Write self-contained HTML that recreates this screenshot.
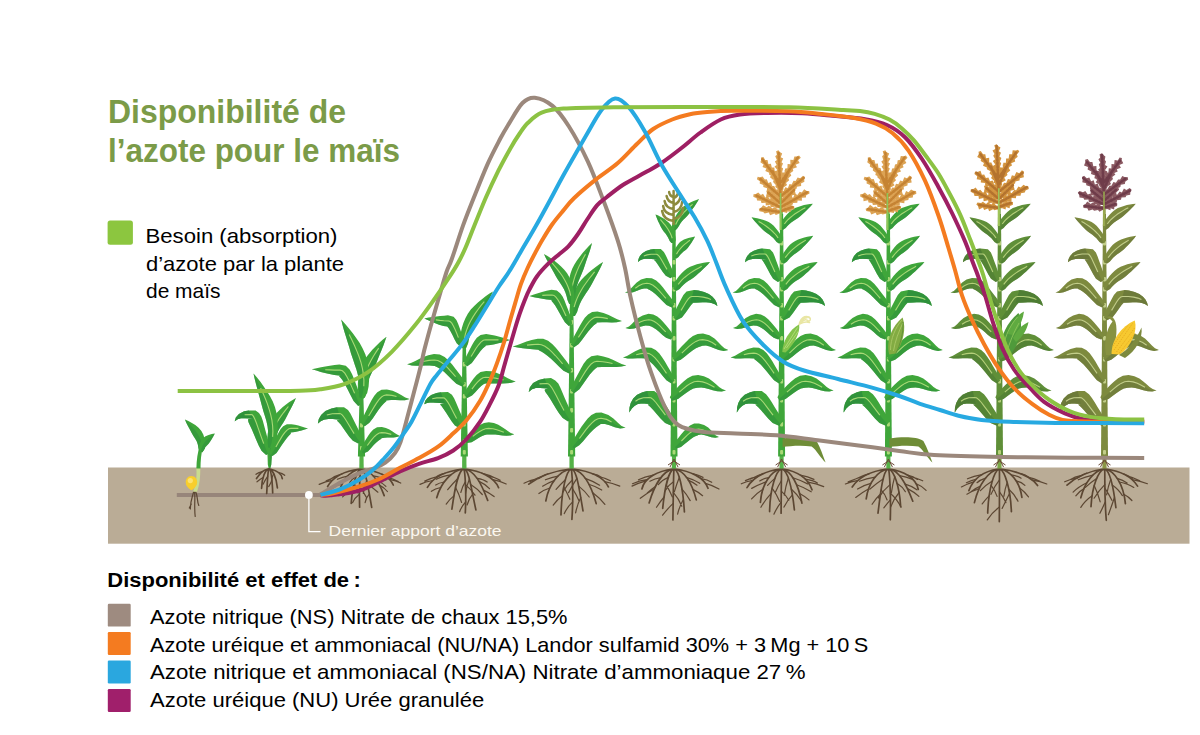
<!DOCTYPE html>
<html lang="fr"><head><meta charset="utf-8"><title>Disponibilité de l’azote pour le maïs</title>
<style>html,body{margin:0;padding:0;background:#fff;}body{width:1200px;height:735px;overflow:hidden;font-family:"Liberation Sans",sans-serif;}svg{display:block;}text{font-family:"Liberation Sans",sans-serif;}</style>
</head><body>
<svg width="1200" height="735" viewBox="0 0 1200 735">
<rect x="0" y="0" width="1200" height="735" fill="#fff"/>
<rect x="108" y="467.5" width="1081.5" height="76.2" fill="#baac96"/>
<g id="plants">
<path d="M176.8 495H322" stroke="#97857a" stroke-width="4" fill="none"/>
<path d="M193.6 492c-1.5 6 -3.5 10 -3.2 17M194.6 492c0.8 7 -0.6 14 0.6 24.5M195.8 492c2.2 5 1 9 3 13.5M191.3 504l-2 4" fill="none" stroke="#5c4733" stroke-width="1.2" stroke-linecap="round"/>
<path d="M196.3 467.5C197 478 196 486 193 491.5L197 491.8C199.8 484 200.4 476 200.3 467.5Z" fill="#c9dc8e"/>
<path d="M191.4 476C195 476 197.2 479 197.2 482.3C197.2 485.8 194.8 488 192.6 489.6C191.9 490.3 191 490.3 190.3 489.6C188 488 185.7 485.8 185.7 482.3C185.7 479 188 476 191.4 476Z" fill="#f8ce2c"/><circle cx="190.3" cy="480.6" r="2.6" fill="#fde272"/>
<path d="M196.4 468.5C196.6 460 197.6 452 200 445L203 447C201 454 200.6 461 200.5 468.5Z" fill="#3fa63a"/>
<path d="M202.3 452.4 204.9 448.2 205.1 443.6 204.6 439.1 203.4 434.8 201.4 430.9 198.6 427.7 195.3 425.1 191.9 422.9 188.4 421 184.9 419.5 184.9 419.5 186.4 423 188.2 426.4 190 429.8 191.7 433.1 193.4 436.1 195.2 438.8 196.8 441.5 197.8 444.4 198.3 447.6 199.3 451.6 Z" fill="#3fa63a"/>
<path d="M200.8 452 201.6 447.9 201.5 444 200.7 440.3 199.3 436.8 197.4 433.5 195.2 430.4 192.7 427.4 190 424.7 187.4 422 184.9 419.5 184.9 419.5 186.4 423 188.2 426.4 190 429.8 191.7 433.1 193.4 436.1 195.2 438.8 196.8 441.5 197.8 444.4 198.3 447.6 199.3 451.6 Z" fill="#2d8f3c" opacity=".55"/>
<path d="M202.5 451.9 204.2 449.4 205.3 447.3 206.9 445.5 208.6 443.7 210.2 441.5 211.8 438.9 213.4 436.2 214.8 433.4 214.8 433.4 211.7 434 208.6 434.9 205.5 436.3 202.8 438.3 200.8 441.3 199.4 444.7 198.7 448.3 199.9 452.1 Z" fill="#3fa63a"/>
<path d="M201.2 452 201.4 448.8 202.4 446 203.8 443.4 205.7 441 207.9 438.9 210.2 436.9 212.5 435.1 214.8 433.4 214.8 433.4 213.4 436.2 211.8 438.9 210.2 441.5 208.6 443.7 206.9 445.5 205.3 447.3 204.2 449.4 202.5 451.9 Z" fill="#2d8f3c" opacity=".55"/>
<path d="M267.9 469C263 470.2 260.9 472.5 256.5 478.6M268.3 469C265.5 470.2 261.9 476.8 261.6 488.3M268.8 469C267.9 470.2 267.5 479.2 266.7 493.5M269.3 469C270.6 470.2 272.2 478.9 272.7 492.9M269.7 469C272.6 470.2 276.2 476.6 277.4 487.8M270.1 469C275 470.2 281.7 472.5 282.3 478.6" fill="none" stroke="#5c4733" stroke-width="1.7" stroke-linecap="round"/>
<path d="M262.5 471.6Q258.6 472.2 256 474.3M263.1 477.4Q260.6 478.9 257 481.8M267.7 476.4Q265.3 479.6 263.1 484.2M271.8 480.5Q271 482.8 268.7 486.6M273.7 473.5Q271.7 477 271.3 481.9M278.9 472.7Q282.4 473.3 284.7 475.3" fill="none" stroke="#5c4733" stroke-width="1.2" stroke-linecap="round"/>
<path d="M270.4 468 271.3 464.6 271.5 461 271.8 457.4 272 453.9 272.2 450.6 272.4 447.7 272.5 445.2 272.4 443.3 272.1 442.2 268.3 442.3 271.8 440.6 271.8 437.4 271.7 434 271.5 432 271.5 432 270.6 433.9 269.8 437.2 269 440.2 271.7 441.3 267.8 442 267.4 443.2 267.2 445.1 267.2 447.6 267.3 450.5 267.4 453.8 267.6 457.4 267.7 461 267.8 464.6 268.6 468 Z" fill="#3fa63a"/>
<path d="M269.5 468 269.6 464.6 269.6 461 269.7 457.4 269.7 453.9 269.8 450.6 269.8 447.6 269.9 445.1 269.9 443.3 270 442.1 270 441.8 270.4 440.4 270.8 437.3 271.1 433.9 271.5 432 271.5 432 271.7 434 271.8 437.4 271.8 440.6 268.3 442.3 272.1 442.2 272.4 443.3 272.5 445.2 272.4 447.7 272.2 450.6 272 453.9 271.8 457.4 271.5 461 271.3 464.6 270.4 468 Z" fill="#2d8f3c" opacity=".55"/>
<path d="M269.9 453.1 270.1 447.2 268.6 441.8 267 436.3 265.5 430.8 264.1 425.5 262.8 420.7 261.3 416.4 259 413.1 255.6 410.4 248.9 410.5 244.1 411.3 238.9 414 235.8 417.5 234.7 421.2 234.7 421.2 237.6 419.2 240.9 418.3 245.1 418.3 253.1 418.6 248.8 419.1 248 419.6 248.4 422 250 425.4 252 429.7 254.1 434.7 256.3 440 258.7 445.5 261.5 450.8 266.1 454.9 Z" fill="#3fa63a"/>
<path d="M268 454 265.8 449 263.7 443.6 261.7 438.1 259.8 432.7 258 427.6 256.4 423 254.9 419.2 253.5 416.4 252.2 414.7 251 414.5 244.6 414.8 239.9 416.1 236.7 418.3 234.7 421.2 234.7 421.2 237.6 419.2 240.9 418.3 245.1 418.3 253.1 418.6 248.8 419.1 248 419.6 248.4 422 250 425.4 252 429.7 254.1 434.7 256.3 440 258.7 445.5 261.5 450.8 266.1 454.9 Z" fill="#2d8f3c" opacity=".55"/>
<path d="M248.9 410.5 244.1 411.3 238.9 414 235.8 417.5 234.7 421.2 234.7 421.2 237.6 419.2 240.9 418.3 245.1 418.3 253.1 418.6 Z" fill="#2d8f3c" opacity=".8"/>
<path d="M263.7 443.6 261.7 438.1 259.8 432.7 258 427.6 256.4 423 254.9 419.2 253.5 416.4 252.2 414.7 251 414.5 244.6 414.8" fill="none" stroke="#a9d976" stroke-width="1.1"/>
<path d="M272.5 456 276.5 452.9 279.2 449 281.8 445.1 284.3 441.4 286.7 438.3 288.8 435.8 290.3 434.2 290.9 433.3 290.6 432.6 294.9 432 298.3 431.3 301.5 430.4 304.6 429.5 308 428.5 308 428.5 304.6 427.4 301.5 426.5 298.4 425.6 295 424.8 291.4 424.2 286.9 424.3 283.2 426.3 280.5 429.3 278.4 432.9 276.4 436.8 274.5 441 272.5 445.2 270.5 449.3 269.5 454 Z" fill="#3fa63a"/>
<path d="M271 455 273.5 451.1 275.9 447.1 278.1 443 280.4 439.1 282.5 435.6 284.7 432.6 286.8 430.3 288.9 428.8 291 428.4 294.9 428.4 298.4 428.4 301.5 428.5 304.6 428.5 308 428.5 308 428.5 304.6 429.5 301.5 430.4 298.3 431.3 294.9 432 290.6 432.6 290.9 433.3 290.3 434.2 288.8 435.8 286.7 438.3 284.3 441.4 281.8 445.1 279.2 449 276.5 452.9 272.5 456 Z" fill="#2d8f3c" opacity=".55"/>
<path d="M275.9 447.1 278.1 443 280.4 439.1 282.5 435.6 284.7 432.6 286.8 430.3 288.9 428.8 291 428.4 294.9 428.4 298.4 428.4" fill="none" stroke="#a9d976" stroke-width="1.1"/>
<path d="M272.8 445.8 274.5 442 275.2 438.6 276.3 435.2 277.7 431.9 279.4 428.7 281.4 425.6 283.4 422.5 285.3 419.2 287.1 415.7 289 412.1 290.9 408.6 292.7 405 294.4 401.5 295.9 397.9 295.9 397.9 292.6 399.9 289.3 402.1 286 404.5 282.8 407.1 279.6 409.9 276.6 413 274 416.5 271.8 420.3 270.2 424.4 268.8 428.6 267.8 433 267.3 437.3 267.3 441.8 269.2 446.2 Z" fill="#3fa63a"/>
<path d="M271 446 270.9 441.9 271.2 437.9 272.1 434.1 273.3 430.3 274.8 426.6 276.6 423 278.7 419.5 281 416.1 283.4 412.8 285.9 409.6 288.4 406.5 291 403.5 293.5 400.7 295.9 397.9 295.9 397.9 294.4 401.5 292.7 405 290.9 408.6 289 412.1 287.1 415.7 285.3 419.2 283.4 422.5 281.4 425.6 279.4 428.7 277.7 431.9 276.3 435.2 275.2 438.6 274.5 442 272.8 445.8 Z" fill="#2d8f3c" opacity=".55"/>
<path d="M271.2 437.9 272.1 434.1 273.3 430.3 274.8 426.6 276.6 423 278.7 419.5 281 416.1 283.4 412.8 285.9 409.6 288.4 406.5" fill="none" stroke="#a9d976" stroke-width="1.1"/>
<path d="M271.9 448.7 275.5 443.4 277 437.4 277.7 431.4 277.8 425.3 277.4 419.2 276.5 413.1 275 407.2 272.8 401.6 270 396.3 266.9 391.2 263.7 386.4 260.4 381.8 257 377.5 253.5 373.4 253.5 373.4 254.6 378.6 256 383.9 257.4 389.3 258.9 394.8 260.4 400.2 261.8 405.6 263.3 410.9 264.9 416 266.4 421.1 267.5 426.2 268.1 431.3 268.2 436.5 267.8 441.6 268.1 447.3 Z" fill="#3fa63a"/>
<path d="M270 448 271.6 442.5 272.6 436.9 272.9 431.3 272.6 425.7 271.9 420.2 270.7 414.6 269.1 409.1 267.3 403.6 265.2 398.2 262.9 393 260.6 387.9 258.2 382.9 255.8 378 253.5 373.4 253.5 373.4 254.6 378.6 256 383.9 257.4 389.3 258.9 394.8 260.4 400.2 261.8 405.6 263.3 410.9 264.9 416 266.4 421.1 267.5 426.2 268.1 431.3 268.2 436.5 267.8 441.6 268.1 447.3 Z" fill="#2d8f3c" opacity=".55"/>
<path d="M272.6 436.9 272.9 431.3 272.6 425.7 271.9 420.2 270.7 414.6 269.1 409.1 267.3 403.6 265.2 398.2 262.9 393 260.6 387.9" fill="none" stroke="#a9d976" stroke-width="1.1"/>
<path d="M359.8 469C346.3 470.8 333.7 476 327.6 486.5M360.2 469C350.7 470.8 340.5 480.1 338.9 495.4M360.7 469C356.8 470.8 352.6 483.7 351.2 503.4M360.9 469C360.3 470.8 358.9 485.3 359.6 507.2M361.4 469C365.9 470.8 367.8 485.4 371.7 507.3M361.8 469C371.1 470.8 378.5 480.2 384.2 495.6M362.2 469C376.1 470.8 389.1 475.4 393.3 485" fill="none" stroke="#5c4733" stroke-width="1.7" stroke-linecap="round"/>
<path d="M342 473.9Q334.8 475.9 330.1 479.4M336.6 477Q331.8 478.2 326.2 480.9M332.4 480.4Q325.3 481.6 319.2 484.4M347.6 476.1Q342.6 477 337.4 479.3M343 482.3Q336 484.3 331.9 487.8M342.1 484Q336.5 485.2 333 487.9M355.9 476.6Q352.4 478.9 349.6 482.7M354.1 482.8Q355.5 487.1 357.9 492.9M353 488.4Q347.3 491.9 342.6 496.9M360 476.5Q356.2 480.2 354.2 485.3M359.5 486.4Q362.9 490.9 366.1 496.9M359.4 494.2Q354.7 497.7 352.5 502.7M366.7 480.5Q364.7 486.2 363.3 493.4M367.6 484.3Q372.6 487.5 377.9 492.2M369.4 493.9Q366.1 497.5 365.1 502.6M373.2 475.8Q381.1 477.1 385.8 479.9M376.8 480.4Q382.4 482.7 385.9 486.4M379.8 485.4Q384.4 487.7 387.4 491.5M381.7 474.2Q387.5 475.7 391.1 478.7M386.6 477Q393.3 478.5 398.3 481.5M389.4 479.4Q396.1 480.5 400.7 483.1" fill="none" stroke="#5c4733" stroke-width="1.2" stroke-linecap="round"/>
<path d="M359.3 468.5L360.3 380L362.7 380L363.7 468.5Z" fill="#55b247"/>
<path d="M357.9 456.5L359.9 386L363.1 386L365.1 456.5Z" fill="#3fa63a"/>
<rect x="360" y="446" width="3" height="4.6" rx="1" fill="#a9d976"/>
<rect x="360" y="423" width="3" height="4.6" rx="1" fill="#a9d976"/>
<path d="M363.5 453.4 367.9 451.4 370.9 448.2 373.7 445.1 376.3 442.5 378.7 440.4 380.6 439.2 381.4 438.7 381.3 438.2 384.5 437.7 387.3 437.5 390.3 437.5 393.5 437.4 396.8 437 400 435.9 400 435.9 397.1 434.6 394.7 433 392.2 431.3 389.4 429.6 385.9 428.1 381.9 427.1 377.1 427.3 373.3 429.5 370.5 432.5 368.2 435.8 366 439.3 363.8 442.8 361.6 446.3 360.5 450.6 Z" fill="#3fa63a"/>
<path d="M362 452 364.7 448.8 367.3 445.5 369.8 442.2 372.2 439.1 374.6 436.5 376.9 434.4 379.3 433 381.6 432.6 385.2 432.9 388.4 433.6 391.3 434.4 394.1 435.2 396.9 435.8 400 435.9 400 435.9 396.8 437 393.5 437.4 390.3 437.5 387.3 437.5 384.5 437.7 381.3 438.2 381.4 438.7 380.6 439.2 378.7 440.4 376.3 442.5 373.7 445.1 370.9 448.2 367.9 451.4 363.5 453.4 Z" fill="#2d8f3c" opacity=".55"/>
<path d="M367.3 445.5 369.8 442.2 372.2 439.1 374.6 436.5 376.9 434.4 379.3 433 381.6 432.6 385.2 432.9 388.4 433.6 391.3 434.4" fill="none" stroke="#a9d976" stroke-width="1.1"/>
<path d="M361.8 440.5 361 435.1 358.9 430.6 356.6 426.1 354.5 421.7 352.4 417.5 350.4 413.6 348 410 344 407.3 337.1 407.3 331.5 408.4 325.4 411.1 321.1 414.9 318.7 419.2 317.9 423.6 317.9 423.6 321 421 324.5 419.5 328.3 418.9 332.9 419.1 340.9 419.7 337.3 420.2 336.8 420.4 338.4 421.9 340.7 424.6 343.3 428.2 346.1 432.3 349.3 436.7 352.9 440.8 358.2 443.5 Z" fill="#3fa63a"/>
<path d="M360 442 356.9 438 354.1 433.6 351.4 429.2 348.9 425 346.5 421 344.4 417.7 342.4 415.2 340.6 413.7 339 413.5 332.2 413.8 326.8 415 322.8 417.2 319.9 420.1 317.9 423.6 317.9 423.6 321 421 324.5 419.5 328.3 418.9 332.9 419.1 340.9 419.7 337.3 420.2 336.8 420.4 338.4 421.9 340.7 424.6 343.3 428.2 346.1 432.3 349.3 436.7 352.9 440.8 358.2 443.5 Z" fill="#2d8f3c" opacity=".55"/>
<path d="M337.1 407.3 331.5 408.4 325.4 411.1 321.1 414.9 318.7 419.2 317.9 423.6 317.9 423.6 321 421 324.5 419.5 328.3 418.9 332.9 419.1 340.9 419.7 Z" fill="#2d8f3c" opacity=".8"/>
<path d="M354.1 433.6 351.4 429.2 348.9 425 346.5 421 344.4 417.7 342.4 415.2 340.6 413.7 339 413.5 332.2 413.8 326.8 415" fill="none" stroke="#a9d976" stroke-width="1.1"/>
<path d="M364.7 426.2 369.4 422.8 372.7 418.4 375.7 414 378.6 409.8 381.3 406.3 383.8 403.6 385.7 401.8 386.5 401.1 386.1 400.5 391.1 400 395.5 400.1 400.1 400.3 404.9 400.2 409.7 399.1 409.7 399.1 405.3 397.4 401.6 395.3 397.6 392.9 392.7 390.7 386.9 389.4 381.5 389.7 377.3 392.2 374.3 395.7 371.8 399.8 369.4 404.3 367.1 408.9 364.7 413.7 362.5 418.5 361.3 423.8 Z" fill="#3fa63a"/>
<path d="M363 425 365.9 420.6 368.7 416 371.4 411.5 374 407.1 376.5 403.1 379 399.6 381.5 397 384 395.4 386.5 394.9 391.9 395.4 396.5 396.5 400.8 397.8 405.1 398.8 409.7 399.1 409.7 399.1 404.9 400.2 400.1 400.3 395.5 400.1 391.1 400 386.1 400.5 386.5 401.1 385.7 401.8 383.8 403.6 381.3 406.3 378.6 409.8 375.7 414 372.7 418.4 369.4 422.8 364.7 426.2 Z" fill="#2d8f3c" opacity=".55"/>
<path d="M368.7 416 371.4 411.5 374 407.1 376.5 403.1 379 399.6 381.5 397 384 395.4 386.5 394.9 391.9 395.4 396.5 396.5" fill="none" stroke="#a9d976" stroke-width="1.1"/>
<path d="M361.8 404.1 360.9 397.6 358.7 391.5 356.5 385.4 354.3 379.6 352.1 374.3 349.6 369.6 345.8 365.8 339.4 364.5 334.6 365.1 329.8 365.8 325.3 366.5 321 367.2 316.5 368.2 311.8 369.3 311.8 369.3 316.5 370.6 320.8 371.9 325 373 329.5 374.1 334.4 375 340.6 375.7 339 375.9 339.9 376.9 342.2 379.7 344.8 384 347.6 389.3 350.5 395 353.6 401 358.2 405.9 Z" fill="#3fa63a"/>
<path d="M360 405 357.2 399.3 354.6 393.3 352 387.4 349.5 381.8 347.1 377 344.8 373.2 342.4 370.8 340 370.1 334.5 370.1 329.6 369.9 325.2 369.8 320.9 369.6 316.5 369.4 311.8 369.3 311.8 369.3 316.5 370.6 320.8 371.9 325 373 329.5 374.1 334.4 375 340.6 375.7 339 375.9 339.9 376.9 342.2 379.7 344.8 384 347.6 389.3 350.5 395 353.6 401 358.2 405.9 Z" fill="#2d8f3c" opacity=".55"/>
<path d="M354.6 393.3 352 387.4 349.5 381.8 347.1 377 344.8 373.2 342.4 370.8 340 370.1 334.5 370.1 329.6 369.9 325.2 369.8" fill="none" stroke="#a9d976" stroke-width="1.1"/>
<path d="M365 397.6 366.2 392.8 366.6 388.4 367.4 384.2 368.6 380 370.2 375.9 372.2 371.8 374.2 367.7 376.1 363.4 377.9 359 379.7 354.5 381.6 350 383.4 345.5 385 341.1 386.5 336.7 386.5 336.7 382.9 339.6 379.3 342.8 375.8 346.2 372.3 349.8 369 353.7 365.8 357.8 363.2 362.4 361.1 367.2 359.7 372.3 358.6 377.5 357.9 382.8 357.8 388.1 358.4 393.4 361 398.4 Z" fill="#3fa63a"/>
<path d="M363 398 362.3 393.1 362.2 388.3 362.7 383.5 363.6 378.8 364.9 374.1 366.7 369.5 368.7 365 371 360.6 373.4 356.3 376 352.1 378.7 348.1 381.3 344.2 384 340.4 386.5 336.7 386.5 336.7 385 341.1 383.4 345.5 381.6 350 379.7 354.5 377.9 359 376.1 363.4 374.2 367.7 372.2 371.8 370.2 375.9 368.6 380 367.4 384.2 366.6 388.4 366.2 392.8 365 397.6 Z" fill="#2d8f3c" opacity=".55"/>
<path d="M362.2 388.3 362.7 383.5 363.6 378.8 364.9 374.1 366.7 369.5 368.7 365 371 360.6 373.4 356.3 376 352.1 378.7 348.1" fill="none" stroke="#a9d976" stroke-width="1.1"/>
<path d="M363.6 398.7 367.2 392.9 368.6 386.5 369.1 380.1 369 373.6 368.4 367.2 367.2 360.8 365.4 354.6 362.8 348.7 359.7 343.1 356.2 337.9 352.6 332.9 348.8 328.2 345 323.8 341.2 319.6 341.2 319.6 342.5 325.1 344.1 330.7 345.9 336.4 347.6 342.1 349.4 347.8 351 353.5 352.9 359 354.7 364.4 356.5 369.7 357.9 375 358.7 380.4 359 385.8 358.8 391.3 359.4 397.3 Z" fill="#3fa63a"/>
<path d="M361.5 398 363 392.1 363.8 386.2 363.9 380.2 363.4 374.3 362.4 368.4 361 362.6 359.1 356.8 356.9 351.1 354.5 345.5 351.9 340 349.2 334.6 346.5 329.4 343.8 324.4 341.2 319.6 341.2 319.6 342.5 325.1 344.1 330.7 345.9 336.4 347.6 342.1 349.4 347.8 351 353.5 352.9 359 354.7 364.4 356.5 369.7 357.9 375 358.7 380.4 359 385.8 358.8 391.3 359.4 397.3 Z" fill="#2d8f3c" opacity=".55"/>
<path d="M363.8 386.2 363.9 380.2 363.4 374.3 362.4 368.4 361 362.6 359.1 356.8 356.9 351.1 354.5 345.5 351.9 340 349.2 334.6" fill="none" stroke="#a9d976" stroke-width="1.1"/>
<path d="M462.8 469C447.6 470.9 433.3 476.5 427.4 487.4M463.1 469C452.4 470.9 441.4 481.1 436.7 497.7M463.6 469C458.1 470.9 455.1 486.2 451.9 509.2M464 469C464.6 470.9 466.6 487.9 465.3 512.9M464.4 469C469.1 470.9 470.8 486.6 475.9 509.9M464.8 469C474.4 470.9 480.9 482.3 487.7 500.4M465.2 469C479.8 470.9 494.3 476.6 498.6 487.7" fill="none" stroke="#5c4733" stroke-width="1.7" stroke-linecap="round"/>
<path d="M445.1 473.3Q439.1 474.3 436.2 476.9M439.1 476.1Q431.5 477.9 424.7 481.1M432.9 480.5Q425.4 481.7 420 484.4M450.9 474.9Q442 476.3 436.3 479.3M444.2 482Q439.2 482.8 435.7 485M440.7 487.5Q435.1 488.7 431.4 491.3M457.6 478.7Q452.6 483.5 447.7 489.7M455.5 487.3Q459.1 494.2 461.6 502.5M453.9 495.9Q449.5 499.3 446.2 504.1M465.3 481.9Q462.3 486.4 460.8 492.5M465.5 484.6Q470.8 489.2 475 495.2M465.7 502Q461.5 506.1 459.6 511.7M469.4 478.9Q466.5 485.5 465.6 493.5M470.7 484.6Q477.4 488.8 482.3 494.5M472.7 494.1Q468.6 498.8 467.1 505M477.1 478.4Q483.6 479.4 487.2 482M479.1 481.4Q485.6 484.3 489.5 488.7M483.5 490.1Q488.9 492.6 494.1 496.6M481.6 473Q489.7 474.9 495.7 478.2M487.8 476Q495.5 477.4 500.2 480.3M492.9 479.7Q499.9 481.1 506.2 484" fill="none" stroke="#5c4733" stroke-width="1.2" stroke-linecap="round"/>
<path d="M462.1 468.5L463.1 335L465.5 335L466.5 468.5Z" fill="#55b247"/>
<path d="M460.7 456.5L462.7 341L465.9 341L467.9 456.5Z" fill="#3fa63a"/>
<rect x="462.8" y="450" width="3" height="4.6" rx="1" fill="#a9d976"/>
<rect x="462.8" y="439" width="3" height="4.6" rx="1" fill="#a9d976"/>
<rect x="462.8" y="422" width="3" height="4.6" rx="1" fill="#a9d976"/>
<rect x="462.8" y="394" width="3" height="4.6" rx="1" fill="#a9d976"/>
<rect x="462.8" y="382" width="3" height="4.6" rx="1" fill="#a9d976"/>
<rect x="462.8" y="362" width="3" height="4.6" rx="1" fill="#a9d976"/>
<path d="M466.8 443.1 471.6 442.2 475.4 439.9 478.9 437.8 482.1 436.1 484.8 435 486.9 434.6 488.4 434.5 492 434.5 495.4 434.6 498.9 435 502.6 435.4 506.5 435.7 510.4 435.4 514.3 434.3 514.3 434.3 510.8 432.9 507.8 431.1 505 429 501.9 426.9 498.3 424.8 493.9 423.1 488.8 422.3 484 423 479.9 424.9 476.4 427.3 473.2 430.1 470.1 432.9 467 435.7 464.6 439.7 Z" fill="#3fa63a"/>
<path d="M465.7 441.4 469.3 439 472.8 436.4 476.1 433.9 479.3 431.7 482.4 429.9 485.5 428.8 488.6 428.4 493 428.8 496.8 429.7 500.4 430.9 503.8 432.2 507.2 433.4 510.6 434.2 514.3 434.3 514.3 434.3 510.4 435.4 506.5 435.7 502.6 435.4 498.9 435 495.4 434.6 492 434.5 488.4 434.5 486.9 434.6 484.8 435 482.1 436.1 478.9 437.8 475.4 439.9 471.6 442.2 466.8 443.1 Z" fill="#2d8f3c" opacity=".55"/>
<path d="M472.8 436.4 476.1 433.9 479.3 431.7 482.4 429.9 485.5 428.8 488.6 428.4 493 428.8 496.8 429.7 500.4 430.9 503.8 432.2" fill="none" stroke="#a9d976" stroke-width="1.1"/>
<path d="M463.9 425.6 463.5 420.2 461.6 415.6 459.6 411 457.7 406.5 455.9 402.2 454.1 398.2 451.9 394.7 447.9 392.1 440.9 392.2 436.5 393 431.2 395.1 427.4 397.9 425.1 401.1 424.3 404.3 424.3 404.3 426.9 403 429.8 402.4 433.2 402.4 437.3 402.8 444.9 403.4 440.9 404 440.1 404.4 441.5 406 443.6 408.9 446 412.6 448.7 416.8 451.6 421.2 454.9 425.6 460.1 428.4 Z" fill="#3fa63a"/>
<path d="M462 427 459.2 422.9 456.6 418.4 454.2 413.9 451.9 409.5 449.8 405.5 447.8 402.1 446 399.6 444.4 398 442.9 397.8 436.9 397.9 432.2 398.7 428.6 400.1 426 402 424.3 404.3 424.3 404.3 426.9 403 429.8 402.4 433.2 402.4 437.3 402.8 444.9 403.4 440.9 404 440.1 404.4 441.5 406 443.6 408.9 446 412.6 448.7 416.8 451.6 421.2 454.9 425.6 460.1 428.4 Z" fill="#2d8f3c" opacity=".55"/>
<path d="M440.9 392.2 436.5 393 431.2 395.1 427.4 397.9 425.1 401.1 424.3 404.3 424.3 404.3 426.9 403 429.8 402.4 433.2 402.4 437.3 402.8 444.9 403.4 Z" fill="#2d8f3c" opacity=".8"/>
<path d="M456.6 418.4 454.2 413.9 451.9 409.5 449.8 405.5 447.8 402.1 446 399.6 444.4 398 442.9 397.8 436.9 397.9 432.2 398.7" fill="none" stroke="#a9d976" stroke-width="1.1"/>
<path d="M467.2 397.9 472 395.4 475.5 391.9 478.6 388.5 481.5 385.7 483.9 383.9 485.4 383.4 485.3 383.6 490.2 383.6 494.3 383.5 498.4 383.5 502.6 383.5 506.9 383.3 511.3 382.7 515.7 381.4 515.7 381.4 511.5 379.9 507.8 378.2 504.3 376.3 500.5 374.5 496.3 372.7 491.4 371.3 486.1 370.9 480.5 372.1 476.6 375 473.6 378.5 470.9 382.3 468.2 386.2 465.7 390.3 464.2 395.1 Z" fill="#3fa63a"/>
<path d="M465.7 396.5 468.9 392.9 471.9 389.1 474.7 385.4 477.5 382.1 480.3 379.5 483 377.7 485.7 377.2 490.8 377.5 495.3 378.1 499.5 379 503.5 379.9 507.4 380.8 511.4 381.3 515.7 381.4 515.7 381.4 511.3 382.7 506.9 383.3 502.6 383.5 498.4 383.5 494.3 383.5 490.2 383.6 485.3 383.6 485.4 383.4 483.9 383.9 481.5 385.7 478.6 388.5 475.5 391.9 472 395.4 467.2 397.9 Z" fill="#2d8f3c" opacity=".55"/>
<path d="M471.9 389.1 474.7 385.4 477.5 382.1 480.3 379.5 483 377.7 485.7 377.2 490.8 377.5 495.3 378.1 499.5 379 503.5 379.9" fill="none" stroke="#a9d976" stroke-width="1.1"/>
<path d="M464.9 383.5 462.5 378 459.1 373.5 455.6 369 452.2 364.6 448.6 360.5 444.7 357 439.8 354.5 434 354.1 428.3 355.2 423.3 356.9 419.1 359 415.3 361 411.5 362.8 407.1 364.3 407.1 364.3 411.8 365.4 416.4 365.8 420.9 365.7 425.3 365.5 429.7 365.5 434.6 365.9 435.8 366.6 437.8 367.5 440.8 369.3 444.3 372.1 448.1 375.7 452.1 379.7 456.4 383.8 462.1 386.5 Z" fill="#3fa63a"/>
<path d="M463.5 385 459.4 380.9 455.6 376.6 451.8 372.4 448.2 368.4 444.7 364.9 441.2 362.2 437.8 360.5 434.3 360 429 360.4 424.3 361.2 420 362.3 415.8 363.4 411.6 364.1 407.1 364.3 407.1 364.3 411.8 365.4 416.4 365.8 420.9 365.7 425.3 365.5 429.7 365.5 434.6 365.9 435.8 366.6 437.8 367.5 440.8 369.3 444.3 372.1 448.1 375.7 452.1 379.7 456.4 383.8 462.1 386.5 Z" fill="#2d8f3c" opacity=".55"/>
<path d="M455.6 376.6 451.8 372.4 448.2 368.4 444.7 364.9 441.2 362.2 437.8 360.5 434.3 360 429 360.4 424.3 361.2 420 362.3" fill="none" stroke="#a9d976" stroke-width="1.1"/>
<path d="M467.3 366.2 471.8 363 474.9 358.8 477.8 354.7 480.5 351.1 483 348.2 485.1 346.4 486 345.8 485.2 345.6 490.4 345 494.6 344.2 498.4 343.3 502.2 342.4 505.9 341.3 510 340 510 340 506 338.7 502.2 337.6 498.5 336.5 494.7 335.6 490.5 334.7 486.2 334.1 480.6 334.9 476.8 337.7 474.1 341.4 471.8 345.5 469.6 349.8 467.3 354.3 465.1 358.7 464.1 363.8 Z" fill="#3fa63a"/>
<path d="M465.7 365 468.5 360.9 471.1 356.5 473.7 352.3 476.1 348.3 478.6 344.8 480.9 342.1 483.3 340.3 485.7 339.8 490.5 339.9 494.6 339.9 498.5 339.9 502.2 340 506 340 510 340 510 340 505.9 341.3 502.2 342.4 498.4 343.3 494.6 344.2 490.4 345 485.2 345.6 486 345.8 485.1 346.4 483 348.2 480.5 351.1 477.8 354.7 474.9 358.8 471.8 363 467.3 366.2 Z" fill="#2d8f3c" opacity=".55"/>
<path d="M471.1 356.5 473.7 352.3 476.1 348.3 478.6 344.8 480.9 342.1 483.3 340.3 485.7 339.8 490.5 339.9 494.6 339.9 498.5 339.9" fill="none" stroke="#a9d976" stroke-width="1.1"/>
<path d="M463.7 345.2 463.5 340.4 462.3 336 460.9 331.6 459.5 327.4 458 323.5 456.4 319.9 453.6 316.7 447.9 315.2 444.2 315.7 440.2 316.1 436.3 316.4 432.5 316.9 428.5 317.5 424.3 318.6 424.3 318.6 428.2 320.2 431.8 321.7 435.3 323.3 439.1 324.7 443.5 325.9 449.3 326.7 446.8 326.2 447.2 326.4 448.7 328.3 450.5 331.3 452.5 335 454.5 339.2 456.7 343.3 460.3 346.8 Z" fill="#3fa63a"/>
<path d="M462 346 460.1 341.9 458.4 337.6 456.7 333.3 455 329.3 453.4 325.9 451.8 323.2 450.2 321.5 448.6 321 443.8 320.8 439.7 320.4 435.8 319.9 432.1 319.3 428.3 318.9 424.3 318.6 424.3 318.6 428.2 320.2 431.8 321.7 435.3 323.3 439.1 324.7 443.5 325.9 449.3 326.7 446.8 326.2 447.2 326.4 448.7 328.3 450.5 331.3 452.5 335 454.5 339.2 456.7 343.3 460.3 346.8 Z" fill="#2d8f3c" opacity=".55"/>
<path d="M458.4 337.6 456.7 333.3 455 329.3 453.4 325.9 451.8 323.2 450.2 321.5 448.6 321 443.8 320.8 439.7 320.4 435.8 319.9" fill="none" stroke="#a9d976" stroke-width="1.1"/>
<path d="M466.3 347.8 468.1 343.3 468.9 339.2 470 335.2 471.6 331.3 473.6 327.5 475.9 323.8 478.2 320.1 480.5 316.2 482.6 312.1 484.7 307.9 486.9 303.8 489.1 299.6 491.1 295.5 492.9 291.4 492.9 291.4 489.1 293.8 485.3 296.5 481.6 299.4 477.9 302.5 474.2 305.9 470.8 309.5 467.8 313.7 465.4 318.2 463.4 322.9 461.9 327.8 460.8 332.8 460.1 338 460.2 343.1 462.3 348.2 Z" fill="#3fa63a"/>
<path d="M464.3 348 464.1 343.2 464.5 338.6 465.4 334 466.8 329.6 468.5 325.2 470.6 321 473 316.9 475.6 312.9 478.4 309 481.3 305.2 484.3 301.6 487.2 298.1 490.1 294.7 492.9 291.4 492.9 291.4 491.1 295.5 489.1 299.6 486.9 303.8 484.7 307.9 482.6 312.1 480.5 316.2 478.2 320.1 475.9 323.8 473.6 327.5 471.6 331.3 470 335.2 468.9 339.2 468.1 343.3 466.3 347.8 Z" fill="#2d8f3c" opacity=".55"/>
<path d="M464.5 338.6 465.4 334 466.8 329.6 468.5 325.2 470.6 321 473 316.9 475.6 312.9 478.4 309 481.3 305.2 484.3 301.6" fill="none" stroke="#a9d976" stroke-width="1.1"/>
<path d="M570.2 469C553.6 470.9 540.8 475 528.8 484.2M570.7 469C560.2 470.9 549.1 482.6 545.8 501M571.1 469C566.5 470.9 561.6 488.9 561 515M571.5 469C571.7 470.9 573.8 490.9 571.9 519.5M571.9 469C576.6 470.9 579 487 583 510.9M572.3 469C582.5 470.9 590.7 483.7 596.2 503.6M572.7 469C588.8 470.9 603 476.2 608.4 486.8" fill="none" stroke="#5c4733" stroke-width="1.7" stroke-linecap="round"/>
<path d="M548.1 473.8Q542.5 475.5 538.5 478.7M542.1 476.2Q535.6 478.3 530.2 481.8M537.4 478.5Q529.8 480.1 524 483.2M558 476.1Q551.7 477.2 545.4 479.8M554.1 480.6Q548.2 482.7 542.6 486.2M549.8 488Q543.4 490 538.9 493.5M565.4 479.7Q560.9 483.8 556.1 489.4M563.7 486.8Q566.8 492.3 569.9 499.3M562.4 495.8Q557.2 499.7 553.2 505.1M572.3 480Q566.6 485.3 562.8 492.1M572.6 488.9Q576.2 494.2 579.1 500.9M572.7 501.9Q567.3 507 564.3 513.6M576.9 478.3Q572.7 484.7 568.6 492.6M578.7 486.1Q584.7 490.8 589.2 497M580.8 497.5Q577.3 504.4 575.6 512.9M585.2 478.4Q592.7 481 599.6 485.2M588.8 484.2Q595.8 486.3 601.7 490M592.5 492.5Q599.5 497.7 604.9 504.4M592.1 473.6Q598.2 474.8 601.8 477.5M597.2 476Q604 477.6 610.4 480.8M604.7 481.6Q612.5 483.1 619.8 486.1" fill="none" stroke="#5c4733" stroke-width="1.2" stroke-linecap="round"/>
<path d="M569.4 468.5L570.4 290L572.8 290L573.8 468.5Z" fill="#55b247"/>
<path d="M568 456.5L570 296L573.2 296L575.2 456.5Z" fill="#3fa63a"/>
<rect x="570.1" y="450" width="3" height="4.6" rx="1" fill="#a9d976"/>
<rect x="570.1" y="428" width="3" height="4.6" rx="1" fill="#a9d976"/>
<rect x="570.1" y="408" width="3" height="4.6" rx="1" fill="#a9d976"/>
<rect x="570.1" y="389" width="3" height="4.6" rx="1" fill="#a9d976"/>
<rect x="570.1" y="368" width="3" height="4.6" rx="1" fill="#a9d976"/>
<rect x="570.1" y="343" width="3" height="4.6" rx="1" fill="#a9d976"/>
<rect x="570.1" y="320" width="3" height="4.6" rx="1" fill="#a9d976"/>
<path d="M574.1 448.4 579.2 445.3 583.1 441.2 586.6 437 590 433.1 593.3 429.8 596.2 427.2 598.6 425.6 600 424.7 600.6 424 605 423.9 609.6 425.2 614.8 427.2 620.2 428.6 625.6 427.8 625.6 427.8 621.2 425.8 617.6 422.6 613.7 418.7 608.4 414.9 601.4 412.6 595.9 412.8 591.4 415.1 587.7 418.4 584.6 422.4 581.6 426.6 578.7 431.1 575.8 435.7 572.9 440.3 570.9 445.6 Z" fill="#3fa63a"/>
<path d="M572.5 447 576 442.8 579.4 438.5 582.7 434.1 585.8 429.9 588.9 426.1 592 422.8 595 420.3 598 418.8 601 418.3 606.7 419.4 611.6 421.9 616.2 424.9 620.7 427.2 625.6 427.8 625.6 427.8 620.2 428.6 614.8 427.2 609.6 425.2 605 423.9 600.6 424 600 424.7 598.6 425.6 596.2 427.2 593.3 429.8 590 433.1 586.6 437 583.1 441.2 579.2 445.3 574.1 448.4 Z" fill="#2d8f3c" opacity=".55"/>
<path d="M579.4 438.5 582.7 434.1 585.8 429.9 588.9 426.1 592 422.8 595 420.3 598 418.8 601 418.3 606.7 419.4 611.6 421.9" fill="none" stroke="#a9d976" stroke-width="1.1"/>
<path d="M571.9 418.6 571.1 412.7 569 407.6 566.7 402.5 564.5 397.4 562.4 392.4 560.4 387.8 558.3 383.6 555.3 380.4 551 378.1 544.7 378.5 538.8 379.9 533.1 383.1 529.8 387.4 528.7 392 528.7 392 532 389.3 535.7 388 540.2 387.9 548.3 388.5 545.2 389.3 544.6 389.9 545.4 392 547.6 394.9 550.1 398.8 552.8 403.3 555.8 408.2 559 413.2 562.7 418 568.1 421.4 Z" fill="#3fa63a"/>
<path d="M570 420 566.9 415.4 564 410.4 561.2 405.3 558.6 400.3 556.2 395.6 554 391.4 551.9 387.8 549.9 385.2 548.1 383.7 546.5 383.5 539.5 383.9 534.4 385.6 530.9 388.4 528.7 392 528.7 392 532 389.3 535.7 388 540.2 387.9 548.3 388.5 545.2 389.3 544.6 389.9 545.4 392 547.6 394.9 550.1 398.8 552.8 403.3 555.8 408.2 559 413.2 562.7 418 568.1 421.4 Z" fill="#2d8f3c" opacity=".55"/>
<path d="M544.7 378.5 538.8 379.9 533.1 383.1 529.8 387.4 528.7 392 528.7 392 532 389.3 535.7 388 540.2 387.9 548.3 388.5 Z" fill="#2d8f3c" opacity=".8"/>
<path d="M564 410.4 561.2 405.3 558.6 400.3 556.2 395.6 554 391.4 551.9 387.8 549.9 385.2 548.1 383.7 546.5 383.5 539.5 383.9" fill="none" stroke="#a9d976" stroke-width="1.1"/>
<path d="M574.2 393.2 579.4 389.2 583.1 384.1 586.6 379.1 589.8 374.5 592.9 370.9 595.5 368.6 596.9 367.7 596.5 367.3 602.1 367 606.9 366.9 611.7 367 616.5 367 621.4 366.6 626.4 365.4 626.4 365.4 621.6 363.9 617.4 362.1 613.3 360 608.7 358.1 603.4 356.4 597.5 355.3 591.3 356.2 586.9 359.5 583.6 363.8 580.8 368.7 578 373.9 575.2 379.3 572.4 384.7 570.8 390.8 Z" fill="#3fa63a"/>
<path d="M572.5 392 575.9 387 579.2 381.7 582.3 376.5 585.3 371.6 588.3 367.4 591.2 364 594.1 361.9 597 361.3 602.8 361.7 607.8 362.5 612.5 363.5 616.9 364.5 621.5 365.2 626.4 365.4 626.4 365.4 621.4 366.6 616.5 367 611.7 367 606.9 366.9 602.1 367 596.5 367.3 596.9 367.7 595.5 368.6 592.9 370.9 589.8 374.5 586.6 379.1 583.1 384.1 579.4 389.2 574.2 393.2 Z" fill="#2d8f3c" opacity=".55"/>
<path d="M579.2 381.7 582.3 376.5 585.3 371.6 588.3 367.4 591.2 364 594.1 361.9 597 361.3 602.8 361.7 607.8 362.5 612.5 363.5" fill="none" stroke="#a9d976" stroke-width="1.1"/>
<path d="M571.9 370.5 569.4 365.2 566.1 360.7 562.6 356.2 559.3 351.9 555.8 347.7 552.2 343.9 548.1 340.7 543.2 338.8 537.7 338.8 531.7 339.9 526.5 341.5 522 343.2 517.5 344.9 512.6 346.4 512.6 346.4 517.7 347.6 522.7 348.3 527.5 348.8 532.5 349.2 538.3 349.8 539.7 350.7 541.7 351.8 544.4 353.5 547.7 355.9 551.3 359.1 555.2 362.8 559.2 366.8 563.5 370.8 569.1 373.5 Z" fill="#3fa63a"/>
<path d="M570.5 372 566.5 368 562.6 363.8 558.9 359.5 555.3 355.5 551.8 351.8 548.3 348.7 544.9 346.3 541.4 344.7 538 344.3 532.1 344.6 527 345.1 522.3 345.8 517.6 346.3 512.6 346.4 512.6 346.4 517.7 347.6 522.7 348.3 527.5 348.8 532.5 349.2 538.3 349.8 539.7 350.7 541.7 351.8 544.4 353.5 547.7 355.9 551.3 359.1 555.2 362.8 559.2 366.8 563.5 370.8 569.1 373.5 Z" fill="#2d8f3c" opacity=".55"/>
<path d="M562.6 363.8 558.9 359.5 555.3 355.5 551.8 351.8 548.3 348.7 544.9 346.3 541.4 344.7 538 344.3 532.1 344.6 527 345.1" fill="none" stroke="#a9d976" stroke-width="1.1"/>
<path d="M574.1 347.2 578.7 344 582.1 339.8 585.2 335.5 588.2 331.6 591 328.2 593.6 325.6 595.6 323.9 596.7 323.2 596.6 322.6 602.1 322.2 606.9 322.2 611.8 322.4 616.8 322.2 622 321 622 321 617.2 319.3 613.1 317.2 608.7 315 603.5 312.9 597.4 311.6 592.1 312 588 314.4 584.8 317.8 582.2 321.7 579.7 326 577.3 330.5 574.8 335 572.4 339.6 570.9 344.8 Z" fill="#3fa63a"/>
<path d="M572.5 346 575.5 341.8 578.4 337.4 581.2 333 584 328.8 586.6 324.9 589.2 321.7 591.8 319.2 594.4 317.6 597 317.1 602.8 317.6 607.8 318.6 612.4 319.8 617 320.7 622 321 622 321 616.8 322.2 611.8 322.4 606.9 322.2 602.1 322.2 596.6 322.6 596.7 323.2 595.6 323.9 593.6 325.6 591 328.2 588.2 331.6 585.2 335.5 582.1 339.8 578.7 344 574.1 347.2 Z" fill="#2d8f3c" opacity=".55"/>
<path d="M578.4 337.4 581.2 333 584 328.8 586.6 324.9 589.2 321.7 591.8 319.2 594.4 317.6 597 317.1 602.8 317.6 607.8 318.6" fill="none" stroke="#a9d976" stroke-width="1.1"/>
<path d="M572.2 324.1 571.5 319 569.8 314.3 568 309.6 566.2 305 564.5 300.6 562.6 296.6 560.2 293.2 556.8 290.4 551.5 289.8 546.6 290.7 542 291.9 537.9 293.2 533.9 294.6 529.5 296 529.5 296 534 297.3 538.3 298.1 542.5 298.8 547 299.5 552.5 300.1 551.2 300.5 551.6 301 553.1 302.7 555.2 305.6 557.4 309.2 559.8 313.4 562.2 317.8 564.9 322.3 568.8 325.9 Z" fill="#3fa63a"/>
<path d="M570.5 325 568.2 320.6 566 316.1 563.9 311.5 561.8 307.1 559.8 303.1 557.9 299.7 555.9 297.1 554 295.4 552 295 546.8 295.1 542.3 295.4 538.1 295.7 534 295.9 529.5 296 529.5 296 534 297.3 538.3 298.1 542.5 298.8 547 299.5 552.5 300.1 551.2 300.5 551.6 301 553.1 302.7 555.2 305.6 557.4 309.2 559.8 313.4 562.2 317.8 564.9 322.3 568.8 325.9 Z" fill="#2d8f3c" opacity=".55"/>
<path d="M566 316.1 563.9 311.5 561.8 307.1 559.8 303.1 557.9 299.7 555.9 297.1 554 295.4 552 295 546.8 295.1 542.3 295.4" fill="none" stroke="#a9d976" stroke-width="1.1"/>
<path d="M574.9 316 577.1 312 578.3 308.1 579.7 304.3 581.5 300.6 583.6 296.9 586 293.3 588.4 289.7 590.7 285.9 592.9 282 595 278 597.2 273.9 599.3 269.9 601.3 266 603 262 603 262 599.4 264.3 595.7 266.9 592.1 269.7 588.5 272.7 585 275.9 581.6 279.4 578.7 283.3 576.2 287.6 574.2 292.1 572.4 296.7 571 301.4 570 306.2 569.6 311.1 571.1 316 Z" fill="#3fa63a"/>
<path d="M573 316 573.3 311.5 574.1 307.2 575.4 302.8 577 298.6 578.9 294.5 581.1 290.5 583.5 286.5 586.2 282.7 588.9 279 591.8 275.3 594.6 271.8 597.5 268.4 600.3 265.1 603 262 603 262 601.3 266 599.3 269.9 597.2 273.9 595 278 592.9 282 590.7 285.9 588.4 289.7 586 293.3 583.6 296.9 581.5 300.6 579.7 304.3 578.3 308.1 577.1 312 574.9 316 Z" fill="#2d8f3c" opacity=".55"/>
<path d="M574.1 307.2 575.4 302.8 577 298.6 578.9 294.5 581.1 290.5 583.5 286.5 586.2 282.7 588.9 279 591.8 275.3 594.6 271.8" fill="none" stroke="#a9d976" stroke-width="1.1"/>
<path d="M573.7 301.7 574.9 297.3 575.4 293.2 576.1 289.1 577.2 285 578.6 281 580.3 277 582 272.9 583.7 268.7 585.1 264.4 586.6 260.1 588.1 255.7 589.6 251.4 590.9 247.2 592 243 592 243 588.9 246 585.9 249.3 582.8 252.8 579.9 256.4 577.1 260.3 574.4 264.4 572.2 268.8 570.5 273.4 569.3 278.2 568.4 283.1 567.9 287.9 567.7 292.8 568.1 297.7 570.3 302.3 Z" fill="#3fa63a"/>
<path d="M572 302 571.5 297.5 571.5 293 572 288.5 572.8 284 574 279.6 575.4 275.2 577.1 270.9 579 266.6 581.1 262.4 583.3 258.3 585.5 254.3 587.7 250.4 589.9 246.6 592 243 592 243 590.9 247.2 589.6 251.4 588.1 255.7 586.6 260.1 585.1 264.4 583.7 268.7 582 272.9 580.3 277 578.6 281 577.2 285 576.1 289.1 575.4 293.2 574.9 297.3 573.7 301.7 Z" fill="#2d8f3c" opacity=".55"/>
<path d="M571.5 293 572 288.5 572.8 284 574 279.6 575.4 275.2 577.1 270.9 579 266.6 581.1 262.4 583.3 258.3 585.5 254.3" fill="none" stroke="#a9d976" stroke-width="1.1"/>
<path d="M572.8 304.1 574.6 299.5 574.6 294.9 573.9 290.3 572.7 285.8 571.2 281.5 569.4 277.2 567.1 273.3 564.3 269.7 561.1 266.5 557.8 263.5 554.4 260.8 550.9 258.3 547.5 256.1 544 254 544 254 545.7 257.7 547.6 261.3 549.6 265 551.7 268.7 553.7 272.3 555.7 276 557.8 279.4 560 282.7 562.1 285.9 564 289.2 565.5 292.7 566.6 296.2 567.5 299.9 569.2 303.9 Z" fill="#3fa63a"/>
<path d="M571 304 571 299.7 570.6 295.6 569.7 291.5 568.3 287.5 566.7 283.7 564.7 280 562.5 276.3 560 272.8 557.4 269.4 554.7 266.1 552 262.9 549.3 259.8 546.6 256.9 544 254 544 254 545.7 257.7 547.6 261.3 549.6 265 551.7 268.7 553.7 272.3 555.7 276 557.8 279.4 560 282.7 562.1 285.9 564 289.2 565.5 292.7 566.6 296.2 567.5 299.9 569.2 303.9 Z" fill="#2d8f3c" opacity=".55"/>
<path d="M570.6 295.6 569.7 291.5 568.3 287.5 566.7 283.7 564.7 280 562.5 276.3 560 272.8 557.4 269.4 554.7 266.1 552 262.9" fill="none" stroke="#a9d976" stroke-width="1.1"/>
<path d="M672.8 469C658.5 471 644.7 477.2 641.9 489M673.2 469C663.6 471 654.8 483.4 649.1 502.9M673.6 469C669.2 471 664.9 485.8 662.7 508.3M674 469C673.5 471 673.4 491.1 672.9 520M674.4 469C678.9 471 683 487.5 684.4 511.9M674.8 469C683.9 471 691.6 482.1 696.3 499.9M675.2 469C689.6 471 704.3 476.9 708 488.3" fill="none" stroke="#5c4733" stroke-width="1.7" stroke-linecap="round"/>
<path d="M653.2 475.2Q644.4 476.8 638.5 479.8M647.7 479.3Q638.7 480.7 632.5 483.7M646.2 480.8Q638.9 482.7 632 486.1M661 477.7Q654.6 478.7 649.9 481.2M655.4 486.5Q651.6 489 647.3 492.9M654.3 488.9Q647.4 492.8 640.3 498.3M668.5 477.3Q661.9 480.2 658.3 484.6M666.3 484.9Q669.4 490.2 672.4 497M664.1 497Q660.3 501.4 656.5 507.3M673.5 481.8Q668.1 485.3 665.5 490.3M673.3 492.4Q678.6 498.5 681.8 506.2M673.2 503.4Q667.6 508.6 662.6 515.2M679.3 477.4Q676.6 483.8 674.4 491.7M682 489.2Q686.5 494.1 690.2 500.6M683.4 499.5Q679.4 506.1 677.6 514.2M686.3 477.3Q694.3 479.6 699.7 483.3M688.2 480.1Q692.4 481.9 697 485.2M692.9 489.4Q697.9 491.8 702.6 495.7M692.3 473.5Q697.7 474.7 703 477.4M701.1 478.7Q707.6 479.7 711.7 482.3M705.5 483.3Q713.1 485.4 719 489" fill="none" stroke="#5c4733" stroke-width="1.2" stroke-linecap="round"/>
<path d="M671.9 468.5L672.8 222L675.2 222L676.1 468.5Z" fill="#55b247"/>
<path d="M670.5 456.5L672.5 228L675.5 228L677.5 456.5Z" fill="#3fa63a"/>
<rect x="672.5" y="450" width="3" height="4.6" rx="1" fill="#a9d976"/>
<rect x="672.5" y="422" width="3" height="4.6" rx="1" fill="#a9d976"/>
<rect x="672.5" y="398" width="3" height="4.6" rx="1" fill="#a9d976"/>
<rect x="672.5" y="379" width="3" height="4.6" rx="1" fill="#a9d976"/>
<rect x="672.5" y="357" width="3" height="4.6" rx="1" fill="#a9d976"/>
<rect x="672.5" y="336" width="3" height="4.6" rx="1" fill="#a9d976"/>
<rect x="672.5" y="316" width="3" height="4.6" rx="1" fill="#a9d976"/>
<rect x="672.5" y="303" width="3" height="4.6" rx="1" fill="#a9d976"/>
<rect x="672.5" y="287" width="3" height="4.6" rx="1" fill="#a9d976"/>
<rect x="672.5" y="277" width="3" height="4.6" rx="1" fill="#a9d976"/>
<rect x="672.5" y="260" width="3" height="4.6" rx="1" fill="#a9d976"/>
<path d="M676.3 448.5 681 447 684.6 444.1 687.8 441.4 690.9 438.9 693.7 437.1 696 435.9 697.5 435.4 698.3 434.9 701.1 434.6 704 435.1 707.5 436.1 711.3 437.3 715.3 437.8 719 436.9 719 436.9 715.9 435.4 713.6 433.2 711.2 430.5 708.2 427.6 704.1 424.9 698.9 423.4 694.1 423.6 690 425.5 686.7 428.2 683.8 431.3 681 434.6 678.3 437.9 675.5 441.2 673.7 445.5 Z" fill="#3fa63a"/>
<path d="M675 447 678.3 444.1 681.4 441 684.4 438 687.3 435.1 690.2 432.7 693 430.7 695.8 429.5 698.6 429.1 702.6 429.8 706.1 431.3 709.3 433.3 712.4 435.2 715.6 436.6 719 436.9 719 436.9 715.3 437.8 711.3 437.3 707.5 436.1 704 435.1 701.1 434.6 698.3 434.9 697.5 435.4 696 435.9 693.7 437.1 690.9 438.9 687.8 441.4 684.6 444.1 681 447 676.3 448.5 Z" fill="#2d8f3c" opacity=".55"/>
<path d="M681.4 441 684.4 438 687.3 435.1 690.2 432.7 693 430.7 695.8 429.5 698.6 429.1 702.6 429.8 706.1 431.3 709.3 433.3" fill="none" stroke="#a9d976" stroke-width="1.1"/>
<path d="M674.6 422.3 673 416.4 670 411.7 667 407 664.2 402.3 661.4 398 658.5 394.2 654.2 391.1 647.2 391.1 642.5 392.2 637.1 394.8 633.2 398.6 630.7 403 629.5 407.6 629.2 412.5 629.2 412.5 631.8 408.6 634.7 405.8 637.8 404.1 640.9 403.4 644.4 403.4 650.4 403.9 647.7 404.5 648.1 405 650.4 407 653.5 410.2 656.9 414.3 660.8 418.7 665.1 423.1 671.4 425.7 Z" fill="#3fa63a"/>
<path d="M673 424 669.1 419.8 665.4 415.2 662 410.6 658.8 406.3 655.9 402.5 653.3 399.6 650.9 397.8 648.8 397.5 643.4 397.8 639 399.1 635.5 401.3 632.7 404.4 630.7 408.1 629.2 412.5 629.2 412.5 631.8 408.6 634.7 405.8 637.8 404.1 640.9 403.4 644.4 403.4 650.4 403.9 647.7 404.5 648.1 405 650.4 407 653.5 410.2 656.9 414.3 660.8 418.7 665.1 423.1 671.4 425.7 Z" fill="#2d8f3c" opacity=".55"/>
<path d="M647.2 391.1 642.5 392.2 637.1 394.8 633.2 398.6 630.7 403 629.5 407.6 629.2 412.5 629.2 412.5 631.8 408.6 634.7 405.8 637.8 404.1 640.9 403.4 644.4 403.4 650.4 403.9 Z" fill="#2d8f3c" opacity=".8"/>
<path d="M665.4 415.2 662 410.6 658.8 406.3 655.9 402.5 653.3 399.6 650.9 397.8 648.8 397.5 643.4 397.8 639 399.1 635.5 401.3" fill="none" stroke="#a9d976" stroke-width="1.1"/>
<path d="M672.2 400.7 678 398.9 682.3 395.7 686.4 392.7 690.1 390.2 693.4 388.6 695.9 387.9 697.5 387.7 701.2 387.6 704.8 388.1 708.7 389.1 712.8 390.3 717.2 391.3 721.7 391.5 726 390.5 726 390.5 722.2 389 719.1 386.9 716.1 384.3 712.8 381.4 708.9 378.5 703.9 376.2 698.1 375 692.4 375.7 687.6 378.2 683.6 381.4 679.8 385 676.2 388.7 672.5 392.4 669.8 397.3 Z" fill="#3fa63a"/>
<path d="M671 399 675.2 395.7 679.3 392.2 683.1 388.8 686.9 385.8 690.5 383.4 694.1 381.8 697.8 381.3 702.6 381.9 706.8 383.3 710.8 385.2 714.5 387.3 718.2 389.1 722 390.3 726 390.5 726 390.5 721.7 391.5 717.2 391.3 712.8 390.3 708.7 389.1 704.8 388.1 701.2 387.6 697.5 387.7 695.9 387.9 693.4 388.6 690.1 390.2 686.4 392.7 682.3 395.7 678 398.9 672.2 400.7 Z" fill="#2d8f3c" opacity=".55"/>
<path d="M679.3 392.2 683.1 388.8 686.9 385.8 690.5 383.4 694.1 381.8 697.8 381.3 702.6 381.9 706.8 383.3 710.8 385.2 714.5 387.3" fill="none" stroke="#a9d976" stroke-width="1.1"/>
<path d="M674.6 380.6 673 375.4 670.3 370.8 667.6 366.2 664.9 361.6 662.1 357.3 659.2 353.3 655.7 350 651.3 347.8 645.9 347.6 640.1 349 635.2 351.2 631.2 353.6 627.4 355.7 623 357.4 623 357.4 627.8 358.5 632.7 358.6 637.3 358.3 641.7 358.2 646.7 358.6 647 359.4 648.2 360.3 650.3 362 653.1 364.5 656.2 367.9 659.4 371.8 662.8 376 666.4 380.2 671.4 383.4 Z" fill="#3fa63a"/>
<path d="M673 382 669.7 377.8 666.5 373.4 663.5 369 660.5 364.8 657.6 360.9 654.8 357.7 651.9 355.1 649.1 353.6 646.3 353.1 640.9 353.6 636.2 354.7 631.9 356.1 627.6 357.1 623 357.4 623 357.4 627.8 358.5 632.7 358.6 637.3 358.3 641.7 358.2 646.7 358.6 647 359.4 648.2 360.3 650.3 362 653.1 364.5 656.2 367.9 659.4 371.8 662.8 376 666.4 380.2 671.4 383.4 Z" fill="#2d8f3c" opacity=".55"/>
<path d="M666.5 373.4 663.5 369 660.5 364.8 657.6 360.9 654.8 357.7 651.9 355.1 649.1 353.6 646.3 353.1 640.9 353.6 636.2 354.7" fill="none" stroke="#a9d976" stroke-width="1.1"/>
<path d="M675.3 361.7 680.7 359.7 685 356.5 688.9 353.3 692.5 350.5 695.9 348.3 698.8 346.9 701 346.2 702.4 345.7 706 345.6 709.8 346.5 714.2 348.2 718.8 350 723.7 350.9 728.4 350 728.4 350 724.5 348.3 721.4 345.6 718.3 342.2 714.5 338.6 709.4 335.3 703 333.5 697.6 333.9 692.9 335.9 689 339 685.5 342.4 682 346.1 678.6 349.8 675.3 353.6 672.7 358.3 Z" fill="#3fa63a"/>
<path d="M674 360 678 356.7 681.8 353.1 685.5 349.7 689 346.4 692.5 343.6 695.9 341.4 699.3 340 702.7 339.6 707.7 340.5 712.2 342.5 716.2 345.2 720.1 347.8 724.1 349.6 728.4 350 728.4 350 723.7 350.9 718.8 350 714.2 348.2 709.8 346.5 706 345.6 702.4 345.7 701 346.2 698.8 346.9 695.9 348.3 692.5 350.5 688.9 353.3 685 356.5 680.7 359.7 675.3 361.7 Z" fill="#2d8f3c" opacity=".55"/>
<path d="M681.8 353.1 685.5 349.7 689 346.4 692.5 343.6 695.9 341.4 699.3 340 702.7 339.6 707.7 340.5 712.2 342.5 716.2 345.2" fill="none" stroke="#a9d976" stroke-width="1.1"/>
<path d="M673.3 336.5 671.5 332.2 668.9 328.8 666.2 325.5 663.4 322.2 660.6 319.2 657.3 316.4 653.3 314.4 648.5 313.8 642.7 315.4 638.1 318.1 634.6 321.1 631.8 324 629 326.4 625.4 328 625.4 328 629.6 329 634.1 328.5 638.3 327.3 642.2 326.2 645.7 325.6 649.1 325.8 649.8 326 651.3 326.5 653.6 327.7 656.3 329.6 659.3 332.1 662.5 334.9 666.1 337.8 670.7 339.5 Z" fill="#3fa63a"/>
<path d="M672 338 668.8 335 665.7 331.9 662.7 328.8 659.9 325.9 657.1 323.4 654.3 321.5 651.6 320.2 648.8 319.8 644.2 320.5 640.2 322.1 636.5 324.2 632.9 326.2 629.3 327.7 625.4 328 625.4 328 629.6 329 634.1 328.5 638.3 327.3 642.2 326.2 645.7 325.6 649.1 325.8 649.8 326 651.3 326.5 653.6 327.7 656.3 329.6 659.3 332.1 662.5 334.9 666.1 337.8 670.7 339.5 Z" fill="#2d8f3c" opacity=".55"/>
<path d="M665.7 331.9 662.7 328.8 659.9 325.9 657.1 323.4 654.3 321.5 651.6 320.2 648.8 319.8 644.2 320.5 640.2 322.1 636.5 324.2" fill="none" stroke="#a9d976" stroke-width="1.1"/>
<path d="M676.5 320.3 681.9 317.4 685.4 313.1 688.4 308.8 691.1 305.1 693.2 302.7 694 302.3 690.1 302.8 697.7 302.5 702.3 302.2 706.1 302.2 709.4 302.5 712.3 303.2 714.9 304.3 717.4 306 717.4 306 716.7 302.9 715.1 299.7 712.5 296.7 708.8 294.1 704.1 292 698.4 290.6 693.9 290.1 686.5 291.5 683.4 295 681.2 298.9 679 303.2 676.7 307.7 674.4 312.3 673.5 317.7 Z" fill="#3fa63a"/>
<path d="M675 319 678.2 314.9 681.1 310.4 683.7 306 686.1 302 688.3 298.9 690.3 296.9 692 296.5 698 296.5 703.2 297.1 707.4 298.1 710.9 299.6 713.7 301.4 715.8 303.6 717.4 306 717.4 306 714.9 304.3 712.3 303.2 709.4 302.5 706.1 302.2 702.3 302.2 697.7 302.5 690.1 302.8 694 302.3 693.2 302.7 691.1 305.1 688.4 308.8 685.4 313.1 681.9 317.4 676.5 320.3 Z" fill="#2d8f3c" opacity=".55"/>
<path d="M690.1 302.8 697.7 302.5 702.3 302.2 706.1 302.2 709.4 302.5 712.3 303.2 714.9 304.3 717.4 306 717.4 306 716.7 302.9 715.1 299.7 712.5 296.7 708.8 294.1 704.1 292 698.4 290.6 693.9 290.1 Z" fill="#2d8f3c" opacity=".8"/>
<path d="M681.1 310.4 683.7 306 686.1 302 688.3 298.9 690.3 296.9 692 296.5 698 296.5 703.2 297.1 707.4 298.1 710.9 299.6" fill="none" stroke="#a9d976" stroke-width="1.1"/>
<path d="M674.3 304.6 672.2 299.6 669.1 295.6 666 291.4 663 287.4 659.8 283.7 656.2 280.4 651.8 278.2 646.5 277.9 641 279.6 636.7 282.5 633.5 285.7 630.9 288.6 628.3 290.9 625 292.4 625 292.4 629 293.1 633.1 292.3 637.1 290.7 640.8 289.2 644.1 288.4 647.1 288.6 648.1 289.2 649.8 290.1 652.5 291.8 655.6 294.3 659 297.5 662.7 301.2 666.5 304.9 671.7 307.4 Z" fill="#3fa63a"/>
<path d="M673 306 669.4 302.3 665.9 298.4 662.5 294.5 659.3 290.9 656.1 287.7 653 285.3 649.9 283.7 646.8 283.3 642.5 284 638.8 285.8 635.3 288.2 632 290.4 628.6 292 625 292.4 625 292.4 629 293.1 633.1 292.3 637.1 290.7 640.8 289.2 644.1 288.4 647.1 288.6 648.1 289.2 649.8 290.1 652.5 291.8 655.6 294.3 659 297.5 662.7 301.2 666.5 304.9 671.7 307.4 Z" fill="#2d8f3c" opacity=".55"/>
<path d="M665.9 298.4 662.5 294.5 659.3 290.9 656.1 287.7 653 285.3 649.9 283.7 646.8 283.3 642.5 284 638.8 285.8 635.3 288.2" fill="none" stroke="#a9d976" stroke-width="1.1"/>
<path d="M676.7 290.7 679.6 288.9 681.5 286.7 683.5 284.7 685.8 282.8 688.2 281 690.8 279.4 693.4 277.7 695.9 275.8 698.3 273.6 700.7 271.4 703.2 269.1 705.6 266.8 707.9 264.4 710 262 710 262 706.8 262.3 703.5 262.8 700.2 263.5 696.8 264.3 693.5 265.4 690.1 266.7 687 268.5 684.2 270.8 681.6 273.3 679.1 276.1 676.9 279 674.9 282 673.3 285.3 673.3 289.3 Z" fill="#3fa63a"/>
<path d="M675 290 676.4 287.1 678.2 284.4 680.2 281.8 682.4 279.4 684.9 277.2 687.5 275.1 690.2 273.1 693 271.3 695.9 269.5 698.8 267.9 701.7 266.3 704.5 264.8 707.3 263.4 710 262 710 262 707.9 264.4 705.6 266.8 703.2 269.1 700.7 271.4 698.3 273.6 695.9 275.8 693.4 277.7 690.8 279.4 688.2 281 685.8 282.8 683.5 284.7 681.5 286.7 679.6 288.9 676.7 290.7 Z" fill="#2d8f3c" opacity=".55"/>
<path d="M678.2 284.4 680.2 281.8 682.4 279.4 684.9 277.2 687.5 275.1 690.2 273.1 693 271.3 695.9 269.5 698.8 267.9 701.7 266.3" fill="none" stroke="#a9d976" stroke-width="1.1"/>
<path d="M673.5 275.8 673 271 671.1 267 669.3 262.9 667.5 259 665.7 255.3 663.9 252 660.8 249.1 654.3 248.9 650.7 249.4 646 251 642.4 253.3 639.9 256 638.5 259 638 261.9 638 261.9 640.2 260.3 642.5 259.3 645.1 258.8 648 258.8 651.5 259.1 657.7 259.5 654 259.8 654.1 259.9 655.7 261.6 657.8 264.5 660.1 268 662.8 271.9 665.8 275.7 670.5 278.2 Z" fill="#3fa63a"/>
<path d="M672 277 669.4 273.4 667 269.4 664.7 265.5 662.6 261.7 660.7 258.5 659 256 657.4 254.5 656 254.2 651.1 254.2 647 254.9 643.8 256.1 641.2 257.7 639.3 259.6 638 261.9 638 261.9 640.2 260.3 642.5 259.3 645.1 258.8 648 258.8 651.5 259.1 657.7 259.5 654 259.8 654.1 259.9 655.7 261.6 657.8 264.5 660.1 268 662.8 271.9 665.8 275.7 670.5 278.2 Z" fill="#2d8f3c" opacity=".55"/>
<path d="M654.3 248.9 650.7 249.4 646 251 642.4 253.3 639.9 256 638.5 259 638 261.9 638 261.9 640.2 260.3 642.5 259.3 645.1 258.8 648 258.8 651.5 259.1 657.7 259.5 Z" fill="#2d8f3c" opacity=".8"/>
<path d="M667 269.4 664.7 265.5 662.6 261.7 660.7 258.5 659 256 657.4 254.5 656 254.2 651.1 254.2 647 254.9 643.8 256.1" fill="none" stroke="#a9d976" stroke-width="1.1"/>
<path d="M676.5 258.4 678.5 257.1 679.6 255.6 680.7 254.2 682 252.9 683.5 251.6 685 250.4 686.5 249.2 687.9 247.7 689.1 246 690.4 244.2 691.6 242.4 692.8 240.5 694 238.6 695 236.6 695 236.6 692.8 236.9 690.6 237.4 688.4 238 686.2 238.7 684 239.6 681.9 240.7 680 242.1 678.3 243.9 676.9 245.9 675.6 248 674.4 250.2 673.5 252.5 672.8 254.9 673.5 257.6 Z" fill="#3fa63a"/>
<path d="M675 258 675.7 256 676.5 254.1 677.6 252.2 678.8 250.5 680.2 248.8 681.7 247.2 683.2 245.6 684.9 244.2 686.6 242.8 688.3 241.4 690 240.2 691.7 238.9 693.4 237.7 695 236.6 695 236.6 694 238.6 692.8 240.5 691.6 242.4 690.4 244.2 689.1 246 687.9 247.7 686.5 249.2 685 250.4 683.5 251.6 682 252.9 680.7 254.2 679.6 255.6 678.5 257.1 676.5 258.4 Z" fill="#2d8f3c" opacity=".55"/>
<path d="M676.5 254.1 677.6 252.2 678.8 250.5 680.2 248.8 681.7 247.2 683.2 245.6 684.9 244.2 686.6 242.8 688.3 241.4 690 240.2" fill="none" stroke="#a9d976" stroke-width="1.1"/>
<path d="M674.6 242.9 675.8 240.1 675.5 237.3 674.9 234.6 674.1 231.9 673.1 229.3 672 226.8 670.5 224.5 668.7 222.4 666.6 220.7 664.5 219.1 662.3 217.7 660 216.5 657.8 215.3 655.5 214.4 655.5 214.4 656.3 216.7 657.2 219.1 658.2 221.4 659.3 223.6 660.4 225.9 661.5 228.1 662.7 230 664.1 231.9 665.5 233.6 666.8 235.4 667.9 237.3 668.9 239.2 669.7 241.1 671.4 243.1 Z" fill="#3fa63a"/>
<path d="M673 243 672.7 240.6 672.2 238.2 671.4 235.9 670.5 233.7 669.3 231.5 668 229.3 666.6 227.3 665.1 225.2 663.5 223.3 661.9 221.4 660.3 219.5 658.6 217.8 657 216 655.5 214.4 655.5 214.4 656.3 216.7 657.2 219.1 658.2 221.4 659.3 223.6 660.4 225.9 661.5 228.1 662.7 230 664.1 231.9 665.5 233.6 666.8 235.4 667.9 237.3 668.9 239.2 669.7 241.1 671.4 243.1 Z" fill="#2d8f3c" opacity=".55"/>
<path d="M672.2 238.2 671.4 235.9 670.5 233.7 669.3 231.5 668 229.3 666.6 227.3 665.1 225.2 663.5 223.3 661.9 221.4 660.3 219.5" fill="none" stroke="#a9d976" stroke-width="1.1"/>
<path d="M675.6 230.3 677.6 228.1 678.9 225.9 680.2 223.7 681.8 221.6 683.6 219.6 685.5 217.7 687.4 215.7 689.3 213.6 691 211.2 692.7 208.8 694.4 206.4 696 204 697.6 201.5 699 199 699 199 696.3 199.9 693.6 201 690.8 202.2 688.1 203.7 685.4 205.2 682.8 207 680.4 209.2 678.4 211.7 676.6 214.4 675 217.2 673.7 220.1 672.5 223.1 671.8 226.3 672.4 229.7 Z" fill="#3fa63a"/>
<path d="M674 230 674.7 227.2 675.7 224.5 676.9 221.9 678.4 219.4 680.1 217 682 214.7 683.9 212.4 686 210.3 688.2 208.2 690.4 206.2 692.6 204.3 694.8 202.5 696.9 200.7 699 199 699 199 697.6 201.5 696 204 694.4 206.4 692.7 208.8 691 211.2 689.3 213.6 687.4 215.7 685.5 217.7 683.6 219.6 681.8 221.6 680.2 223.7 678.9 225.9 677.6 228.1 675.6 230.3 Z" fill="#2d8f3c" opacity=".55"/>
<path d="M675.7 224.5 676.9 221.9 678.4 219.4 680.1 217 682 214.7 683.9 212.4 686 210.3 688.2 208.2 690.4 206.2 692.6 204.3" fill="none" stroke="#a9d976" stroke-width="1.1"/>
<path d="M674 461l-6 4M674 461l6 4M674 459l-4 8M674 459l4 8" stroke="#6b4a35" stroke-width="1" fill="none"/>
<path d="M673.6 224V191M673.6 221q-10 -1 -11.500 -10M673.6 215q-9.500 -1 -10.500 -9M673.6 209q-8 -1 -9 -8M673.6 203q-6 -1 -7 -7M673.6 197q-4 -1 -4.500 -5M673.6 219q9 -2 9.500 -11M673.6 212q8 -2 8.500 -10M673.6 205q6 -2 7 -9M673.6 198q4 -1.500 4.500 -6" stroke="#8d8b3e" stroke-width="2.5" fill="none" stroke-linecap="round"/>
<path d="M780.4 469C765.8 471 753.4 476.6 747 487.7M780.8 469C771.5 471 761.8 483.2 760.4 502.4M781.2 469C776.3 471 770 487.3 769.6 511.6M781.6 469C781.4 471 781.3 488.1 781.1 513.2M782.1 469C787.4 471 791.9 486.6 794.4 509.9M782.3 469C791 471 798.2 483.6 801.9 503.2M782.7 469C796.3 471 807.7 477.5 812 489.8" fill="none" stroke="#5c4733" stroke-width="1.7" stroke-linecap="round"/>
<path d="M763.6 473.5Q756.2 475.5 750.8 479.1M758.2 476.3Q751.3 477.7 745.4 480.6M752.9 480.3Q746.1 481.3 741.3 483.8M768.7 477.7Q763.2 478.5 759.7 480.9M766.1 481.9Q759 484.4 751.7 488.4M762.9 489.2Q756.4 493.3 751.6 498.9M774.9 478.4Q771.7 481.1 767.6 485.4M772.1 488.2Q776.4 494.1 779.7 501.4M771.2 493.3Q765.3 499.5 760.9 507.3M781.4 480.8Q778.2 485.8 775.4 492.2M781.3 491.1Q785.7 494.9 788.8 500.2M781.2 502.2Q777 507.4 773.9 514.2M788.3 478.2Q785.7 485.9 784.3 495.1M791.2 489Q797.3 494.3 801.6 501.2M792.4 494.8Q787.3 500.2 784 507.1M792.9 477.7Q800.6 480.1 807.6 483.9M796.6 484.8Q804.3 487.5 811.2 491.8M799.6 493.5Q804.2 495.9 809 499.9M800.4 475.2Q807.9 476.6 813.9 479.4M805.3 479.2Q812.9 480.3 817.4 482.9M807.9 482.2Q816.1 483.6 823.7 486.6" fill="none" stroke="#5c4733" stroke-width="1.2" stroke-linecap="round"/>
<path d="M779.5 468.5L780.4 208L782.8 208L783.7 468.5Z" fill="#55b247"/>
<path d="M778.1 456.5L780.1 214L783.1 214L785.1 456.5Z" fill="#3fa63a"/>
<rect x="780.1" y="450" width="3" height="4.6" rx="1" fill="#a9d976"/>
<rect x="780.1" y="422" width="3" height="4.6" rx="1" fill="#a9d976"/>
<rect x="780.1" y="398" width="3" height="4.6" rx="1" fill="#a9d976"/>
<rect x="780.1" y="379" width="3" height="4.6" rx="1" fill="#a9d976"/>
<rect x="780.1" y="357" width="3" height="4.6" rx="1" fill="#a9d976"/>
<rect x="780.1" y="336" width="3" height="4.6" rx="1" fill="#a9d976"/>
<rect x="780.1" y="316" width="3" height="4.6" rx="1" fill="#a9d976"/>
<rect x="780.1" y="303" width="3" height="4.6" rx="1" fill="#a9d976"/>
<rect x="780.1" y="287" width="3" height="4.6" rx="1" fill="#a9d976"/>
<rect x="780.1" y="277" width="3" height="4.6" rx="1" fill="#a9d976"/>
<rect x="780.1" y="260" width="3" height="4.6" rx="1" fill="#a9d976"/>
<rect x="780.1" y="241" width="3" height="4.6" rx="1" fill="#a9d976"/>
<path d="M782.6 438.5C793.6 437 809.6 436 816.6 441C820.6 448 822.6 455 825.6 462.5C820.6 458 816.6 450 811.6 446.5C801.6 445 789.6 446 782.6 447Z" fill="#6f8d37"/>
<path d="M782.2 422.3 780.6 416.4 777.6 411.7 774.6 407 771.8 402.3 769 398 766.1 394.2 761.8 391.1 754.8 391.1 750.1 392.2 744.7 394.8 740.8 398.6 738.3 403 737.1 407.6 736.8 412.5 736.8 412.5 739.4 408.6 742.3 405.8 745.4 404.1 748.5 403.4 752 403.4 758 403.9 755.3 404.5 755.7 405 758 407 761.1 410.2 764.5 414.3 768.4 418.7 772.7 423.1 779 425.7 Z" fill="#3fa63a"/>
<path d="M780.6 424 776.7 419.8 773 415.2 769.6 410.6 766.4 406.3 763.5 402.5 760.9 399.6 758.5 397.8 756.4 397.5 751 397.8 746.6 399.1 743.1 401.3 740.3 404.4 738.3 408.1 736.8 412.5 736.8 412.5 739.4 408.6 742.3 405.8 745.4 404.1 748.5 403.4 752 403.4 758 403.9 755.3 404.5 755.7 405 758 407 761.1 410.2 764.5 414.3 768.4 418.7 772.7 423.1 779 425.7 Z" fill="#2d8f3c" opacity=".55"/>
<path d="M754.8 391.1 750.1 392.2 744.7 394.8 740.8 398.6 738.3 403 737.1 407.6 736.8 412.5 736.8 412.5 739.4 408.6 742.3 405.8 745.4 404.1 748.5 403.4 752 403.4 758 403.9 Z" fill="#2d8f3c" opacity=".8"/>
<path d="M773 415.2 769.6 410.6 766.4 406.3 763.5 402.5 760.9 399.6 758.5 397.8 756.4 397.5 751 397.8 746.6 399.1 743.1 401.3" fill="none" stroke="#a9d976" stroke-width="1.1"/>
<path d="M779.8 400.7 785.6 398.9 789.9 395.7 794 392.7 797.7 390.2 801 388.6 803.5 387.9 805.1 387.7 808.8 387.6 812.4 388.1 816.3 389.1 820.4 390.3 824.8 391.3 829.3 391.5 833.6 390.5 833.6 390.5 829.8 389 826.7 386.9 823.7 384.3 820.4 381.4 816.5 378.5 811.5 376.2 805.7 375 800 375.7 795.2 378.2 791.2 381.4 787.4 385 783.8 388.7 780.1 392.4 777.4 397.3 Z" fill="#3fa63a"/>
<path d="M778.6 399 782.8 395.7 786.9 392.2 790.7 388.8 794.5 385.8 798.1 383.4 801.7 381.8 805.4 381.3 810.2 381.9 814.4 383.3 818.4 385.2 822.1 387.3 825.8 389.1 829.6 390.3 833.6 390.5 833.6 390.5 829.3 391.5 824.8 391.3 820.4 390.3 816.3 389.1 812.4 388.1 808.8 387.6 805.1 387.7 803.5 387.9 801 388.6 797.7 390.2 794 392.7 789.9 395.7 785.6 398.9 779.8 400.7 Z" fill="#2d8f3c" opacity=".55"/>
<path d="M786.9 392.2 790.7 388.8 794.5 385.8 798.1 383.4 801.7 381.8 805.4 381.3 810.2 381.9 814.4 383.3 818.4 385.2 822.1 387.3" fill="none" stroke="#a9d976" stroke-width="1.1"/>
<path d="M782.2 380.6 780.6 375.4 777.9 370.8 775.2 366.2 772.5 361.6 769.7 357.3 766.8 353.3 763.3 350 758.9 347.8 753.5 347.6 747.7 349 742.8 351.2 738.8 353.6 735 355.7 730.6 357.4 730.6 357.4 735.4 358.5 740.3 358.6 744.9 358.3 749.3 358.2 754.3 358.6 754.6 359.4 755.8 360.3 757.9 362 760.7 364.5 763.8 367.9 767 371.8 770.4 376 774 380.2 779 383.4 Z" fill="#3fa63a"/>
<path d="M780.6 382 777.3 377.8 774.1 373.4 771.1 369 768.1 364.8 765.2 360.9 762.4 357.7 759.5 355.1 756.7 353.6 753.9 353.1 748.5 353.6 743.8 354.7 739.5 356.1 735.2 357.1 730.6 357.4 730.6 357.4 735.4 358.5 740.3 358.6 744.9 358.3 749.3 358.2 754.3 358.6 754.6 359.4 755.8 360.3 757.9 362 760.7 364.5 763.8 367.9 767 371.8 770.4 376 774 380.2 779 383.4 Z" fill="#2d8f3c" opacity=".55"/>
<path d="M774.1 373.4 771.1 369 768.1 364.8 765.2 360.9 762.4 357.7 759.5 355.1 756.7 353.6 753.9 353.1 748.5 353.6 743.8 354.7" fill="none" stroke="#a9d976" stroke-width="1.1"/>
<path d="M782.9 361.7 788.3 359.7 792.6 356.5 796.5 353.3 800.1 350.5 803.5 348.3 806.4 346.9 808.6 346.2 810 345.7 813.6 345.6 817.4 346.5 821.8 348.2 826.4 350 831.3 350.9 836 350 836 350 832.1 348.3 829 345.6 825.9 342.2 822.1 338.6 817 335.3 810.6 333.5 805.2 333.9 800.5 335.9 796.6 339 793.1 342.4 789.6 346.1 786.2 349.8 782.9 353.6 780.3 358.3 Z" fill="#3fa63a"/>
<path d="M781.6 360 785.6 356.7 789.4 353.1 793.1 349.7 796.6 346.4 800.1 343.6 803.5 341.4 806.9 340 810.3 339.6 815.3 340.5 819.8 342.5 823.8 345.2 827.7 347.8 831.7 349.6 836 350 836 350 831.3 350.9 826.4 350 821.8 348.2 817.4 346.5 813.6 345.6 810 345.7 808.6 346.2 806.4 346.9 803.5 348.3 800.1 350.5 796.5 353.3 792.6 356.5 788.3 359.7 782.9 361.7 Z" fill="#2d8f3c" opacity=".55"/>
<path d="M789.4 353.1 793.1 349.7 796.6 346.4 800.1 343.6 803.5 341.4 806.9 340 810.3 339.6 815.3 340.5 819.8 342.5 823.8 345.2" fill="none" stroke="#a9d976" stroke-width="1.1"/>
<path d="M780.9 336.5 779.1 332.2 776.5 328.8 773.8 325.5 771 322.2 768.2 319.2 764.9 316.4 760.9 314.4 756.1 313.8 750.3 315.4 745.7 318.1 742.2 321.1 739.4 324 736.6 326.4 733 328 733 328 737.2 329 741.7 328.5 745.9 327.3 749.8 326.2 753.3 325.6 756.7 325.8 757.4 326 758.9 326.5 761.2 327.7 763.9 329.6 766.9 332.1 770.1 334.9 773.7 337.8 778.3 339.5 Z" fill="#3fa63a"/>
<path d="M779.6 338 776.4 335 773.3 331.9 770.3 328.8 767.5 325.9 764.7 323.4 761.9 321.5 759.2 320.2 756.4 319.8 751.8 320.5 747.8 322.1 744.1 324.2 740.5 326.2 736.9 327.7 733 328 733 328 737.2 329 741.7 328.5 745.9 327.3 749.8 326.2 753.3 325.6 756.7 325.8 757.4 326 758.9 326.5 761.2 327.7 763.9 329.6 766.9 332.1 770.1 334.9 773.7 337.8 778.3 339.5 Z" fill="#2d8f3c" opacity=".55"/>
<path d="M773.3 331.9 770.3 328.8 767.5 325.9 764.7 323.4 761.9 321.5 759.2 320.2 756.4 319.8 751.8 320.5 747.8 322.1 744.1 324.2" fill="none" stroke="#a9d976" stroke-width="1.1"/>
<path d="M784.1 320.3 789.5 317.4 793 313.1 796 308.8 798.7 305.1 800.8 302.7 801.6 302.3 797.7 302.8 805.3 302.5 809.9 302.2 813.7 302.2 817 302.5 819.9 303.2 822.5 304.3 825 306 825 306 824.3 302.9 822.7 299.7 820.1 296.7 816.4 294.1 811.7 292 806 290.6 801.5 290.1 794.1 291.5 791 295 788.8 298.9 786.6 303.2 784.3 307.7 782 312.3 781.1 317.7 Z" fill="#3fa63a"/>
<path d="M782.6 319 785.8 314.9 788.7 310.4 791.3 306 793.7 302 795.9 298.9 797.9 296.9 799.6 296.5 805.6 296.5 810.8 297.1 815 298.1 818.5 299.6 821.3 301.4 823.4 303.6 825 306 825 306 822.5 304.3 819.9 303.2 817 302.5 813.7 302.2 809.9 302.2 805.3 302.5 797.7 302.8 801.6 302.3 800.8 302.7 798.7 305.1 796 308.8 793 313.1 789.5 317.4 784.1 320.3 Z" fill="#2d8f3c" opacity=".55"/>
<path d="M797.7 302.8 805.3 302.5 809.9 302.2 813.7 302.2 817 302.5 819.9 303.2 822.5 304.3 825 306 825 306 824.3 302.9 822.7 299.7 820.1 296.7 816.4 294.1 811.7 292 806 290.6 801.5 290.1 Z" fill="#2d8f3c" opacity=".8"/>
<path d="M788.7 310.4 791.3 306 793.7 302 795.9 298.9 797.9 296.9 799.6 296.5 805.6 296.5 810.8 297.1 815 298.1 818.5 299.6" fill="none" stroke="#a9d976" stroke-width="1.1"/>
<path d="M781.9 304.6 779.8 299.6 776.7 295.6 773.6 291.4 770.6 287.4 767.4 283.7 763.8 280.4 759.4 278.2 754.1 277.9 748.6 279.6 744.3 282.5 741.1 285.7 738.5 288.6 735.9 290.9 732.6 292.4 732.6 292.4 736.6 293.1 740.7 292.3 744.7 290.7 748.4 289.2 751.7 288.4 754.7 288.6 755.7 289.2 757.4 290.1 760.1 291.8 763.2 294.3 766.6 297.5 770.3 301.2 774.1 304.9 779.3 307.4 Z" fill="#3fa63a"/>
<path d="M780.6 306 777 302.3 773.5 298.4 770.1 294.5 766.9 290.9 763.7 287.7 760.6 285.3 757.5 283.7 754.4 283.3 750.1 284 746.4 285.8 742.9 288.2 739.6 290.4 736.2 292 732.6 292.4 732.6 292.4 736.6 293.1 740.7 292.3 744.7 290.7 748.4 289.2 751.7 288.4 754.7 288.6 755.7 289.2 757.4 290.1 760.1 291.8 763.2 294.3 766.6 297.5 770.3 301.2 774.1 304.9 779.3 307.4 Z" fill="#2d8f3c" opacity=".55"/>
<path d="M773.5 298.4 770.1 294.5 766.9 290.9 763.7 287.7 760.6 285.3 757.5 283.7 754.4 283.3 750.1 284 746.4 285.8 742.9 288.2" fill="none" stroke="#a9d976" stroke-width="1.1"/>
<path d="M784.3 290.7 787.2 288.9 789.1 286.7 791.1 284.7 793.4 282.8 795.8 281 798.4 279.4 801 277.7 803.5 275.8 805.9 273.6 808.3 271.4 810.8 269.1 813.2 266.8 815.5 264.4 817.6 262 817.6 262 814.4 262.3 811.1 262.8 807.8 263.5 804.4 264.3 801.1 265.4 797.7 266.7 794.6 268.5 791.8 270.8 789.2 273.3 786.7 276.1 784.5 279 782.5 282 780.9 285.3 780.9 289.3 Z" fill="#3fa63a"/>
<path d="M782.6 290 784 287.1 785.8 284.4 787.8 281.8 790 279.4 792.5 277.2 795.1 275.1 797.8 273.1 800.6 271.3 803.5 269.5 806.4 267.9 809.3 266.3 812.1 264.8 814.9 263.4 817.6 262 817.6 262 815.5 264.4 813.2 266.8 810.8 269.1 808.3 271.4 805.9 273.6 803.5 275.8 801 277.7 798.4 279.4 795.8 281 793.4 282.8 791.1 284.7 789.1 286.7 787.2 288.9 784.3 290.7 Z" fill="#2d8f3c" opacity=".55"/>
<path d="M785.8 284.4 787.8 281.8 790 279.4 792.5 277.2 795.1 275.1 797.8 273.1 800.6 271.3 803.5 269.5 806.4 267.9 809.3 266.3" fill="none" stroke="#a9d976" stroke-width="1.1"/>
<path d="M781.3 279.9 781.2 274.6 779.5 269.9 777.8 265.1 776.1 260.5 774.6 256.3 773 252.5 770 249.2 762.4 248.6 758.8 249.1 753.8 250.8 749.9 253.1 747.2 256.1 745.6 259.2 745 262.3 745 262.3 747.3 260.5 749.9 259.4 752.6 258.9 755.8 258.7 759.6 259 766.8 259.3 761.8 259.4 761.8 259.6 763.4 261.8 765.5 265.3 767.8 269.5 770.3 274.2 773.1 278.8 777.9 282.1 Z" fill="#3fa63a"/>
<path d="M779.6 281 777.2 276.7 774.9 272 772.8 267.3 770.8 262.9 769 259.1 767.4 256.1 765.9 254.3 764.6 254 759.2 254 754.8 254.8 751.3 256 748.5 257.7 746.5 259.9 745 262.3 745 262.3 747.3 260.5 749.9 259.4 752.6 258.9 755.8 258.7 759.6 259 766.8 259.3 761.8 259.4 761.8 259.6 763.4 261.8 765.5 265.3 767.8 269.5 770.3 274.2 773.1 278.8 777.9 282.1 Z" fill="#2d8f3c" opacity=".55"/>
<path d="M762.4 248.6 758.8 249.1 753.8 250.8 749.9 253.1 747.2 256.1 745.6 259.2 745 262.3 745 262.3 747.3 260.5 749.9 259.4 752.6 258.9 755.8 258.7 759.6 259 766.8 259.3 Z" fill="#2d8f3c" opacity=".8"/>
<path d="M774.9 272 772.8 267.3 770.8 262.9 769 259.1 767.4 256.1 765.9 254.3 764.6 254 759.2 254 754.8 254.8 751.3 256" fill="none" stroke="#a9d976" stroke-width="1.1"/>
<path d="M784.2 263.6 786.8 261.8 788.5 259.8 790.2 257.8 792.2 256 794.3 254.3 796.6 252.8 798.9 251.1 801.1 249.2 803.2 247.1 805.3 244.9 807.4 242.7 809.4 240.5 811.4 238.2 813.2 235.8 813.2 235.8 810.3 236.2 807.3 236.8 804.3 237.5 801.2 238.4 798.2 239.5 795.2 240.9 792.4 242.7 789.9 244.8 787.7 247.3 785.6 250 783.7 252.7 782 255.6 780.7 258.7 781 262.4 Z" fill="#3fa63a"/>
<path d="M782.6 263 783.8 260.3 785.2 257.7 787 255.3 788.9 253 791 250.8 793.3 248.8 795.7 246.9 798.1 245 800.7 243.3 803.2 241.7 805.8 240.1 808.4 238.6 810.8 237.2 813.2 235.8 813.2 235.8 811.4 238.2 809.4 240.5 807.4 242.7 805.3 244.9 803.2 247.1 801.1 249.2 798.9 251.1 796.6 252.8 794.3 254.3 792.2 256 790.2 257.8 788.5 259.8 786.8 261.8 784.2 263.6 Z" fill="#2d8f3c" opacity=".55"/>
<path d="M785.2 257.7 787 255.3 788.9 253 791 250.8 793.3 248.8 795.7 246.9 798.1 245 800.7 243.3 803.2 241.7 805.8 240.1" fill="none" stroke="#a9d976" stroke-width="1.1"/>
<path d="M782.2 242.4 782.4 239 781.2 236 779.6 233.3 777.8 230.7 775.8 228.2 773.7 225.8 771.3 223.8 768.7 222.1 765.8 220.8 762.9 219.8 760.1 218.9 757.2 218.2 754.4 217.7 751.6 217.3 751.6 217.3 753.3 219.5 755.2 221.7 757.1 223.8 759.1 225.9 761.1 228 763.1 230 765.2 231.8 767.3 233.3 769.5 234.8 771.5 236.4 773.3 238.1 775 240 776.6 241.9 779 243.6 Z" fill="#3fa63a"/>
<path d="M780.6 243 779.5 240.4 778.1 238 776.5 235.7 774.6 233.5 772.6 231.5 770.5 229.6 768.2 227.8 765.9 226 763.5 224.4 761 222.8 758.6 221.4 756.2 220 753.8 218.6 751.6 217.3 751.6 217.3 753.3 219.5 755.2 221.7 757.1 223.8 759.1 225.9 761.1 228 763.1 230 765.2 231.8 767.3 233.3 769.5 234.8 771.5 236.4 773.3 238.1 775 240 776.6 241.9 779 243.6 Z" fill="#2d8f3c" opacity=".55"/>
<path d="M778.1 238 776.5 235.7 774.6 233.5 772.6 231.5 770.5 229.6 768.2 227.8 765.9 226 763.5 224.4 761 222.8 758.6 221.4" fill="none" stroke="#a9d976" stroke-width="1.1"/>
<path d="M783.1 229.7 785.7 228 787.4 226.1 789.2 224.2 791.2 222.5 793.4 221 795.7 219.5 798 218 800.2 216.2 802.4 214.3 804.6 212.3 806.7 210.2 808.9 208.1 810.9 206 812.8 203.8 812.8 203.8 809.9 204.1 807 204.5 804 205.1 801 205.9 798 206.9 795 208.1 792.2 209.7 789.7 211.7 787.4 214 785.2 216.5 783.2 219.1 781.5 221.8 780 224.8 780.1 228.3 Z" fill="#3fa63a"/>
<path d="M781.6 229 782.9 226.4 784.4 224 786.2 221.7 788.2 219.5 790.4 217.5 792.7 215.6 795.1 213.8 797.6 212.2 800.2 210.6 802.8 209.1 805.4 207.7 807.9 206.3 810.4 205 812.8 203.8 812.8 203.8 810.9 206 808.9 208.1 806.7 210.2 804.6 212.3 802.4 214.3 800.2 216.2 798 218 795.7 219.5 793.4 221 791.2 222.5 789.2 224.2 787.4 226.1 785.7 228 783.1 229.7 Z" fill="#2d8f3c" opacity=".55"/>
<path d="M784.4 224 786.2 221.7 788.2 219.5 790.4 217.5 792.7 215.6 795.1 213.8 797.6 212.2 800.2 210.6 802.8 209.1 805.4 207.7" fill="none" stroke="#a9d976" stroke-width="1.1"/>
<path d="M781.6 461l-6 4M781.6 461l6 4M781.6 459l-4 8M781.6 459l4 8" stroke="#6b4a35" stroke-width="1" fill="none"/>
<path d="M780.6 230L780.6 187.2" stroke="#8fc65a" stroke-width="2.2" fill="none"/>
<path d="M782.8 199 782.1 197.6 783.6 193.9 782 192.5 783.6 188.9 782.1 187.5 784.1 183.8 782 182.4 784.2 178.7 782.1 177.4 784.4 173.6 782.1 172.3 783.1 168.6 781.5 167.3 783 163.6 781.5 162.2 783.2 158.5 780.7 157.2 782.2 153.5 779.8 152.1 778.5 150.2 776.1 151.2 776.9 154.8 775.2 156.3 776.9 159.9 774.9 161.4 776.7 164.9 774.5 166.5 777.3 170 775.4 171.5 777.5 175 775.5 176.5 777.1 180.1 775.9 181.6 777.4 185.2 776.3 186.6 778 190.2 776.7 191.7 778.7 195.2 778 196.7 779.4 200.2ZM779.6 209.6 777.8 209.5 774.2 207.1 772.3 208.4 768.8 205.6 766.8 207.2 763.1 205.2 761 207.9 758.8 208.7 759.4 211.2 763.2 211.9 764.7 213.5 768.8 212.5 770.1 215.3 774.4 213.6 775.9 215.1 780.1 213.2ZM780.2 204.8 778.8 204.4 776.6 200.6 774.5 201.6 772.1 198.3 770 199.3 767.5 196.2 765.3 197.6 763 193.8 760.9 194.9 758.2 192.4 755.8 194.1 753.5 194.2 753.3 196.7 756.6 198.2 757.1 200.4 760.9 200.8 761.4 203.1 765.6 202.8 765.8 205.5 770.2 204.8 770.6 207.3 774.9 206.7 775.7 208.3 779.7 208.3ZM780.8 193.8 779.3 193.4 777.8 189.6 776 189.5 774.2 186 772.3 186.1 771 182 768.3 183 766.8 179.2 764.8 179.4 762.6 176.4 760 177.2 757.7 176.8 756.9 179.2 759.9 181.2 759.7 183.6 763.3 185 763.3 187.1 767.1 188.3 766.8 190.9 771.1 191.4 770.6 194.1 775.2 194.3 775.3 196.3 779.5 197ZM781.5 180.8 779.8 180.3 779.4 176.2 777.9 175.5 777 171.7 774.7 171.7 774.4 167.4 771.8 167.6 770.9 163.8 768.4 163.9 767.5 160 765.2 160 763.4 156.9 761 157.6 761.3 159.8 760.4 162.3 763.6 164.4 762.5 167 766.4 168.5 765.3 171.1 769.2 172.7 769.1 174.5 772.3 176.6 771.4 179 775.6 180.4 775.7 182 779.3 183.9ZM782.6 212.6 783.4 212.1 787 212.9 787.5 211.4 790.9 211.8 791.2 209.9 794.3 209.2 794.3 206.4 791.9 205.7 790.3 203.8 787.8 206.3 786.4 205.1 783.9 207.2 782.7 206.7 780.5 210ZM783 208.6 783.8 207.1 788 207.1 788.8 205.6 792.5 204.8 793.1 202.9 797.3 202.8 797.6 200.4 801.9 200.7 801.9 197.8 805.9 197.4 806.2 195.2 809.5 193.5 809.2 191.1 806.8 191.1 804.2 189.3 801.8 192.4 799.7 191.7 797.4 194.9 794.9 193.5 793.2 197.8 791 197 788.4 199.8 786.6 199.4 784.4 203 782.8 203 780.3 206ZM783.4 197.5 784.2 195.9 788.5 195.4 788.4 192.9 792.6 192.1 792.4 189.5 796.6 188.7 796.9 186.8 801.2 186.1 801 183.5 804.4 181.8 804.2 179 805 176.9 803 175.8 800.2 178.3 797.6 177.5 795.6 180.9 793.5 180.7 791.7 184.4 789.5 184.1 787.9 188 785.2 187.2 783.6 191.1 781.8 191.2 780 195ZM783.6 182.6 783.9 181.1 787.6 179.2 786.9 177.1 791.3 175.6 790.2 173.2 793.3 170.9 792.8 168.8 797 167.3 795.6 164.7 799.6 163 798.1 160.3 800.8 157.7 799.1 155.5 796.8 156.4 794.4 156.5 793.4 160.1 790.3 159.8 790.4 164.2 787.6 164 787.4 168.2 785.2 168.4 784.5 172.4 782.1 172.5 782 176.8 780.5 177.5 779.8 181.3ZM781.7 187.4 781.1 185.8 781.4 181.4 778.9 180.7 780 176 777 175.4 777.1 171.2 774 170.6 771.9 169.3 770.3 171 771.4 174.7 769.9 177.2 773.6 179.8 773.1 181.9 775.8 185 775.3 187 778.9 189.7ZM783.5 189 783.6 187.5 787.1 185 786 182.9 789.2 180.3 788.3 178.3 791.3 175.5 790.1 173.4 791.6 170.1 789.8 168.3 788 169.8 784.6 169.9 784.6 173.9 782 174.4 782.9 178.8 780 179.2 780.9 183.5 779.3 184.5 779.9 188.7ZM781 200.7 779.3 200 777.8 195.8 775.7 195.7 773.8 192 771.4 192.2 768.3 189.8 766.2 190.8 766.9 193.1 765.9 196.7 770.3 197.6 770.3 200.2 774.5 201.2 774.7 203.6 779.5 204ZM783.3 203.9 784.3 202.7 788.5 201.7 788.4 199.4 792.3 198.1 791.9 195.5 795.8 194.2 794.9 191.1 795.4 188.7 792.8 187.5 790.4 190.3 787.8 189.9 786.7 194 784.3 193.8 782.9 197.6 781.1 198 780.1 202.3Z" fill="#dca354"/>
<path d="M780.6 200L778.6 152M780.1 212L760.6 209M780.1 207L755.1 195M780.1 196L759.1 178M780.1 183L762.1 159M781.1 211L792.6 207M781.1 207L807.6 192M781.1 196L803.6 178M781.1 182L798.1 157M780.1 189L772.6 171M781.1 189L789.1 170M780.1 203L767.6 192M781.1 203L794.1 190" fill="none" stroke="#c27f30" stroke-width="2.6" stroke-dasharray="1.6 1.9" stroke-linecap="round" opacity=".9"/>
<path d="M780.6 218L780.6 193" stroke="#8fc65a" stroke-width="1.6" fill="none"/>
<path d="M887.1 469C872.3 471 859.3 476.3 852.2 487M887.6 469C878 471 868.5 481.6 866.2 498.9M888 469C883.3 471 881 488.1 878 513.2M888.5 469C889.3 471 891.1 491 890.3 519.8M888.8 469C894 471 899.3 485.2 900.7 506.7M889.2 469C899.2 471 905.6 482.7 912.8 501.2M889.5 469C902.9 471 916.1 477.4 918.3 489.5" fill="none" stroke="#5c4733" stroke-width="1.7" stroke-linecap="round"/>
<path d="M869.3 473.6Q862.8 475.4 856.2 478.7M863.4 476.5Q855.8 478.4 848.2 481.9M858.2 480.3Q851.3 481.4 845.4 484M875.1 477.1Q866 478.4 859.5 481.3M870.9 483.4Q863 485.4 857.6 489M868.4 489.1Q862.3 492.5 855.7 497.4M883.1 479.1Q876.6 483.4 869.7 489.2M881.1 489.8Q885.3 494.1 887.1 500M880.5 494Q875.8 498.4 872.1 504.3M890 484.6Q882.8 490.6 878.5 498M890.3 493.2Q897.3 499.4 901.1 507.2M890.5 499.6Q887.6 503 883.8 507.8M894.7 476.7Q892.7 483.9 891.4 492.6M897 483.2Q902.6 486.7 905.4 491.7M899.1 492.5Q893.4 499.2 890.5 507.4M899.6 475.6Q906 476.8 912.6 479.4M905.2 484.2Q912.2 486.2 916.9 489.8M907.5 488.6Q913.8 491.7 918.9 496.4M907.7 475.2Q913.5 476.6 917.5 479.4M909.6 476.5Q916.5 477.9 922.7 480.8M916.3 483.8Q922.4 486.3 926.1 490.3" fill="none" stroke="#5c4733" stroke-width="1.2" stroke-linecap="round"/>
<path d="M886.3 468.5L887.2 208L889.6 208L890.5 468.5Z" fill="#55b247"/>
<path d="M884.9 456.5L886.9 214L889.9 214L891.9 456.5Z" fill="#3fa63a"/>
<rect x="886.9" y="450" width="3" height="4.6" rx="1" fill="#a9d976"/>
<rect x="886.9" y="422" width="3" height="4.6" rx="1" fill="#a9d976"/>
<rect x="886.9" y="398" width="3" height="4.6" rx="1" fill="#a9d976"/>
<rect x="886.9" y="379" width="3" height="4.6" rx="1" fill="#a9d976"/>
<rect x="886.9" y="357" width="3" height="4.6" rx="1" fill="#a9d976"/>
<rect x="886.9" y="336" width="3" height="4.6" rx="1" fill="#a9d976"/>
<rect x="886.9" y="316" width="3" height="4.6" rx="1" fill="#a9d976"/>
<rect x="886.9" y="303" width="3" height="4.6" rx="1" fill="#a9d976"/>
<rect x="886.9" y="287" width="3" height="4.6" rx="1" fill="#a9d976"/>
<rect x="886.9" y="277" width="3" height="4.6" rx="1" fill="#a9d976"/>
<rect x="886.9" y="260" width="3" height="4.6" rx="1" fill="#a9d976"/>
<rect x="886.9" y="241" width="3" height="4.6" rx="1" fill="#a9d976"/>
<path d="M889.4 438.5C900.4 437 916.4 436 923.4 441C927.4 448 929.4 455 932.4 462.5C927.4 458 923.4 450 918.4 446.5C908.4 445 896.4 446 889.4 447Z" fill="#6f8d37"/>
<path d="M889 422.3 887.4 416.4 884.4 411.7 881.4 407 878.6 402.3 875.8 398 872.9 394.2 868.6 391.1 861.6 391.1 856.9 392.2 851.5 394.8 847.6 398.6 845.1 403 843.9 407.6 843.6 412.5 843.6 412.5 846.2 408.6 849.1 405.8 852.2 404.1 855.3 403.4 858.8 403.4 864.8 403.9 862.1 404.5 862.5 405 864.8 407 867.9 410.2 871.3 414.3 875.2 418.7 879.5 423.1 885.8 425.7 Z" fill="#3fa63a"/>
<path d="M887.4 424 883.5 419.8 879.8 415.2 876.4 410.6 873.2 406.3 870.3 402.5 867.7 399.6 865.3 397.8 863.2 397.5 857.8 397.8 853.4 399.1 849.9 401.3 847.1 404.4 845.1 408.1 843.6 412.5 843.6 412.5 846.2 408.6 849.1 405.8 852.2 404.1 855.3 403.4 858.8 403.4 864.8 403.9 862.1 404.5 862.5 405 864.8 407 867.9 410.2 871.3 414.3 875.2 418.7 879.5 423.1 885.8 425.7 Z" fill="#2d8f3c" opacity=".55"/>
<path d="M861.6 391.1 856.9 392.2 851.5 394.8 847.6 398.6 845.1 403 843.9 407.6 843.6 412.5 843.6 412.5 846.2 408.6 849.1 405.8 852.2 404.1 855.3 403.4 858.8 403.4 864.8 403.9 Z" fill="#2d8f3c" opacity=".8"/>
<path d="M879.8 415.2 876.4 410.6 873.2 406.3 870.3 402.5 867.7 399.6 865.3 397.8 863.2 397.5 857.8 397.8 853.4 399.1 849.9 401.3" fill="none" stroke="#a9d976" stroke-width="1.1"/>
<path d="M886.6 400.7 892.4 398.9 896.7 395.7 900.8 392.7 904.5 390.2 907.8 388.6 910.3 387.9 911.9 387.7 915.6 387.6 919.2 388.1 923.1 389.1 927.2 390.3 931.6 391.3 936.1 391.5 940.4 390.5 940.4 390.5 936.6 389 933.5 386.9 930.5 384.3 927.2 381.4 923.3 378.5 918.3 376.2 912.5 375 906.8 375.7 902 378.2 898 381.4 894.2 385 890.6 388.7 886.9 392.4 884.2 397.3 Z" fill="#3fa63a"/>
<path d="M885.4 399 889.6 395.7 893.7 392.2 897.5 388.8 901.3 385.8 904.9 383.4 908.5 381.8 912.2 381.3 917 381.9 921.2 383.3 925.2 385.2 928.9 387.3 932.6 389.1 936.4 390.3 940.4 390.5 940.4 390.5 936.1 391.5 931.6 391.3 927.2 390.3 923.1 389.1 919.2 388.1 915.6 387.6 911.9 387.7 910.3 387.9 907.8 388.6 904.5 390.2 900.8 392.7 896.7 395.7 892.4 398.9 886.6 400.7 Z" fill="#2d8f3c" opacity=".55"/>
<path d="M893.7 392.2 897.5 388.8 901.3 385.8 904.9 383.4 908.5 381.8 912.2 381.3 917 381.9 921.2 383.3 925.2 385.2 928.9 387.3" fill="none" stroke="#a9d976" stroke-width="1.1"/>
<path d="M889 380.6 887.4 375.4 884.7 370.8 882 366.2 879.3 361.6 876.5 357.3 873.6 353.3 870.1 350 865.7 347.8 860.3 347.6 854.5 349 849.6 351.2 845.6 353.6 841.8 355.7 837.4 357.4 837.4 357.4 842.2 358.5 847.1 358.6 851.7 358.3 856.1 358.2 861.1 358.6 861.4 359.4 862.6 360.3 864.7 362 867.5 364.5 870.6 367.9 873.8 371.8 877.2 376 880.8 380.2 885.8 383.4 Z" fill="#3fa63a"/>
<path d="M887.4 382 884.1 377.8 880.9 373.4 877.9 369 874.9 364.8 872 360.9 869.2 357.7 866.3 355.1 863.5 353.6 860.7 353.1 855.3 353.6 850.6 354.7 846.3 356.1 842 357.1 837.4 357.4 837.4 357.4 842.2 358.5 847.1 358.6 851.7 358.3 856.1 358.2 861.1 358.6 861.4 359.4 862.6 360.3 864.7 362 867.5 364.5 870.6 367.9 873.8 371.8 877.2 376 880.8 380.2 885.8 383.4 Z" fill="#2d8f3c" opacity=".55"/>
<path d="M880.9 373.4 877.9 369 874.9 364.8 872 360.9 869.2 357.7 866.3 355.1 863.5 353.6 860.7 353.1 855.3 353.6 850.6 354.7" fill="none" stroke="#a9d976" stroke-width="1.1"/>
<path d="M889.7 361.7 895.1 359.7 899.4 356.5 903.3 353.3 906.9 350.5 910.3 348.3 913.2 346.9 915.4 346.2 916.8 345.7 920.4 345.6 924.2 346.5 928.6 348.2 933.2 350 938.1 350.9 942.8 350 942.8 350 938.9 348.3 935.8 345.6 932.7 342.2 928.9 338.6 923.8 335.3 917.4 333.5 912 333.9 907.3 335.9 903.4 339 899.9 342.4 896.4 346.1 893 349.8 889.7 353.6 887.1 358.3 Z" fill="#3fa63a"/>
<path d="M888.4 360 892.4 356.7 896.2 353.1 899.9 349.7 903.4 346.4 906.9 343.6 910.3 341.4 913.7 340 917.1 339.6 922.1 340.5 926.6 342.5 930.6 345.2 934.5 347.8 938.5 349.6 942.8 350 942.8 350 938.1 350.9 933.2 350 928.6 348.2 924.2 346.5 920.4 345.6 916.8 345.7 915.4 346.2 913.2 346.9 910.3 348.3 906.9 350.5 903.3 353.3 899.4 356.5 895.1 359.7 889.7 361.7 Z" fill="#2d8f3c" opacity=".55"/>
<path d="M896.2 353.1 899.9 349.7 903.4 346.4 906.9 343.6 910.3 341.4 913.7 340 917.1 339.6 922.1 340.5 926.6 342.5 930.6 345.2" fill="none" stroke="#a9d976" stroke-width="1.1"/>
<path d="M887.7 336.5 885.9 332.2 883.3 328.8 880.6 325.5 877.8 322.2 875 319.2 871.7 316.4 867.7 314.4 862.9 313.8 857.1 315.4 852.5 318.1 849 321.1 846.2 324 843.4 326.4 839.8 328 839.8 328 844 329 848.5 328.5 852.7 327.3 856.6 326.2 860.1 325.6 863.5 325.8 864.2 326 865.7 326.5 868 327.7 870.7 329.6 873.7 332.1 876.9 334.9 880.5 337.8 885.1 339.5 Z" fill="#3fa63a"/>
<path d="M886.4 338 883.2 335 880.1 331.9 877.1 328.8 874.3 325.9 871.5 323.4 868.7 321.5 866 320.2 863.2 319.8 858.6 320.5 854.6 322.1 850.9 324.2 847.3 326.2 843.7 327.7 839.8 328 839.8 328 844 329 848.5 328.5 852.7 327.3 856.6 326.2 860.1 325.6 863.5 325.8 864.2 326 865.7 326.5 868 327.7 870.7 329.6 873.7 332.1 876.9 334.9 880.5 337.8 885.1 339.5 Z" fill="#2d8f3c" opacity=".55"/>
<path d="M880.1 331.9 877.1 328.8 874.3 325.9 871.5 323.4 868.7 321.5 866 320.2 863.2 319.8 858.6 320.5 854.6 322.1 850.9 324.2" fill="none" stroke="#a9d976" stroke-width="1.1"/>
<path d="M890.9 320.3 896.3 317.4 899.8 313.1 902.8 308.8 905.5 305.1 907.6 302.7 908.4 302.3 904.5 302.8 912.1 302.5 916.7 302.2 920.5 302.2 923.8 302.5 926.7 303.2 929.3 304.3 931.8 306 931.8 306 931.1 302.9 929.5 299.7 926.9 296.7 923.2 294.1 918.5 292 912.8 290.6 908.3 290.1 900.9 291.5 897.8 295 895.6 298.9 893.4 303.2 891.1 307.7 888.8 312.3 887.9 317.7 Z" fill="#3fa63a"/>
<path d="M889.4 319 892.6 314.9 895.5 310.4 898.1 306 900.5 302 902.7 298.9 904.7 296.9 906.4 296.5 912.4 296.5 917.6 297.1 921.8 298.1 925.3 299.6 928.1 301.4 930.2 303.6 931.8 306 931.8 306 929.3 304.3 926.7 303.2 923.8 302.5 920.5 302.2 916.7 302.2 912.1 302.5 904.5 302.8 908.4 302.3 907.6 302.7 905.5 305.1 902.8 308.8 899.8 313.1 896.3 317.4 890.9 320.3 Z" fill="#2d8f3c" opacity=".55"/>
<path d="M904.5 302.8 912.1 302.5 916.7 302.2 920.5 302.2 923.8 302.5 926.7 303.2 929.3 304.3 931.8 306 931.8 306 931.1 302.9 929.5 299.7 926.9 296.7 923.2 294.1 918.5 292 912.8 290.6 908.3 290.1 Z" fill="#2d8f3c" opacity=".8"/>
<path d="M895.5 310.4 898.1 306 900.5 302 902.7 298.9 904.7 296.9 906.4 296.5 912.4 296.5 917.6 297.1 921.8 298.1 925.3 299.6" fill="none" stroke="#a9d976" stroke-width="1.1"/>
<path d="M888.7 304.6 886.6 299.6 883.5 295.6 880.4 291.4 877.4 287.4 874.2 283.7 870.6 280.4 866.2 278.2 860.9 277.9 855.4 279.6 851.1 282.5 847.9 285.7 845.3 288.6 842.7 290.9 839.4 292.4 839.4 292.4 843.4 293.1 847.5 292.3 851.5 290.7 855.2 289.2 858.5 288.4 861.5 288.6 862.5 289.2 864.2 290.1 866.9 291.8 870 294.3 873.4 297.5 877.1 301.2 880.9 304.9 886.1 307.4 Z" fill="#3fa63a"/>
<path d="M887.4 306 883.8 302.3 880.3 298.4 876.9 294.5 873.7 290.9 870.5 287.7 867.4 285.3 864.3 283.7 861.2 283.3 856.9 284 853.2 285.8 849.7 288.2 846.4 290.4 843 292 839.4 292.4 839.4 292.4 843.4 293.1 847.5 292.3 851.5 290.7 855.2 289.2 858.5 288.4 861.5 288.6 862.5 289.2 864.2 290.1 866.9 291.8 870 294.3 873.4 297.5 877.1 301.2 880.9 304.9 886.1 307.4 Z" fill="#2d8f3c" opacity=".55"/>
<path d="M880.3 298.4 876.9 294.5 873.7 290.9 870.5 287.7 867.4 285.3 864.3 283.7 861.2 283.3 856.9 284 853.2 285.8 849.7 288.2" fill="none" stroke="#a9d976" stroke-width="1.1"/>
<path d="M891.1 290.7 894 288.9 895.9 286.7 897.9 284.7 900.2 282.8 902.6 281 905.2 279.4 907.8 277.7 910.3 275.8 912.7 273.6 915.1 271.4 917.6 269.1 920 266.8 922.3 264.4 924.4 262 924.4 262 921.2 262.3 917.9 262.8 914.6 263.5 911.2 264.3 907.9 265.4 904.5 266.7 901.4 268.5 898.6 270.8 896 273.3 893.5 276.1 891.3 279 889.3 282 887.7 285.3 887.7 289.3 Z" fill="#3fa63a"/>
<path d="M889.4 290 890.8 287.1 892.6 284.4 894.6 281.8 896.8 279.4 899.3 277.2 901.9 275.1 904.6 273.1 907.4 271.3 910.3 269.5 913.2 267.9 916.1 266.3 918.9 264.8 921.7 263.4 924.4 262 924.4 262 922.3 264.4 920 266.8 917.6 269.1 915.1 271.4 912.7 273.6 910.3 275.8 907.8 277.7 905.2 279.4 902.6 281 900.2 282.8 897.9 284.7 895.9 286.7 894 288.9 891.1 290.7 Z" fill="#2d8f3c" opacity=".55"/>
<path d="M892.6 284.4 894.6 281.8 896.8 279.4 899.3 277.2 901.9 275.1 904.6 273.1 907.4 271.3 910.3 269.5 913.2 267.9 916.1 266.3" fill="none" stroke="#a9d976" stroke-width="1.1"/>
<path d="M888.1 279.9 888 274.6 886.3 269.9 884.6 265.1 882.9 260.5 881.4 256.3 879.8 252.5 876.8 249.2 869.2 248.6 865.6 249.1 860.6 250.8 856.7 253.1 854 256.1 852.4 259.2 851.8 262.3 851.8 262.3 854.1 260.5 856.7 259.4 859.4 258.9 862.6 258.7 866.4 259 873.6 259.3 868.6 259.4 868.6 259.6 870.2 261.8 872.3 265.3 874.6 269.5 877.1 274.2 879.9 278.8 884.7 282.1 Z" fill="#3fa63a"/>
<path d="M886.4 281 884 276.7 881.7 272 879.6 267.3 877.6 262.9 875.8 259.1 874.2 256.1 872.7 254.3 871.4 254 866 254 861.6 254.8 858.1 256 855.3 257.7 853.3 259.9 851.8 262.3 851.8 262.3 854.1 260.5 856.7 259.4 859.4 258.9 862.6 258.7 866.4 259 873.6 259.3 868.6 259.4 868.6 259.6 870.2 261.8 872.3 265.3 874.6 269.5 877.1 274.2 879.9 278.8 884.7 282.1 Z" fill="#2d8f3c" opacity=".55"/>
<path d="M869.2 248.6 865.6 249.1 860.6 250.8 856.7 253.1 854 256.1 852.4 259.2 851.8 262.3 851.8 262.3 854.1 260.5 856.7 259.4 859.4 258.9 862.6 258.7 866.4 259 873.6 259.3 Z" fill="#2d8f3c" opacity=".8"/>
<path d="M881.7 272 879.6 267.3 877.6 262.9 875.8 259.1 874.2 256.1 872.7 254.3 871.4 254 866 254 861.6 254.8 858.1 256" fill="none" stroke="#a9d976" stroke-width="1.1"/>
<path d="M891 263.6 893.6 261.8 895.3 259.8 897 257.8 899 256 901.1 254.3 903.4 252.8 905.7 251.1 907.9 249.2 910 247.1 912.1 244.9 914.2 242.7 916.2 240.5 918.2 238.2 920 235.8 920 235.8 917.1 236.2 914.1 236.8 911.1 237.5 908 238.4 905 239.5 902 240.9 899.2 242.7 896.7 244.8 894.5 247.3 892.4 250 890.5 252.7 888.8 255.6 887.5 258.7 887.8 262.4 Z" fill="#3fa63a"/>
<path d="M889.4 263 890.6 260.3 892 257.7 893.8 255.3 895.7 253 897.8 250.8 900.1 248.8 902.5 246.9 904.9 245 907.5 243.3 910 241.7 912.6 240.1 915.2 238.6 917.6 237.2 920 235.8 920 235.8 918.2 238.2 916.2 240.5 914.2 242.7 912.1 244.9 910 247.1 907.9 249.2 905.7 251.1 903.4 252.8 901.1 254.3 899 256 897 257.8 895.3 259.8 893.6 261.8 891 263.6 Z" fill="#2d8f3c" opacity=".55"/>
<path d="M892 257.7 893.8 255.3 895.7 253 897.8 250.8 900.1 248.8 902.5 246.9 904.9 245 907.5 243.3 910 241.7 912.6 240.1" fill="none" stroke="#a9d976" stroke-width="1.1"/>
<path d="M889 242.4 889.2 239 888 236 886.4 233.3 884.6 230.7 882.6 228.2 880.5 225.8 878.1 223.8 875.5 222.1 872.6 220.8 869.7 219.8 866.9 218.9 864 218.2 861.2 217.7 858.4 217.3 858.4 217.3 860.1 219.5 862 221.7 863.9 223.8 865.9 225.9 867.9 228 869.9 230 872 231.8 874.1 233.3 876.3 234.8 878.3 236.4 880.1 238.1 881.8 240 883.4 241.9 885.8 243.6 Z" fill="#3fa63a"/>
<path d="M887.4 243 886.3 240.4 884.9 238 883.3 235.7 881.4 233.5 879.4 231.5 877.3 229.6 875 227.8 872.7 226 870.3 224.4 867.8 222.8 865.4 221.4 863 220 860.6 218.6 858.4 217.3 858.4 217.3 860.1 219.5 862 221.7 863.9 223.8 865.9 225.9 867.9 228 869.9 230 872 231.8 874.1 233.3 876.3 234.8 878.3 236.4 880.1 238.1 881.8 240 883.4 241.9 885.8 243.6 Z" fill="#2d8f3c" opacity=".55"/>
<path d="M884.9 238 883.3 235.7 881.4 233.5 879.4 231.5 877.3 229.6 875 227.8 872.7 226 870.3 224.4 867.8 222.8 865.4 221.4" fill="none" stroke="#a9d976" stroke-width="1.1"/>
<path d="M889.9 229.7 892.5 228 894.2 226.1 896 224.2 898 222.5 900.2 221 902.5 219.5 904.8 218 907 216.2 909.2 214.3 911.4 212.3 913.5 210.2 915.7 208.1 917.7 206 919.6 203.8 919.6 203.8 916.7 204.1 913.8 204.5 910.8 205.1 907.8 205.9 904.8 206.9 901.8 208.1 899 209.7 896.5 211.7 894.2 214 892 216.5 890 219.1 888.3 221.8 886.8 224.8 886.9 228.3 Z" fill="#3fa63a"/>
<path d="M888.4 229 889.7 226.4 891.2 224 893 221.7 895 219.5 897.2 217.5 899.5 215.6 901.9 213.8 904.4 212.2 907 210.6 909.6 209.1 912.2 207.7 914.7 206.3 917.2 205 919.6 203.8 919.6 203.8 917.7 206 915.7 208.1 913.5 210.2 911.4 212.3 909.2 214.3 907 216.2 904.8 218 902.5 219.5 900.2 221 898 222.5 896 224.2 894.2 226.1 892.5 228 889.9 229.7 Z" fill="#2d8f3c" opacity=".55"/>
<path d="M891.2 224 893 221.7 895 219.5 897.2 217.5 899.5 215.6 901.9 213.8 904.4 212.2 907 210.6 909.6 209.1 912.2 207.7" fill="none" stroke="#a9d976" stroke-width="1.1"/>
<path d="M888.4 461l-6 4M888.4 461l6 4M888.4 459l-4 8M888.4 459l4 8" stroke="#6b4a35" stroke-width="1" fill="none"/>
<path d="M887.4 230L887.4 187.2" stroke="#8fc65a" stroke-width="2.2" fill="none"/>
<path d="M889.5 199 888.7 197.6 889.9 193.9 889.4 192.5 891.1 188.8 889.2 187.5 890.6 183.8 888.7 182.4 890.2 178.7 888.8 177.4 890.5 173.7 888.4 172.3 889.8 168.6 888.3 167.3 890 163.6 888.2 162.2 890.5 158.5 887.6 157.2 889.2 153.5 886.6 152.2 885.3 150.2 882.7 151.2 883.7 154.8 882.1 156.3 883.3 159.9 881.3 161.4 883.4 164.9 881.5 166.4 883.7 170 881.3 171.5 884.3 175 881.6 176.6 884.4 180.1 882.7 181.6 884.2 185.2 882.5 186.6 884.8 190.2 883.8 191.7 885.6 195.2 884.3 196.7 885.9 200.3ZM886.4 209.5 884.6 209.5 881.1 206.9 879.1 208.7 875.4 206.4 873.6 207.4 870 204.7 867.8 207.9 865.6 208.7 866.2 211 870 211.8 871.3 214.5 875.6 212.8 876.9 215.2 881.1 213.8 882.7 214.6 886.9 213.4ZM887.1 204.5 885.4 204.7 883.2 201 881.2 201.9 878.6 198.9 876.7 199.6 874.2 196.3 872.3 197.1 869.7 194.1 867.7 195 864.9 192.6 862.6 194 860.3 194.2 860.2 196.4 863.4 198.2 863.5 201.2 868 200.3 868.5 202.5 872.3 202.9 872.9 204.9 877 204.8 877.6 206.9 881.6 206.9 882.3 208.6 886.5 208.3ZM887.9 193.5 886.1 193.3 884.7 189.5 882.8 189.5 881.5 185.5 878.9 186.4 877.2 182.7 875.2 183 873.7 179.1 871.6 179.3 869.3 176.6 866.9 177.2 864.5 176.8 863.6 179.2 866.7 181.2 866.6 183.5 870.1 184.9 869.8 187.5 874 188.1 874.2 190.1 878 191.3 877.8 193.7 881.9 194.4 882.3 196.1 886.2 197.1ZM888.4 180.8 887 180 886.6 175.9 884.6 175.6 884.3 171.3 881.7 171.5 880.5 167.9 878.4 167.8 877.9 163.6 875.4 163.8 874.4 160 872.1 159.9 870.2 156.9 867.8 157.6 867.9 160 867.2 162.3 870.1 164.6 869.8 166.6 873.1 168.6 872.8 170.5 875.9 172.8 875.3 174.9 879 176.7 878.9 178.5 882.6 180.3 882.8 181.8 886 183.9ZM889.6 213.1 890.3 212.2 893.9 213.1 894.2 211.3 897.9 212.4 898.1 210 901 208.8 901.1 206.4 898.8 205.9 897.1 203.9 894.6 206 893.3 205.1 890.8 207.7 889.5 206.7 887.3 209.8ZM889.7 208.4 890.8 207.4 895 207.4 895.4 205.2 899.8 205.6 899.8 202.6 904.3 203.3 904.5 200.7 908.3 200 908.8 197.9 912.8 197.6 913.1 195.3 916.4 193.7 916 191.1 913.5 190.8 911.1 189.5 908.5 192.3 906.1 191 904.3 195.2 901.7 193.5 899.7 197.4 897.5 196.4 895.3 199.9 893.2 199 891.2 203 889.4 202.7 887 205.8ZM890.2 197.4 891 195.9 895 195 895.5 193.3 899.3 192 899.6 190 903.9 189.4 903.7 186.7 907.5 185.6 907.6 183.2 911.7 182.4 911 179 911.8 176.9 909.5 175.5 907 178.2 904.3 177.3 902.7 181.2 900.2 180.5 898.4 184.3 896 183.7 894.4 187.7 892.2 187.4 890.4 191 888.9 191.6 887 195.2ZM890.2 182.5 890.4 180.9 894.1 179 894.2 177.4 897.4 175.2 896.8 173 901 171.5 899.8 169 903.6 167.2 902.7 164.9 906.4 163 905 160.4 907.5 157.7 905.9 155.5 903.6 156.3 900.8 156.1 899.8 159.9 897.7 160.2 897.1 164.1 895 164.4 894.2 168.2 892.1 168.5 891.3 172.3 889.1 172.6 889.1 176.9 887.1 177.3 886.7 181.5ZM889 187.1 887.5 186 888.6 181.3 885.9 180.6 886.7 176 883.5 175.5 884.4 170.9 880.6 170.7 878.7 169.3 877.2 171 878.3 174.7 877.1 177 880.2 179.9 878.9 182.3 882.9 184.8 882.2 187 885.7 189.7ZM890.7 189.2 890.6 187.6 894.6 185.3 893.1 183 896 180.2 894.9 178.2 898.2 175.6 897 173.5 898.2 170 896.6 168.3 894.7 169.7 891.6 170 891.9 174.1 889.5 174.7 889.8 178.8 887.2 179.3 887.4 183.4 886.3 184.6 886.5 188.6ZM887.7 200.7 886.4 199.7 884.7 195.8 882.2 196 880.4 192.2 878.2 192.2 875.4 189.5 873 190.8 873.7 193.1 872.8 196.7 877.4 197.3 876.9 200.4 881.4 201.1 882 203 886.2 204.1ZM890.1 203.9 891.1 202.7 895.3 201.7 895.3 199.5 898.7 197.6 898.7 195.5 902.9 194.4 901.8 191.2 902.2 188.7 899.8 187.6 897.5 190.6 895.1 190.3 893.6 194.1 890.7 193.4 889.6 197.5 888 198.1 886.7 202.1Z" fill="#dca354"/>
<path d="M887.4 200L885.4 152M886.9 212L867.4 209M886.9 207L861.9 195M886.9 196L865.9 178M886.9 183L868.9 159M887.9 211L899.4 207M887.9 207L914.4 192M887.9 196L910.4 178M887.9 182L904.9 157M886.9 189L879.4 171M887.9 189L895.9 170M886.9 203L874.4 192M887.9 203L900.9 190" fill="none" stroke="#c27f30" stroke-width="2.6" stroke-dasharray="1.6 1.9" stroke-linecap="round" opacity=".9"/>
<path d="M887.4 218L887.4 193" stroke="#8fc65a" stroke-width="1.6" fill="none"/>
<path d="M998.3 469C984.7 471 973.6 477.9 968.9 490.6M998.7 469C988.8 471 979.2 483.3 974.4 502.6M999.1 469C994.3 471 988.5 488 987.7 513.1M999.5 469C999.4 471 999.6 491.8 999.3 521.6M999.9 469C1004.6 471 1010.4 487.4 1011.4 511.6M1000.3 469C1010 471 1019.7 480.9 1021.9 497.4M1000.8 469C1015.7 471 1030.6 475.6 1037.6 485.5" fill="none" stroke="#5c4733" stroke-width="1.7" stroke-linecap="round"/>
<path d="M982 474.7Q973.6 476 967.5 478.8M975.9 479.4Q971.7 480.3 966.4 482.7M973.8 481.8Q967.3 483.6 961.4 486.9M985.6 478.1Q980.2 479.7 977 482.7M980.4 486.1Q975.5 488.2 971 491.7M979.1 488.8Q973.2 490.7 966.9 494.2M992.3 480.9Q985.2 485.1 980.4 490.7M991.1 485.3Q995 490.1 997.1 496.4M989.1 495.9Q985.8 499.2 982.2 503.9M999.5 479.9Q994.2 486.4 991 494.4M999.5 491.8Q1003.2 496.5 1005.9 502.6M999.4 507Q991.8 512.7 987.3 519.9M1007.2 482.4Q1005 488.6 1003.9 496.2M1008.9 489.3Q1014.8 494.6 1018 501.3M1009.6 493.2Q1006.3 500 1002.1 508.4M1011.3 474.9Q1017.4 475.8 1021.1 478.2M1016.2 480.9Q1021.9 482.3 1024.9 485.3M1019.7 488.1Q1024.5 491.7 1028.5 496.9M1020.6 473.7Q1025.4 474.8 1029.3 477.5M1028.1 477.2Q1034.4 478.5 1039.9 481.3M1032.4 480.1Q1040.3 481.3 1046.8 484" fill="none" stroke="#5c4733" stroke-width="1.2" stroke-linecap="round"/>
<path d="M997.4 468.5L998.3 208L1000.7 208L1001.6 468.5Z" fill="#7aa646"/>
<path d="M996 456.5L998 214L1001 214L1003 456.5Z" fill="#5f8f38"/>
<rect x="998" y="450" width="3" height="4.6" rx="1" fill="#b5cf7a"/>
<rect x="998" y="422" width="3" height="4.6" rx="1" fill="#b5cf7a"/>
<rect x="998" y="398" width="3" height="4.6" rx="1" fill="#b5cf7a"/>
<rect x="998" y="379" width="3" height="4.6" rx="1" fill="#b5cf7a"/>
<rect x="998" y="357" width="3" height="4.6" rx="1" fill="#b5cf7a"/>
<rect x="998" y="336" width="3" height="4.6" rx="1" fill="#b5cf7a"/>
<rect x="998" y="316" width="3" height="4.6" rx="1" fill="#b5cf7a"/>
<rect x="998" y="303" width="3" height="4.6" rx="1" fill="#b5cf7a"/>
<rect x="998" y="287" width="3" height="4.6" rx="1" fill="#b5cf7a"/>
<rect x="998" y="277" width="3" height="4.6" rx="1" fill="#b5cf7a"/>
<rect x="998" y="260" width="3" height="4.6" rx="1" fill="#b5cf7a"/>
<rect x="998" y="241" width="3" height="4.6" rx="1" fill="#b5cf7a"/>
<path d="M1000.1 422.3 998.5 416.4 995.5 411.7 992.5 407 989.7 402.3 986.9 398 984 394.2 979.7 391.1 972.7 391.1 968 392.2 962.6 394.8 958.7 398.6 956.2 403 955 407.6 954.7 412.5 954.7 412.5 957.3 408.6 960.2 405.8 963.3 404.1 966.4 403.4 969.9 403.4 975.9 403.9 973.2 404.5 973.6 405 975.9 407 979 410.2 982.4 414.3 986.3 418.7 990.6 423.1 996.9 425.7 Z" fill="#5f8f38"/>
<path d="M998.5 424 994.6 419.8 990.9 415.2 987.5 410.6 984.3 406.3 981.4 402.5 978.8 399.6 976.4 397.8 974.3 397.5 968.9 397.8 964.5 399.1 961 401.3 958.2 404.4 956.2 408.1 954.7 412.5 954.7 412.5 957.3 408.6 960.2 405.8 963.3 404.1 966.4 403.4 969.9 403.4 975.9 403.9 973.2 404.5 973.6 405 975.9 407 979 410.2 982.4 414.3 986.3 418.7 990.6 423.1 996.9 425.7 Z" fill="#4b7a33" opacity=".55"/>
<path d="M972.7 391.1 968 392.2 962.6 394.8 958.7 398.6 956.2 403 955 407.6 954.7 412.5 954.7 412.5 957.3 408.6 960.2 405.8 963.3 404.1 966.4 403.4 969.9 403.4 975.9 403.9 Z" fill="#4b7a33" opacity=".8"/>
<path d="M990.9 415.2 987.5 410.6 984.3 406.3 981.4 402.5 978.8 399.6 976.4 397.8 974.3 397.5 968.9 397.8 964.5 399.1 961 401.3" fill="none" stroke="#b5cf7a" stroke-width="1.1"/>
<path d="M997.7 400.7 1003.5 398.9 1007.8 395.7 1011.9 392.7 1015.6 390.2 1018.9 388.6 1021.4 387.9 1023 387.7 1026.7 387.6 1030.3 388.1 1034.2 389.1 1038.3 390.3 1042.7 391.3 1047.2 391.5 1051.5 390.5 1051.5 390.5 1047.7 389 1044.6 386.9 1041.6 384.3 1038.3 381.4 1034.4 378.5 1029.4 376.2 1023.6 375 1017.9 375.7 1013.1 378.2 1009.1 381.4 1005.3 385 1001.7 388.7 998 392.4 995.3 397.3 Z" fill="#5f8f38"/>
<path d="M996.5 399 1000.7 395.7 1004.8 392.2 1008.6 388.8 1012.4 385.8 1016 383.4 1019.6 381.8 1023.3 381.3 1028.1 381.9 1032.3 383.3 1036.3 385.2 1040 387.3 1043.7 389.1 1047.5 390.3 1051.5 390.5 1051.5 390.5 1047.2 391.5 1042.7 391.3 1038.3 390.3 1034.2 389.1 1030.3 388.1 1026.7 387.6 1023 387.7 1021.4 387.9 1018.9 388.6 1015.6 390.2 1011.9 392.7 1007.8 395.7 1003.5 398.9 997.7 400.7 Z" fill="#4b7a33" opacity=".55"/>
<path d="M1004.8 392.2 1008.6 388.8 1012.4 385.8 1016 383.4 1019.6 381.8 1023.3 381.3 1028.1 381.9 1032.3 383.3 1036.3 385.2 1040 387.3" fill="none" stroke="#b5cf7a" stroke-width="1.1"/>
<path d="M1000.1 380.6 998.5 375.4 995.8 370.8 993.1 366.2 990.4 361.6 987.6 357.3 984.7 353.3 981.2 350 976.8 347.8 971.4 347.6 965.6 349 960.7 351.2 956.7 353.6 952.9 355.7 948.5 357.4 948.5 357.4 953.3 358.5 958.2 358.6 962.8 358.3 967.2 358.2 972.2 358.6 972.5 359.4 973.7 360.3 975.8 362 978.6 364.5 981.7 367.9 984.9 371.8 988.3 376 991.9 380.2 996.9 383.4 Z" fill="#5f8f38"/>
<path d="M998.5 382 995.2 377.8 992 373.4 989 369 986 364.8 983.1 360.9 980.3 357.7 977.4 355.1 974.6 353.6 971.8 353.1 966.4 353.6 961.7 354.7 957.4 356.1 953.1 357.1 948.5 357.4 948.5 357.4 953.3 358.5 958.2 358.6 962.8 358.3 967.2 358.2 972.2 358.6 972.5 359.4 973.7 360.3 975.8 362 978.6 364.5 981.7 367.9 984.9 371.8 988.3 376 991.9 380.2 996.9 383.4 Z" fill="#4b7a33" opacity=".55"/>
<path d="M992 373.4 989 369 986 364.8 983.1 360.9 980.3 357.7 977.4 355.1 974.6 353.6 971.8 353.1 966.4 353.6 961.7 354.7" fill="none" stroke="#b5cf7a" stroke-width="1.1"/>
<path d="M1000.8 361.7 1006.2 359.7 1010.5 356.5 1014.4 353.3 1018 350.5 1021.4 348.3 1024.3 346.9 1026.5 346.2 1027.9 345.7 1031.5 345.6 1035.3 346.5 1039.7 348.2 1044.3 350 1049.2 350.9 1053.9 350 1053.9 350 1050 348.3 1046.9 345.6 1043.8 342.2 1040 338.6 1034.9 335.3 1028.5 333.5 1023.1 333.9 1018.4 335.9 1014.5 339 1011 342.4 1007.5 346.1 1004.1 349.8 1000.8 353.6 998.2 358.3 Z" fill="#5f8f38"/>
<path d="M999.5 360 1003.5 356.7 1007.3 353.1 1011 349.7 1014.5 346.4 1018 343.6 1021.4 341.4 1024.8 340 1028.2 339.6 1033.2 340.5 1037.7 342.5 1041.7 345.2 1045.6 347.8 1049.6 349.6 1053.9 350 1053.9 350 1049.2 350.9 1044.3 350 1039.7 348.2 1035.3 346.5 1031.5 345.6 1027.9 345.7 1026.5 346.2 1024.3 346.9 1021.4 348.3 1018 350.5 1014.4 353.3 1010.5 356.5 1006.2 359.7 1000.8 361.7 Z" fill="#4b7a33" opacity=".55"/>
<path d="M1007.3 353.1 1011 349.7 1014.5 346.4 1018 343.6 1021.4 341.4 1024.8 340 1028.2 339.6 1033.2 340.5 1037.7 342.5 1041.7 345.2" fill="none" stroke="#b5cf7a" stroke-width="1.1"/>
<path d="M998.8 336.5 997 332.2 994.4 328.8 991.7 325.5 988.9 322.2 986.1 319.2 982.8 316.4 978.8 314.4 974 313.8 968.2 315.4 963.6 318.1 960.1 321.1 957.3 324 954.5 326.4 950.9 328 950.9 328 955.1 329 959.6 328.5 963.8 327.3 967.7 326.2 971.2 325.6 974.6 325.8 975.3 326 976.8 326.5 979.1 327.7 981.8 329.6 984.8 332.1 988 334.9 991.6 337.8 996.2 339.5 Z" fill="#5f8f38"/>
<path d="M997.5 338 994.3 335 991.2 331.9 988.2 328.8 985.4 325.9 982.6 323.4 979.8 321.5 977.1 320.2 974.3 319.8 969.7 320.5 965.7 322.1 962 324.2 958.4 326.2 954.8 327.7 950.9 328 950.9 328 955.1 329 959.6 328.5 963.8 327.3 967.7 326.2 971.2 325.6 974.6 325.8 975.3 326 976.8 326.5 979.1 327.7 981.8 329.6 984.8 332.1 988 334.9 991.6 337.8 996.2 339.5 Z" fill="#4b7a33" opacity=".55"/>
<path d="M991.2 331.9 988.2 328.8 985.4 325.9 982.6 323.4 979.8 321.5 977.1 320.2 974.3 319.8 969.7 320.5 965.7 322.1 962 324.2" fill="none" stroke="#b5cf7a" stroke-width="1.1"/>
<path d="M1002 320.3 1007.4 317.4 1010.9 313.1 1013.9 308.8 1016.6 305.1 1018.7 302.7 1019.5 302.3 1015.6 302.8 1023.2 302.5 1027.8 302.2 1031.6 302.2 1034.9 302.5 1037.8 303.2 1040.4 304.3 1042.9 306 1042.9 306 1042.2 302.9 1040.6 299.7 1038 296.7 1034.3 294.1 1029.6 292 1023.9 290.6 1019.4 290.1 1012 291.5 1008.9 295 1006.7 298.9 1004.5 303.2 1002.2 307.7 999.9 312.3 999 317.7 Z" fill="#5f8f38"/>
<path d="M1000.5 319 1003.7 314.9 1006.6 310.4 1009.2 306 1011.6 302 1013.8 298.9 1015.8 296.9 1017.5 296.5 1023.5 296.5 1028.7 297.1 1032.9 298.1 1036.4 299.6 1039.2 301.4 1041.3 303.6 1042.9 306 1042.9 306 1040.4 304.3 1037.8 303.2 1034.9 302.5 1031.6 302.2 1027.8 302.2 1023.2 302.5 1015.6 302.8 1019.5 302.3 1018.7 302.7 1016.6 305.1 1013.9 308.8 1010.9 313.1 1007.4 317.4 1002 320.3 Z" fill="#4b7a33" opacity=".55"/>
<path d="M1015.6 302.8 1023.2 302.5 1027.8 302.2 1031.6 302.2 1034.9 302.5 1037.8 303.2 1040.4 304.3 1042.9 306 1042.9 306 1042.2 302.9 1040.6 299.7 1038 296.7 1034.3 294.1 1029.6 292 1023.9 290.6 1019.4 290.1 Z" fill="#4b7a33" opacity=".8"/>
<path d="M1006.6 310.4 1009.2 306 1011.6 302 1013.8 298.9 1015.8 296.9 1017.5 296.5 1023.5 296.5 1028.7 297.1 1032.9 298.1 1036.4 299.6" fill="none" stroke="#b5cf7a" stroke-width="1.1"/>
<path d="M999.8 304.6 997.7 299.6 994.6 295.6 991.5 291.4 988.5 287.4 985.3 283.7 981.7 280.4 977.3 278.2 972 277.9 966.5 279.6 962.2 282.5 959 285.7 956.4 288.6 953.8 290.9 950.5 292.4 950.5 292.4 954.5 293.1 958.6 292.3 962.6 290.7 966.3 289.2 969.6 288.4 972.6 288.6 973.6 289.2 975.3 290.1 978 291.8 981.1 294.3 984.5 297.5 988.2 301.2 992 304.9 997.2 307.4 Z" fill="#5f8f38"/>
<path d="M998.5 306 994.9 302.3 991.4 298.4 988 294.5 984.8 290.9 981.6 287.7 978.5 285.3 975.4 283.7 972.3 283.3 968 284 964.3 285.8 960.8 288.2 957.5 290.4 954.1 292 950.5 292.4 950.5 292.4 954.5 293.1 958.6 292.3 962.6 290.7 966.3 289.2 969.6 288.4 972.6 288.6 973.6 289.2 975.3 290.1 978 291.8 981.1 294.3 984.5 297.5 988.2 301.2 992 304.9 997.2 307.4 Z" fill="#4b7a33" opacity=".55"/>
<path d="M991.4 298.4 988 294.5 984.8 290.9 981.6 287.7 978.5 285.3 975.4 283.7 972.3 283.3 968 284 964.3 285.8 960.8 288.2" fill="none" stroke="#b5cf7a" stroke-width="1.1"/>
<path d="M1002.2 290.7 1005.1 288.9 1007 286.7 1009 284.7 1011.3 282.8 1013.7 281 1016.3 279.4 1018.9 277.7 1021.4 275.8 1023.8 273.6 1026.2 271.4 1028.7 269.1 1031.1 266.8 1033.4 264.4 1035.5 262 1035.5 262 1032.3 262.3 1029 262.8 1025.7 263.5 1022.3 264.3 1019 265.4 1015.6 266.7 1012.5 268.5 1009.7 270.8 1007.1 273.3 1004.6 276.1 1002.4 279 1000.4 282 998.8 285.3 998.8 289.3 Z" fill="#5f8f38"/>
<path d="M1000.5 290 1001.9 287.1 1003.7 284.4 1005.7 281.8 1007.9 279.4 1010.4 277.2 1013 275.1 1015.7 273.1 1018.5 271.3 1021.4 269.5 1024.3 267.9 1027.2 266.3 1030 264.8 1032.8 263.4 1035.5 262 1035.5 262 1033.4 264.4 1031.1 266.8 1028.7 269.1 1026.2 271.4 1023.8 273.6 1021.4 275.8 1018.9 277.7 1016.3 279.4 1013.7 281 1011.3 282.8 1009 284.7 1007 286.7 1005.1 288.9 1002.2 290.7 Z" fill="#4b7a33" opacity=".55"/>
<path d="M1003.7 284.4 1005.7 281.8 1007.9 279.4 1010.4 277.2 1013 275.1 1015.7 273.1 1018.5 271.3 1021.4 269.5 1024.3 267.9 1027.2 266.3" fill="none" stroke="#b5cf7a" stroke-width="1.1"/>
<path d="M999.2 279.9 999.1 274.6 997.4 269.9 995.7 265.1 994 260.5 992.5 256.3 990.9 252.5 987.9 249.2 980.3 248.6 976.7 249.1 971.7 250.8 967.8 253.1 965.1 256.1 963.5 259.2 962.9 262.3 962.9 262.3 965.2 260.5 967.8 259.4 970.5 258.9 973.7 258.7 977.5 259 984.7 259.3 979.7 259.4 979.7 259.6 981.3 261.8 983.4 265.3 985.7 269.5 988.2 274.2 991 278.8 995.8 282.1 Z" fill="#5f8f38"/>
<path d="M997.5 281 995.1 276.7 992.8 272 990.7 267.3 988.7 262.9 986.9 259.1 985.3 256.1 983.8 254.3 982.5 254 977.1 254 972.7 254.8 969.2 256 966.4 257.7 964.4 259.9 962.9 262.3 962.9 262.3 965.2 260.5 967.8 259.4 970.5 258.9 973.7 258.7 977.5 259 984.7 259.3 979.7 259.4 979.7 259.6 981.3 261.8 983.4 265.3 985.7 269.5 988.2 274.2 991 278.8 995.8 282.1 Z" fill="#4b7a33" opacity=".55"/>
<path d="M980.3 248.6 976.7 249.1 971.7 250.8 967.8 253.1 965.1 256.1 963.5 259.2 962.9 262.3 962.9 262.3 965.2 260.5 967.8 259.4 970.5 258.9 973.7 258.7 977.5 259 984.7 259.3 Z" fill="#4b7a33" opacity=".8"/>
<path d="M992.8 272 990.7 267.3 988.7 262.9 986.9 259.1 985.3 256.1 983.8 254.3 982.5 254 977.1 254 972.7 254.8 969.2 256" fill="none" stroke="#b5cf7a" stroke-width="1.1"/>
<path d="M1002.1 263.6 1004.7 261.8 1006.4 259.8 1008.1 257.8 1010.1 256 1012.2 254.3 1014.5 252.8 1016.8 251.1 1019 249.2 1021.1 247.1 1023.2 244.9 1025.3 242.7 1027.3 240.5 1029.3 238.2 1031.1 235.8 1031.1 235.8 1028.2 236.2 1025.2 236.8 1022.2 237.5 1019.1 238.4 1016.1 239.5 1013.1 240.9 1010.3 242.7 1007.8 244.8 1005.6 247.3 1003.5 250 1001.6 252.7 999.9 255.6 998.6 258.7 998.9 262.4 Z" fill="#5f8f38"/>
<path d="M1000.5 263 1001.7 260.3 1003.1 257.7 1004.9 255.3 1006.8 253 1008.9 250.8 1011.2 248.8 1013.6 246.9 1016 245 1018.6 243.3 1021.1 241.7 1023.7 240.1 1026.3 238.6 1028.7 237.2 1031.1 235.8 1031.1 235.8 1029.3 238.2 1027.3 240.5 1025.3 242.7 1023.2 244.9 1021.1 247.1 1019 249.2 1016.8 251.1 1014.5 252.8 1012.2 254.3 1010.1 256 1008.1 257.8 1006.4 259.8 1004.7 261.8 1002.1 263.6 Z" fill="#4b7a33" opacity=".55"/>
<path d="M1003.1 257.7 1004.9 255.3 1006.8 253 1008.9 250.8 1011.2 248.8 1013.6 246.9 1016 245 1018.6 243.3 1021.1 241.7 1023.7 240.1" fill="none" stroke="#b5cf7a" stroke-width="1.1"/>
<path d="M1000.1 242.4 1000.3 239 999.1 236 997.5 233.3 995.7 230.7 993.7 228.2 991.6 225.8 989.2 223.8 986.6 222.1 983.7 220.8 980.8 219.8 978 218.9 975.1 218.2 972.3 217.7 969.5 217.3 969.5 217.3 971.2 219.5 973.1 221.7 975 223.8 977 225.9 979 228 981 230 983.1 231.8 985.2 233.3 987.4 234.8 989.4 236.4 991.2 238.1 992.9 240 994.5 241.9 996.9 243.6 Z" fill="#5f8f38"/>
<path d="M998.5 243 997.4 240.4 996 238 994.4 235.7 992.5 233.5 990.5 231.5 988.4 229.6 986.1 227.8 983.8 226 981.4 224.4 978.9 222.8 976.5 221.4 974.1 220 971.7 218.6 969.5 217.3 969.5 217.3 971.2 219.5 973.1 221.7 975 223.8 977 225.9 979 228 981 230 983.1 231.8 985.2 233.3 987.4 234.8 989.4 236.4 991.2 238.1 992.9 240 994.5 241.9 996.9 243.6 Z" fill="#4b7a33" opacity=".55"/>
<path d="M996 238 994.4 235.7 992.5 233.5 990.5 231.5 988.4 229.6 986.1 227.8 983.8 226 981.4 224.4 978.9 222.8 976.5 221.4" fill="none" stroke="#b5cf7a" stroke-width="1.1"/>
<path d="M1001 229.7 1003.6 228 1005.3 226.1 1007.1 224.2 1009.1 222.5 1011.3 221 1013.6 219.5 1015.9 218 1018.1 216.2 1020.3 214.3 1022.5 212.3 1024.6 210.2 1026.8 208.1 1028.8 206 1030.7 203.8 1030.7 203.8 1027.8 204.1 1024.9 204.5 1021.9 205.1 1018.9 205.9 1015.9 206.9 1012.9 208.1 1010.1 209.7 1007.6 211.7 1005.3 214 1003.1 216.5 1001.1 219.1 999.4 221.8 997.9 224.8 998 228.3 Z" fill="#5f8f38"/>
<path d="M999.5 229 1000.8 226.4 1002.3 224 1004.1 221.7 1006.1 219.5 1008.3 217.5 1010.6 215.6 1013 213.8 1015.5 212.2 1018.1 210.6 1020.7 209.1 1023.3 207.7 1025.8 206.3 1028.3 205 1030.7 203.8 1030.7 203.8 1028.8 206 1026.8 208.1 1024.6 210.2 1022.5 212.3 1020.3 214.3 1018.1 216.2 1015.9 218 1013.6 219.5 1011.3 221 1009.1 222.5 1007.1 224.2 1005.3 226.1 1003.6 228 1001 229.7 Z" fill="#4b7a33" opacity=".55"/>
<path d="M1002.3 224 1004.1 221.7 1006.1 219.5 1008.3 217.5 1010.6 215.6 1013 213.8 1015.5 212.2 1018.1 210.6 1020.7 209.1 1023.3 207.7" fill="none" stroke="#b5cf7a" stroke-width="1.1"/>
<path d="M999.5 461l-6 4M999.5 461l6 4M999.5 459l-4 8M999.5 459l4 8" stroke="#6b4a35" stroke-width="1" fill="none"/>
<path d="M998.8 226L998.8 182.3" stroke="#9fc45a" stroke-width="2.2" fill="none"/>
<path d="M1001.1 194.5 1000.1 193 1001.3 189.3 1000.7 187.8 1002.4 184 1000.3 182.6 1002.7 178.8 1000.6 177.4 1001.8 173.6 1000.2 172.2 1002.1 168.4 999.9 166.9 1001.2 163.2 999.9 161.7 1001.4 158 999.4 156.5 1001 152.7 998.9 151.3 1000.5 147.6 998 146.1 996.6 144.2 994.3 145.2 995.3 148.9 992.5 150.5 994.5 154.1 993.2 155.7 995.2 159.3 992.8 160.9 995.3 164.5 992.9 166.1 995.2 169.8 992.9 171.4 995.8 174.9 994.1 176.5 995.8 180.2 994.1 181.7 996.1 185.4 995.3 186.9 996.8 190.6 995.6 192.1 997.6 195.8ZM997.7 205.7 996.3 205.5 993 202.6 991.3 204.4 987.9 202.3 986.1 203.9 982.8 201.8 981.1 203 977.5 202.4 976.3 204.5 978 206.1 979 209.6 983 207.6 984.1 210.1 988.1 208.4 989.1 211.3 993.1 209.2 994.4 210.3 998.3 209.2ZM998.5 200.1 996.9 200.1 994.4 196.6 992.3 197.6 989.9 193.8 987.6 195.2 985.4 191.1 983 192.7 980.3 189.8 978.1 190.8 975.6 187.4 973.1 189.2 970.7 189.6 970.6 191.8 973.9 193.5 974.5 195.9 978.5 196 978.9 198.9 983.4 197.9 983.6 201.2 988.1 200.2 988.5 202.9 992.7 202.7 993.9 203.7 998 203.8ZM999.1 189.1 997.6 188.5 996 184.6 994.1 184.6 992.7 180.5 990 181.3 988.4 177.4 985.9 178.1 984.2 174.4 981.9 174.8 980.5 170.7 977.5 171.9 975.1 171.6 974.4 173.9 977.2 176.2 976.7 179.2 980.9 180 980.8 182.4 985.1 183.1 985.1 185.3 989.1 186.5 989.3 188.5 992.9 189.9 993.7 191.4 997.5 192.6ZM999.8 175.7 998.1 175.1 997.5 171 995.8 170.4 995.1 166.3 992.7 166.2 991.4 162.6 989.2 162.4 989.2 157.8 986 158.3 985.3 154.3 983 154.2 980.8 151.1 978.5 151.8 978.8 154.1 977.2 157.1 981 158.9 980.7 160.9 984 163.1 983 165.8 986.9 167.4 986.8 169.3 990.5 171.2 989.8 173.6 993.8 175.2 993.5 177.3 997.4 178.9ZM1000.9 208.8 1001.7 207.9 1005.6 209.5 1005.9 207 1009.6 208.2 1009.9 206 1012.9 204.8 1013 202.1 1010.6 201.5 1008.9 199.5 1006.3 202 1004.6 200.2 1002.4 203.6 1000.9 202.3 998.7 205.8ZM1001.4 204.6 1002.1 202.8 1006.5 202.9 1007.2 201.1 1011.5 201.2 1011.6 198.1 1015.9 198.2 1016.3 195.8 1020.5 195.7 1021 193.3 1024.8 192.6 1025.5 190.6 1028.8 188.9 1028.4 186.4 1026 186.2 1023.5 184.8 1020.7 187.6 1018.4 186.4 1016.2 190.2 1014.2 189.9 1011.7 193 1009.7 192.4 1007.2 195.8 1005.1 195.1 1002.8 198.7 1001.1 198.7 998.5 201.7ZM1001.7 192.9 1002.4 191.2 1006.5 190.2 1007.1 188.4 1011.3 187.6 1011.2 184.9 1015.1 183.6 1015.4 181.5 1019.5 180.4 1019.8 178.3 1023.9 177.3 1023.4 174 1024.1 171.7 1021.9 170.3 1019.3 173.2 1016.4 172.1 1014.5 176 1011.9 175.3 1010.4 179.5 1007.9 178.9 1006.2 182.9 1004 182.8 1002 186.4 1000.2 186.7 998.4 190.6ZM1001.9 177.6 1001.8 175.8 1005.9 174 1005.3 171.8 1009.2 170 1008.2 167.5 1012 165.6 1011.2 163.2 1015.2 161.5 1014.7 159.3 1017.7 156.8 1016.9 154.5 1019.3 151.6 1018 149.7 1015.9 150.6 1012.7 150.3 1012.1 154.3 1009.2 154.2 1008.7 158.4 1006.1 158.4 1005.9 162.8 1003.3 162.8 1003.1 167.2 1000.8 167.4 1000.6 171.8 999 172.5 998.1 176.4ZM999.9 182.5 999.3 181.2 999.8 177.1 997.6 176.5 997.9 172.4 995.5 171.9 996.1 167.7 993.6 167.2 992 164 989.8 163.9 989.5 166.2 986.8 168.9 990.5 171.3 989.4 173.3 992.2 176 991 178 994.1 180.7 993.5 182.5 997.3 184.8ZM1002 184.3 1001.8 182.6 1005.8 180.2 1004.2 177.8 1007.5 175.1 1006.9 173.2 1010.3 170.5 1008.8 168.2 1010.5 164.8 1008.3 162.9 1006.5 164.3 1002.7 164.4 1003 168.6 1000.6 169.3 1001 173.5 999.1 174.4 999.3 178.6 997.3 179.4 998.2 183.9ZM999.1 196.3 997.6 195.3 996 191.1 993.5 191.3 991.6 187.4 989.2 187.4 986.1 184.9 983.9 186.1 984.7 188.3 983.9 191.8 988.2 192.9 988.5 195.3 992.4 196.9 993.1 198.9 997.7 199.6ZM1001.6 199.6 1002.3 198 1006.5 196.9 1006.7 194.7 1010.8 193.5 1010.5 190.8 1014.7 189.7 1013.7 186.3 1014.1 183.9 1011.9 183 1008.9 185.4 1006.5 185.2 1005.3 189.5 1003 189.5 1001.2 193.1 999.4 193.5 998.3 197.9Z" fill="#d3943f"/>
<path d="M998.8 195.5L996.7 146M998.3 207.9L978 204.8M998.3 202.7L972.3 190.3M998.3 191.4L976.5 172.8M998.3 178L979.6 153.2M999.3 206.8L1011.3 202.7M999.3 202.7L1026.8 187.2M999.3 191.4L1022.7 172.8M999.3 176.9L1017 151.2M998.3 184.2L990.5 165.6M999.3 184.2L1007.6 164.6M998.3 198.6L985.3 187.2M999.3 198.6L1012.8 185.2" fill="none" stroke="#b06f2c" stroke-width="2.6" stroke-dasharray="1.6 1.9" stroke-linecap="round" opacity=".9"/>
<path d="M998.8 214L998.8 188.2" stroke="#9fc45a" stroke-width="1.6" fill="none"/>
<path d="M1103.3 469C1088.7 471 1078.1 475.4 1067 485.1M1103.7 469C1094.2 471 1085 481.2 1080.8 497.8M1104 469C1098.5 471 1092.1 485.1 1091 506.7M1104.6 469C1105.3 471 1103.9 491.3 1106.3 520.3M1104.9 469C1109.7 471 1113.3 485.6 1115.9 507.7M1105.3 469C1114.3 471 1123.5 483.8 1125.4 503.7M1105.7 469C1120.3 471 1131.2 475.9 1137.6 486.1" fill="none" stroke="#5c4733" stroke-width="1.7" stroke-linecap="round"/>
<path d="M1086.6 473Q1082.1 475 1076.6 478.4M1080.7 475.7Q1074.7 476.8 1070.5 479.4M1076.1 478.3Q1069.3 479.3 1064.7 481.8M1092.8 475.2Q1085.5 476.7 1078.3 479.8M1086.9 482.7Q1078.5 486.6 1073.1 492.1M1083.8 488.9Q1078.7 491.6 1075.8 495.8M1096.6 478.6Q1091 482.3 1085.4 487.4M1094.2 485.6Q1097.7 492.9 1100.2 501.8M1092.1 495.7Q1084.8 500.8 1080.8 507.4M1104.8 484.7Q1098.8 490.7 1094.1 498.2M1104.8 488.1Q1108.5 493.5 1111.9 500.3M1105.2 502.1Q1103.1 507 1099.9 513.3M1110.8 479.3Q1108.1 486.3 1106.6 494.8M1112.2 484.9Q1118.9 489.5 1122.4 495.6M1114.5 497.2Q1111.9 505.2 1108.4 514.7M1117.2 478.4Q1122.9 480 1127.1 483M1119.4 482Q1128.1 483.9 1133.8 487.4M1123.8 494.2Q1128.6 496.6 1131.9 500.5M1123.7 473.9Q1128.4 475.4 1132.3 478.4M1127.2 475.8Q1133.7 477.6 1139.8 480.8M1132.2 479.6Q1140.4 480.9 1147.4 483.7" fill="none" stroke="#5c4733" stroke-width="1.2" stroke-linecap="round"/>
<path d="M1102.4 468.5L1103.3 208L1105.7 208L1106.6 468.5Z" fill="#8c9645"/>
<path d="M1101 456.5L1103 214L1106 214L1108 456.5Z" fill="#7d8a3e"/>
<rect x="1103" y="450" width="3" height="4.6" rx="1" fill="#c2cd8a"/>
<rect x="1103" y="422" width="3" height="4.6" rx="1" fill="#c2cd8a"/>
<rect x="1103" y="398" width="3" height="4.6" rx="1" fill="#c2cd8a"/>
<rect x="1103" y="379" width="3" height="4.6" rx="1" fill="#c2cd8a"/>
<rect x="1103" y="357" width="3" height="4.6" rx="1" fill="#c2cd8a"/>
<rect x="1103" y="336" width="3" height="4.6" rx="1" fill="#c2cd8a"/>
<rect x="1103" y="316" width="3" height="4.6" rx="1" fill="#c2cd8a"/>
<rect x="1103" y="303" width="3" height="4.6" rx="1" fill="#c2cd8a"/>
<rect x="1103" y="287" width="3" height="4.6" rx="1" fill="#c2cd8a"/>
<rect x="1103" y="277" width="3" height="4.6" rx="1" fill="#c2cd8a"/>
<rect x="1103" y="260" width="3" height="4.6" rx="1" fill="#c2cd8a"/>
<rect x="1103" y="241" width="3" height="4.6" rx="1" fill="#c2cd8a"/>
<path d="M1105.1 422.3 1103.5 416.4 1100.5 411.7 1097.5 407 1094.7 402.3 1091.9 398 1089 394.2 1084.7 391.1 1077.7 391.1 1073 392.2 1067.6 394.8 1063.7 398.6 1061.2 403 1060 407.6 1059.7 412.5 1059.7 412.5 1062.3 408.6 1065.2 405.8 1068.3 404.1 1071.4 403.4 1074.9 403.4 1080.9 403.9 1078.2 404.5 1078.6 405 1080.9 407 1084 410.2 1087.4 414.3 1091.3 418.7 1095.6 423.1 1101.9 425.7 Z" fill="#7d8a3e"/>
<path d="M1103.5 424 1099.6 419.8 1095.9 415.2 1092.5 410.6 1089.3 406.3 1086.4 402.5 1083.8 399.6 1081.4 397.8 1079.3 397.5 1073.9 397.8 1069.5 399.1 1066 401.3 1063.2 404.4 1061.2 408.1 1059.7 412.5 1059.7 412.5 1062.3 408.6 1065.2 405.8 1068.3 404.1 1071.4 403.4 1074.9 403.4 1080.9 403.9 1078.2 404.5 1078.6 405 1080.9 407 1084 410.2 1087.4 414.3 1091.3 418.7 1095.6 423.1 1101.9 425.7 Z" fill="#69773a" opacity=".55"/>
<path d="M1077.7 391.1 1073 392.2 1067.6 394.8 1063.7 398.6 1061.2 403 1060 407.6 1059.7 412.5 1059.7 412.5 1062.3 408.6 1065.2 405.8 1068.3 404.1 1071.4 403.4 1074.9 403.4 1080.9 403.9 Z" fill="#69773a" opacity=".8"/>
<path d="M1095.9 415.2 1092.5 410.6 1089.3 406.3 1086.4 402.5 1083.8 399.6 1081.4 397.8 1079.3 397.5 1073.9 397.8 1069.5 399.1 1066 401.3" fill="none" stroke="#c2cd8a" stroke-width="1.1"/>
<path d="M1102.7 400.7 1108.5 398.9 1112.8 395.7 1116.9 392.7 1120.6 390.2 1123.9 388.6 1126.4 387.9 1128 387.7 1131.7 387.6 1135.3 388.1 1139.2 389.1 1143.3 390.3 1147.7 391.3 1152.2 391.5 1156.5 390.5 1156.5 390.5 1152.7 389 1149.6 386.9 1146.6 384.3 1143.3 381.4 1139.4 378.5 1134.4 376.2 1128.6 375 1122.9 375.7 1118.1 378.2 1114.1 381.4 1110.3 385 1106.7 388.7 1103 392.4 1100.3 397.3 Z" fill="#7d8a3e"/>
<path d="M1101.5 399 1105.7 395.7 1109.8 392.2 1113.6 388.8 1117.4 385.8 1121 383.4 1124.6 381.8 1128.3 381.3 1133.1 381.9 1137.3 383.3 1141.3 385.2 1145 387.3 1148.7 389.1 1152.5 390.3 1156.5 390.5 1156.5 390.5 1152.2 391.5 1147.7 391.3 1143.3 390.3 1139.2 389.1 1135.3 388.1 1131.7 387.6 1128 387.7 1126.4 387.9 1123.9 388.6 1120.6 390.2 1116.9 392.7 1112.8 395.7 1108.5 398.9 1102.7 400.7 Z" fill="#69773a" opacity=".55"/>
<path d="M1109.8 392.2 1113.6 388.8 1117.4 385.8 1121 383.4 1124.6 381.8 1128.3 381.3 1133.1 381.9 1137.3 383.3 1141.3 385.2 1145 387.3" fill="none" stroke="#c2cd8a" stroke-width="1.1"/>
<path d="M1105.1 380.6 1103.5 375.4 1100.8 370.8 1098.1 366.2 1095.4 361.6 1092.6 357.3 1089.7 353.3 1086.2 350 1081.8 347.8 1076.4 347.6 1070.6 349 1065.7 351.2 1061.7 353.6 1057.9 355.7 1053.5 357.4 1053.5 357.4 1058.3 358.5 1063.2 358.6 1067.8 358.3 1072.2 358.2 1077.2 358.6 1077.5 359.4 1078.7 360.3 1080.8 362 1083.6 364.5 1086.7 367.9 1089.9 371.8 1093.3 376 1096.9 380.2 1101.9 383.4 Z" fill="#7d8a3e"/>
<path d="M1103.5 382 1100.2 377.8 1097 373.4 1094 369 1091 364.8 1088.1 360.9 1085.3 357.7 1082.4 355.1 1079.6 353.6 1076.8 353.1 1071.4 353.6 1066.7 354.7 1062.4 356.1 1058.1 357.1 1053.5 357.4 1053.5 357.4 1058.3 358.5 1063.2 358.6 1067.8 358.3 1072.2 358.2 1077.2 358.6 1077.5 359.4 1078.7 360.3 1080.8 362 1083.6 364.5 1086.7 367.9 1089.9 371.8 1093.3 376 1096.9 380.2 1101.9 383.4 Z" fill="#69773a" opacity=".55"/>
<path d="M1097 373.4 1094 369 1091 364.8 1088.1 360.9 1085.3 357.7 1082.4 355.1 1079.6 353.6 1076.8 353.1 1071.4 353.6 1066.7 354.7" fill="none" stroke="#c2cd8a" stroke-width="1.1"/>
<path d="M1105.8 361.7 1111.2 359.7 1115.5 356.5 1119.4 353.3 1123 350.5 1126.4 348.3 1129.3 346.9 1131.5 346.2 1132.9 345.7 1136.5 345.6 1140.3 346.5 1144.7 348.2 1149.3 350 1154.2 350.9 1158.9 350 1158.9 350 1155 348.3 1151.9 345.6 1148.8 342.2 1145 338.6 1139.9 335.3 1133.5 333.5 1128.1 333.9 1123.4 335.9 1119.5 339 1116 342.4 1112.5 346.1 1109.1 349.8 1105.8 353.6 1103.2 358.3 Z" fill="#7d8a3e"/>
<path d="M1104.5 360 1108.5 356.7 1112.3 353.1 1116 349.7 1119.5 346.4 1123 343.6 1126.4 341.4 1129.8 340 1133.2 339.6 1138.2 340.5 1142.7 342.5 1146.7 345.2 1150.6 347.8 1154.6 349.6 1158.9 350 1158.9 350 1154.2 350.9 1149.3 350 1144.7 348.2 1140.3 346.5 1136.5 345.6 1132.9 345.7 1131.5 346.2 1129.3 346.9 1126.4 348.3 1123 350.5 1119.4 353.3 1115.5 356.5 1111.2 359.7 1105.8 361.7 Z" fill="#69773a" opacity=".55"/>
<path d="M1112.3 353.1 1116 349.7 1119.5 346.4 1123 343.6 1126.4 341.4 1129.8 340 1133.2 339.6 1138.2 340.5 1142.7 342.5 1146.7 345.2" fill="none" stroke="#c2cd8a" stroke-width="1.1"/>
<path d="M1103.8 336.5 1102 332.2 1099.4 328.8 1096.7 325.5 1093.9 322.2 1091.1 319.2 1087.8 316.4 1083.8 314.4 1079 313.8 1073.2 315.4 1068.6 318.1 1065.1 321.1 1062.3 324 1059.5 326.4 1055.9 328 1055.9 328 1060.1 329 1064.6 328.5 1068.8 327.3 1072.7 326.2 1076.2 325.6 1079.6 325.8 1080.3 326 1081.8 326.5 1084.1 327.7 1086.8 329.6 1089.8 332.1 1093 334.9 1096.6 337.8 1101.2 339.5 Z" fill="#7d8a3e"/>
<path d="M1102.5 338 1099.3 335 1096.2 331.9 1093.2 328.8 1090.4 325.9 1087.6 323.4 1084.8 321.5 1082.1 320.2 1079.3 319.8 1074.7 320.5 1070.7 322.1 1067 324.2 1063.4 326.2 1059.8 327.7 1055.9 328 1055.9 328 1060.1 329 1064.6 328.5 1068.8 327.3 1072.7 326.2 1076.2 325.6 1079.6 325.8 1080.3 326 1081.8 326.5 1084.1 327.7 1086.8 329.6 1089.8 332.1 1093 334.9 1096.6 337.8 1101.2 339.5 Z" fill="#69773a" opacity=".55"/>
<path d="M1096.2 331.9 1093.2 328.8 1090.4 325.9 1087.6 323.4 1084.8 321.5 1082.1 320.2 1079.3 319.8 1074.7 320.5 1070.7 322.1 1067 324.2" fill="none" stroke="#c2cd8a" stroke-width="1.1"/>
<path d="M1107 320.3 1112.4 317.4 1115.9 313.1 1118.9 308.8 1121.6 305.1 1123.7 302.7 1124.5 302.3 1120.6 302.8 1128.2 302.5 1132.8 302.2 1136.6 302.2 1139.9 302.5 1142.8 303.2 1145.4 304.3 1147.9 306 1147.9 306 1147.2 302.9 1145.6 299.7 1143 296.7 1139.3 294.1 1134.6 292 1128.9 290.6 1124.4 290.1 1117 291.5 1113.9 295 1111.7 298.9 1109.5 303.2 1107.2 307.7 1104.9 312.3 1104 317.7 Z" fill="#7d8a3e"/>
<path d="M1105.5 319 1108.7 314.9 1111.6 310.4 1114.2 306 1116.6 302 1118.8 298.9 1120.8 296.9 1122.5 296.5 1128.5 296.5 1133.7 297.1 1137.9 298.1 1141.4 299.6 1144.2 301.4 1146.3 303.6 1147.9 306 1147.9 306 1145.4 304.3 1142.8 303.2 1139.9 302.5 1136.6 302.2 1132.8 302.2 1128.2 302.5 1120.6 302.8 1124.5 302.3 1123.7 302.7 1121.6 305.1 1118.9 308.8 1115.9 313.1 1112.4 317.4 1107 320.3 Z" fill="#69773a" opacity=".55"/>
<path d="M1120.6 302.8 1128.2 302.5 1132.8 302.2 1136.6 302.2 1139.9 302.5 1142.8 303.2 1145.4 304.3 1147.9 306 1147.9 306 1147.2 302.9 1145.6 299.7 1143 296.7 1139.3 294.1 1134.6 292 1128.9 290.6 1124.4 290.1 Z" fill="#69773a" opacity=".8"/>
<path d="M1111.6 310.4 1114.2 306 1116.6 302 1118.8 298.9 1120.8 296.9 1122.5 296.5 1128.5 296.5 1133.7 297.1 1137.9 298.1 1141.4 299.6" fill="none" stroke="#c2cd8a" stroke-width="1.1"/>
<path d="M1104.8 304.6 1102.7 299.6 1099.6 295.6 1096.5 291.4 1093.5 287.4 1090.3 283.7 1086.7 280.4 1082.3 278.2 1077 277.9 1071.5 279.6 1067.2 282.5 1064 285.7 1061.4 288.6 1058.8 290.9 1055.5 292.4 1055.5 292.4 1059.5 293.1 1063.6 292.3 1067.6 290.7 1071.3 289.2 1074.6 288.4 1077.6 288.6 1078.6 289.2 1080.3 290.1 1083 291.8 1086.1 294.3 1089.5 297.5 1093.2 301.2 1097 304.9 1102.2 307.4 Z" fill="#7d8a3e"/>
<path d="M1103.5 306 1099.9 302.3 1096.4 298.4 1093 294.5 1089.8 290.9 1086.6 287.7 1083.5 285.3 1080.4 283.7 1077.3 283.3 1073 284 1069.3 285.8 1065.8 288.2 1062.5 290.4 1059.1 292 1055.5 292.4 1055.5 292.4 1059.5 293.1 1063.6 292.3 1067.6 290.7 1071.3 289.2 1074.6 288.4 1077.6 288.6 1078.6 289.2 1080.3 290.1 1083 291.8 1086.1 294.3 1089.5 297.5 1093.2 301.2 1097 304.9 1102.2 307.4 Z" fill="#69773a" opacity=".55"/>
<path d="M1096.4 298.4 1093 294.5 1089.8 290.9 1086.6 287.7 1083.5 285.3 1080.4 283.7 1077.3 283.3 1073 284 1069.3 285.8 1065.8 288.2" fill="none" stroke="#c2cd8a" stroke-width="1.1"/>
<path d="M1107.2 290.7 1110.1 288.9 1112 286.7 1114 284.7 1116.3 282.8 1118.7 281 1121.3 279.4 1123.9 277.7 1126.4 275.8 1128.8 273.6 1131.2 271.4 1133.7 269.1 1136.1 266.8 1138.4 264.4 1140.5 262 1140.5 262 1137.3 262.3 1134 262.8 1130.7 263.5 1127.3 264.3 1124 265.4 1120.6 266.7 1117.5 268.5 1114.7 270.8 1112.1 273.3 1109.6 276.1 1107.4 279 1105.4 282 1103.8 285.3 1103.8 289.3 Z" fill="#7d8a3e"/>
<path d="M1105.5 290 1106.9 287.1 1108.7 284.4 1110.7 281.8 1112.9 279.4 1115.4 277.2 1118 275.1 1120.7 273.1 1123.5 271.3 1126.4 269.5 1129.3 267.9 1132.2 266.3 1135 264.8 1137.8 263.4 1140.5 262 1140.5 262 1138.4 264.4 1136.1 266.8 1133.7 269.1 1131.2 271.4 1128.8 273.6 1126.4 275.8 1123.9 277.7 1121.3 279.4 1118.7 281 1116.3 282.8 1114 284.7 1112 286.7 1110.1 288.9 1107.2 290.7 Z" fill="#69773a" opacity=".55"/>
<path d="M1108.7 284.4 1110.7 281.8 1112.9 279.4 1115.4 277.2 1118 275.1 1120.7 273.1 1123.5 271.3 1126.4 269.5 1129.3 267.9 1132.2 266.3" fill="none" stroke="#c2cd8a" stroke-width="1.1"/>
<path d="M1104.2 279.9 1104.1 274.6 1102.4 269.9 1100.7 265.1 1099 260.5 1097.5 256.3 1095.9 252.5 1092.9 249.2 1085.3 248.6 1081.7 249.1 1076.7 250.8 1072.8 253.1 1070.1 256.1 1068.5 259.2 1067.9 262.3 1067.9 262.3 1070.2 260.5 1072.8 259.4 1075.5 258.9 1078.7 258.7 1082.5 259 1089.7 259.3 1084.7 259.4 1084.7 259.6 1086.3 261.8 1088.4 265.3 1090.7 269.5 1093.2 274.2 1096 278.8 1100.8 282.1 Z" fill="#7d8a3e"/>
<path d="M1102.5 281 1100.1 276.7 1097.8 272 1095.7 267.3 1093.7 262.9 1091.9 259.1 1090.3 256.1 1088.8 254.3 1087.5 254 1082.1 254 1077.7 254.8 1074.2 256 1071.4 257.7 1069.4 259.9 1067.9 262.3 1067.9 262.3 1070.2 260.5 1072.8 259.4 1075.5 258.9 1078.7 258.7 1082.5 259 1089.7 259.3 1084.7 259.4 1084.7 259.6 1086.3 261.8 1088.4 265.3 1090.7 269.5 1093.2 274.2 1096 278.8 1100.8 282.1 Z" fill="#69773a" opacity=".55"/>
<path d="M1085.3 248.6 1081.7 249.1 1076.7 250.8 1072.8 253.1 1070.1 256.1 1068.5 259.2 1067.9 262.3 1067.9 262.3 1070.2 260.5 1072.8 259.4 1075.5 258.9 1078.7 258.7 1082.5 259 1089.7 259.3 Z" fill="#69773a" opacity=".8"/>
<path d="M1097.8 272 1095.7 267.3 1093.7 262.9 1091.9 259.1 1090.3 256.1 1088.8 254.3 1087.5 254 1082.1 254 1077.7 254.8 1074.2 256" fill="none" stroke="#c2cd8a" stroke-width="1.1"/>
<path d="M1107.1 263.6 1109.7 261.8 1111.4 259.8 1113.1 257.8 1115.1 256 1117.2 254.3 1119.5 252.8 1121.8 251.1 1124 249.2 1126.1 247.1 1128.2 244.9 1130.3 242.7 1132.3 240.5 1134.3 238.2 1136.1 235.8 1136.1 235.8 1133.2 236.2 1130.2 236.8 1127.2 237.5 1124.1 238.4 1121.1 239.5 1118.1 240.9 1115.3 242.7 1112.8 244.8 1110.6 247.3 1108.5 250 1106.6 252.7 1104.9 255.6 1103.6 258.7 1103.9 262.4 Z" fill="#7d8a3e"/>
<path d="M1105.5 263 1106.7 260.3 1108.1 257.7 1109.9 255.3 1111.8 253 1113.9 250.8 1116.2 248.8 1118.6 246.9 1121 245 1123.6 243.3 1126.1 241.7 1128.7 240.1 1131.3 238.6 1133.7 237.2 1136.1 235.8 1136.1 235.8 1134.3 238.2 1132.3 240.5 1130.3 242.7 1128.2 244.9 1126.1 247.1 1124 249.2 1121.8 251.1 1119.5 252.8 1117.2 254.3 1115.1 256 1113.1 257.8 1111.4 259.8 1109.7 261.8 1107.1 263.6 Z" fill="#69773a" opacity=".55"/>
<path d="M1108.1 257.7 1109.9 255.3 1111.8 253 1113.9 250.8 1116.2 248.8 1118.6 246.9 1121 245 1123.6 243.3 1126.1 241.7 1128.7 240.1" fill="none" stroke="#c2cd8a" stroke-width="1.1"/>
<path d="M1105.1 242.4 1105.3 239 1104.1 236 1102.5 233.3 1100.7 230.7 1098.7 228.2 1096.6 225.8 1094.2 223.8 1091.6 222.1 1088.7 220.8 1085.8 219.8 1083 218.9 1080.1 218.2 1077.3 217.7 1074.5 217.3 1074.5 217.3 1076.2 219.5 1078.1 221.7 1080 223.8 1082 225.9 1084 228 1086 230 1088.1 231.8 1090.2 233.3 1092.4 234.8 1094.4 236.4 1096.2 238.1 1097.9 240 1099.5 241.9 1101.9 243.6 Z" fill="#7d8a3e"/>
<path d="M1103.5 243 1102.4 240.4 1101 238 1099.4 235.7 1097.5 233.5 1095.5 231.5 1093.4 229.6 1091.1 227.8 1088.8 226 1086.4 224.4 1083.9 222.8 1081.5 221.4 1079.1 220 1076.7 218.6 1074.5 217.3 1074.5 217.3 1076.2 219.5 1078.1 221.7 1080 223.8 1082 225.9 1084 228 1086 230 1088.1 231.8 1090.2 233.3 1092.4 234.8 1094.4 236.4 1096.2 238.1 1097.9 240 1099.5 241.9 1101.9 243.6 Z" fill="#69773a" opacity=".55"/>
<path d="M1101 238 1099.4 235.7 1097.5 233.5 1095.5 231.5 1093.4 229.6 1091.1 227.8 1088.8 226 1086.4 224.4 1083.9 222.8 1081.5 221.4" fill="none" stroke="#c2cd8a" stroke-width="1.1"/>
<path d="M1106 229.7 1108.6 228 1110.3 226.1 1112.1 224.2 1114.1 222.5 1116.3 221 1118.6 219.5 1120.9 218 1123.1 216.2 1125.3 214.3 1127.5 212.3 1129.6 210.2 1131.8 208.1 1133.8 206 1135.7 203.8 1135.7 203.8 1132.8 204.1 1129.9 204.5 1126.9 205.1 1123.9 205.9 1120.9 206.9 1117.9 208.1 1115.1 209.7 1112.6 211.7 1110.3 214 1108.1 216.5 1106.1 219.1 1104.4 221.8 1102.9 224.8 1103 228.3 Z" fill="#7d8a3e"/>
<path d="M1104.5 229 1105.8 226.4 1107.3 224 1109.1 221.7 1111.1 219.5 1113.3 217.5 1115.6 215.6 1118 213.8 1120.5 212.2 1123.1 210.6 1125.7 209.1 1128.3 207.7 1130.8 206.3 1133.3 205 1135.7 203.8 1135.7 203.8 1133.8 206 1131.8 208.1 1129.6 210.2 1127.5 212.3 1125.3 214.3 1123.1 216.2 1120.9 218 1118.6 219.5 1116.3 221 1114.1 222.5 1112.1 224.2 1110.3 226.1 1108.6 228 1106 229.7 Z" fill="#69773a" opacity=".55"/>
<path d="M1107.3 224 1109.1 221.7 1111.1 219.5 1113.3 217.5 1115.6 215.6 1118 213.8 1120.5 212.2 1123.1 210.6 1125.7 209.1 1128.3 207.7" fill="none" stroke="#c2cd8a" stroke-width="1.1"/>
<path d="M1104.5 461l-6 4M1104.5 461l6 4M1104.5 459l-4 8M1104.5 459l4 8" stroke="#6b4a35" stroke-width="1" fill="none"/>
<path d="M1104 226L1104 186.3" stroke="#98a850" stroke-width="2.2" fill="none"/>
<path d="M1106.4 196.7 1105.5 195.4 1107.3 191.7 1105.8 190.3 1107.7 186.6 1105.6 185.3 1108.2 181.5 1105.8 180.2 1107.2 176.5 1105.5 175.2 1107.4 171.5 1104.9 170.2 1107.5 166.5 1105 165.1 1106 161.5 1104.8 160.1 1105.4 156.5 1103.3 155.1 1102 153.2 1099.6 154.2 1100.1 157.8 1098.4 159.3 1100.3 162.8 1098.8 164.3 1100 167.9 1098.1 169.4 1100.4 172.9 1098.7 174.4 1100.9 177.9 1098.7 179.4 1101.3 183 1098.5 184.5 1101.4 188 1100.3 189.5 1101.8 193 1101.3 194.5 1102.7 198ZM1102.9 206 1101.3 206.1 1097.8 203.7 1096 205 1092.5 202.5 1090.7 204.1 1087.2 201.4 1085.2 204.5 1083 205.5 1083.6 207.9 1087.3 208.2 1088.6 210.7 1092.6 209.5 1094.1 210.8 1098 209.9 1099.4 211.7 1103.5 209.6ZM1103.7 201.4 1102 201.3 1099.3 198.3 1097.6 198.4 1094.8 195.5 1092.6 196.7 1089.8 193.7 1087.8 194.5 1085.3 191 1083 192.3 1079.6 190.9 1077.8 192.6 1079.1 194.5 1079.5 197.6 1083.4 197.9 1084.3 199.7 1088.4 199.6 1088.9 202.3 1093.2 201.8 1093.8 204.3 1097.9 204.1 1099.2 205.1 1103.2 205.1ZM1104 192.1 1102.7 191.4 1100.9 187.7 1099.1 187.6 1097.7 183.5 1094.9 184.6 1093.7 180.2 1091.1 181.2 1089.3 177.4 1086.8 178.2 1084.1 175.7 1081.9 177 1082.7 179.3 1082.3 182.2 1086.1 183.3 1086.3 185.3 1090.1 186.6 1090 189 1094 189.8 1094.2 192.1 1098.3 192.8 1098.9 194.3 1102.8 195.4ZM1104.8 180.4 1103.2 179.6 1102.4 175.2 1100 175.1 1098.9 171 1096.6 170.8 1096.4 166 1093.3 166.3 1092.4 162.1 1089.9 162.1 1087.6 159 1085.1 159.8 1085.3 162.2 1084 165.4 1088 167.1 1087.6 169.6 1091.4 171.4 1091 173.9 1095.1 175.5 1094.4 178.2 1098.7 179.7 1098.4 182 1102.7 183.5ZM1106.1 209.6 1106.7 208.7 1110.4 210.3 1110.6 208.2 1114.2 209.4 1114.3 207.1 1117.1 205.9 1117.3 203.4 1114.9 202.7 1113.1 199.7 1110.9 203 1109.5 201.3 1107.2 204 1106.2 203.5 1103.9 206.2ZM1106.5 205.8 1107.3 204.2 1111.8 204.7 1112.5 202.8 1116.7 202.7 1117 200.2 1121 199.7 1121.5 197.4 1125.6 197.3 1126.4 195.6 1130.2 194.8 1130.4 191.9 1131.6 189.8 1129.7 188.1 1126.4 189.9 1123.9 188.4 1121.9 192.5 1119.7 191.6 1117.2 194.8 1114.6 193.2 1112.6 197.4 1110.4 196.4 1107.9 199.6 1106 199.3 1103.6 202.8ZM1106.6 195.5 1107.5 194.1 1111.8 193.5 1112.3 191.5 1116.5 190.8 1116.7 188.4 1120.4 187 1120.7 184.8 1124.9 184 1125.2 181.7 1128.2 179.4 1127.6 177.1 1125.1 177.2 1122.3 176 1120.2 179.6 1118.1 179.4 1115.9 182.8 1113.4 182 1111.4 185.8 1109.4 185.7 1107.3 189.3 1105.6 189.7 1103.5 193.2ZM1106.9 182.4 1107.1 180.8 1110.9 179.1 1110.7 177.2 1114.4 175.4 1113.8 173.2 1117.7 171.6 1116.8 169.2 1120.9 167.7 1119.4 164.9 1123.3 163.2 1121.7 160.3 1121.9 158 1119.6 157.4 1117.8 160.6 1114.6 160 1114.2 164.2 1111.5 163.9 1111.4 168.4 1108.8 168.2 1108.4 172.4 1106.1 172.4 1105.6 176.5 1104.1 177.2 1103.3 181.1ZM1105.4 186.1 1104.2 185.1 1104.6 181 1102.8 180.2 1102.6 176.4 1100.9 175.6 1100.9 171.6 1097.7 171.5 1095.6 170.3 1093.5 172.2 1095.3 175.3 1094.4 177.3 1097.2 180 1095.6 182.3 1099.6 184.4 1099.2 186.1 1102.4 188.7ZM1106.7 188 1107.4 186.6 1111 184.1 1110 181.9 1113 179.1 1112.2 177.1 1115.4 174.4 1113.2 171.7 1112.9 169.4 1110.3 169.2 1108.7 172.6 1107 173.5 1106.9 177.6 1103.7 177.9 1104.3 182.2 1102.7 183.3 1103.3 187.6ZM1104.2 198.2 1103 197.3 1101.9 192.8 1099.3 193.6 1097.4 190.1 1095.2 190.5 1092.1 188.4 1090.1 189.5 1090.7 191.9 1090.2 194.9 1094.2 195.8 1094.1 198.3 1098.4 198.9 1098.2 201.4 1102.9 201.5ZM1106.9 201.7 1107.9 200.2 1112 198.8 1112.4 196.7 1116.5 195.3 1116.2 192.5 1119.1 189.8 1118.3 187.6 1115.8 187.9 1112.7 187.1 1111.1 191.1 1108.6 191 1106.7 194.8 1104.4 194.8 1103.4 199.6Z" fill="#8b5a62"/>
<path d="M1104 197.8L1102.1 155M1103.5 208.4L1084.8 205.8M1103.5 204L1079.5 193.3M1103.5 194.2L1083.3 178.2M1103.5 182.6L1086.2 161.2M1104.5 207.5L1115.5 204M1104.5 204L1130 190.6M1104.5 194.2L1126.1 178.2M1104.5 181.7L1120.8 159.5M1103.5 188L1096.3 171.9M1104.5 188L1112.2 171M1103.5 200.4L1091.5 190.6M1104.5 200.4L1117 188.8" fill="none" stroke="#6b3848" stroke-width="2.6" stroke-dasharray="1.6 1.9" stroke-linecap="round" opacity=".9"/>
<path d="M1104 214L1104 191.5" stroke="#98a850" stroke-width="1.6" fill="none"/>
<path d="M782.3 352C782.5 342 789 330 799.2 324.3C800.4 333 794 345 785.5 352.5Z" fill="#84c44c"/>
<path d="M784 349L797.5 327.5M786.5 348L798.5 331" stroke="#b9de80" stroke-width=".8" fill="none"/>
<path d="M799 324.5c1.5 -4 4 -6.5 8 -6.8M800 324c3 -2 6 -2.5 9.5 -1.5M799.5 323c1 -5 5 -7.500 9.500 -6c2.500 1.500 1.500 4.500 -1.500 4.500M801 322.500c3 -3.500 6.500 -3.500 8 -0.500M802 319c2 -2.500 5.500 -3 7.500 -1" stroke="#e9e6a4" stroke-width="1.5" fill="none" stroke-linecap="round"/>
<path d="M889.2 354.5C885.6 341 892 326 902.6 317.5C906.4 328 903.4 343 895.6 353.5Z" fill="#82ab42"/>
<path d="M890.5 350C890.5 339 895.5 327 902 320M893.5 351C895 341 899 331 902.8 323" stroke="#a9c866" stroke-width=".9" fill="none"/>
<path d="M896 353C900 345 903.500 334 903 322" stroke="#5f8f38" stroke-width=".9" fill="none"/>
<path d="M1001.3 357.5C997.500 342 1005 324 1018.500 313C1024.500 326 1019.500 345 1008.500 357Z" fill="#4f9a3b"/>
<path d="M1008 334C1010 324 1016 316 1024 311.500C1023 320 1019 328 1013 335ZM1013 338C1017 330 1022 325 1028.500 322C1027 330 1022.500 337 1016 342Z" fill="#5faa40"/>
<path d="M1003 353C1003 341 1008.500 327 1017.500 317M1006.500 354C1009 343 1014 332 1019 323" stroke="#8cc55a" stroke-width=".9" fill="none"/>
<path d="M1106 355C1103.500 342 1106.500 329 1112.500 321.500C1110 318 1107.500 317 1106 317.500C1110 314.500 1114 317 1115.500 322C1118 331 1115.500 345 1111 355Z" fill="#879241"/>
<path d="M1111.500 354C1111.500 340 1121 326.500 1134.800 320.400C1137.800 331 1131.500 346 1120 354.500Z" fill="#f7c930"/>
<path d="M1114 350L1132.500 323.500M1116.500 352L1135 327.500M1119.500 353L1135.800 332.500M1112.800 346L1128.500 324.500" stroke="#e3a91e" stroke-width=".9" fill="none" stroke-dasharray="1.300 1.100"/>
<path d="M1119 355C1128 350 1136.500 339 1141.500 327.500C1143 338 1136 351 1125 358Z" fill="#7d8a3e"/>
</g>
<path d="M308.9 495V531.7H320.5" stroke="#fff" stroke-width="1.3" fill="none"/>
<circle cx="308.9" cy="494.9" r="3.9" fill="#fff"/>
<g id="curves">
<path d="M320 494.7C323.3 492.7 333.6 486.3 340 482.7C346.4 479.1 352.9 475.8 358.7 473.3C364.5 470.9 370.3 469.8 374.7 468C379.1 466.2 381.9 465.2 385.3 462.7C388.7 460.2 392.5 456.4 395 453C397.5 449.6 398.4 448.1 400.5 442C402.6 435.9 405.2 425.3 407.6 416.2C410.1 407.1 413 396.1 415.2 387.6C417.4 379.1 419.5 371.3 421 365C422.5 358.7 422.7 356.3 424.3 350C425.9 343.7 428.1 335.5 430.4 327.2C432.7 318.9 435.5 309.2 438.2 300C440.9 290.8 444.2 278.8 446.5 272C448.8 265.2 449.1 266.7 451.8 259C454.6 251.3 459.1 236.5 463 225.6C466.9 214.7 471.3 204 475.4 193.7C479.5 183.4 483.7 172.8 487.8 163.6C491.9 154.4 496.7 145.5 500.2 138.8C503.7 132.1 505.3 129.6 509 123.6C512.7 117.6 518.2 107.3 522.5 103C526.8 98.7 529.8 97.2 534.8 97.7C539.8 98.2 546.8 101.1 552.5 105.9C558.2 110.7 562.9 117 568.8 126.3C574.7 135.6 582 149 587.9 161.7C593.8 174.4 599.2 189.3 604.2 202.5C609.2 215.7 614.3 229.7 617.8 240.6C621.3 251.5 622.9 258.5 625 268C627.1 277.5 628 285.7 630.6 297.4C633.2 309.1 637.4 325.7 640.8 338.2C644.2 350.7 647 360.8 651 372.2C655 383.6 660.1 397.5 664.6 406.3C669.1 415.1 672 420.8 678.2 425C684.4 429.2 692.4 430.4 702 431.8C711.6 433.2 723.5 432.9 736 433.5C748.5 434.1 763.3 434.1 776.9 435.2C790.5 436.3 804.1 438.6 817.7 440.3C831.3 442 844.9 443.6 858.5 445.4C872.1 447.2 886.7 449.4 899.3 451C911.9 452.6 916.9 454 934 455C951.1 456 979.3 456.6 1002 457C1024.7 457.4 1046.3 457.6 1070 457.7C1093.7 457.8 1131.8 457.9 1144.2 457.9" fill="none" stroke="#9b887c" stroke-width="4" stroke-linecap="butt" stroke-linejoin="round"/>
<path d="M320.4 495.3C322.1 495.3 324.3 496.1 330.7 495.3C337.1 494.5 350.5 493 358.7 490.7C366.9 488.4 373.1 484.5 380 481.3C386.9 478.1 393.5 474.3 400 471.4C406.5 468.5 412.6 466 419 463.8C425.4 461.6 432.4 460.3 438.1 458.1C443.8 455.9 448.5 453.7 453.3 450.5C458.1 447.3 462.2 443.8 466.7 439C471.1 434.2 476.2 427.6 480 421.9C483.8 416.2 486.4 410.8 489.5 404.8C492.6 398.8 496.1 391.9 498.5 385.7C500.9 379.5 502.1 373.4 503.8 367.5C505.5 361.6 507 356.2 508.8 350C510.6 343.8 512.8 336.1 514.6 330C516.4 323.9 518.1 318.3 519.8 313.4C521.5 308.5 523 304.5 524.6 300.5C526.2 296.5 527.4 293.4 529.5 289.4C531.6 285.3 534 280.4 537.1 276.2C540.2 271.9 544.4 267.5 548 263.9C551.6 260.3 555.5 257.3 558.9 254.4C562.3 251.5 565.2 249.7 568.4 246.3C571.6 242.9 574.8 238.6 578 234C581.2 229.4 584.3 223.8 587.5 219C590.7 214.2 593.8 209.1 597 205.4C600.2 201.7 602.5 200.4 606.9 197C611.3 193.6 616.9 188.9 623.2 184.8C629.6 180.7 638.6 176.2 645 172.6C651.4 169 655.3 167.1 661.4 163C667.5 158.9 675 153.1 681.5 148C688 142.9 694 137.2 700.5 132.5C707 127.8 714.2 122.5 720.8 119.5C727.4 116.5 732.2 115.7 739.9 114.6C747.6 113.5 756.6 113.2 767 113C777.4 112.8 791.6 112.8 802.5 113.3C813.4 113.8 822.1 114.8 832.5 115.8C842.9 116.8 855.9 117.7 865 119.2C874.1 120.7 880.2 122 886.9 125C893.6 128 899.1 131.5 905 137.2C910.9 142.9 916.5 150.8 922 159C927.5 167.2 932.9 177 938 186.2C943.1 195.4 948 204.7 952.5 214C957 223.3 962 234.2 965.3 242C968.6 249.8 970.4 256.1 972.3 261C974.1 265.9 975 267.8 976.4 271.5C977.8 275.2 979.1 279 980.6 283C982.1 287 983 288.7 985.1 295.4C987.2 302.1 990.3 314.3 993.2 323.2C996.1 332.1 999 340.9 1002.5 348.6C1006 356.3 1009.8 363.3 1014 369.5C1018.2 375.7 1022.9 380.3 1027.9 385.7C1032.9 391.1 1037.9 397.3 1044.1 401.9C1050.3 406.5 1058.4 410.5 1064.9 413.4C1071.5 416.3 1077.2 417.9 1083.4 419.2C1089.6 420.5 1091.8 420.9 1101.9 421.3C1112 421.7 1137.2 421.5 1144.2 421.5" fill="none" stroke="#9e1f63" stroke-width="4" stroke-linecap="butt" stroke-linejoin="round"/>
<path d="M320.4 495C322.5 494.7 326.9 494.7 333.3 493.3C339.7 491.9 350.9 489.1 358.7 486.7C366.5 484.3 373.1 481.8 380 478.7C386.9 475.6 393.5 471.2 400 467.8C406.5 464.4 412.6 461.6 419 458.1C425.4 454.6 432.4 450.8 438.1 446.7C443.8 442.6 448.5 437.8 453.3 433.3C458.1 428.9 462.2 425.4 466.7 420C471.1 414.6 476.2 407.4 480 401C483.8 394.6 486.6 388.2 489.5 381.9C492.4 375.5 494.8 369.2 497.1 362.9C499.4 356.6 501.2 351.5 503.5 344C505.8 336.5 508.8 325.1 510.9 317.8C513 310.5 514.5 305.6 516.1 300C517.8 294.4 518.9 289.7 520.8 284.4C522.7 279.1 525.3 273 527.6 268C529.9 263 531.9 259.1 534.4 254.4C536.9 249.7 539.6 244.5 542.6 239.5C545.6 234.5 548.7 229.3 552.1 224.5C555.5 219.7 559.3 215.3 563 210.9C566.7 206.5 568.7 203.2 574.2 198C579.7 192.8 588.7 185.2 596 179.4C603.3 173.6 611 168.9 617.8 163C624.6 157.1 631 149.7 636.9 144C642.8 138.3 647.3 133.1 653.2 129C659.1 124.9 666.1 122 672.2 119.5C678.3 117 684.2 115.5 690 114.2C695.8 113 699.8 112.6 707.2 112C714.6 111.4 720.9 110.9 734.5 110.8C748.1 110.7 774.4 110.8 788.9 111.3C803.4 111.8 810.7 112.9 821.6 114C832.5 115.1 845.1 116.4 854.2 118C863.3 119.6 869.6 121.1 876 123.6C882.4 126.1 886.9 128.5 892.4 133C897.9 137.5 903.3 142.9 908.7 150.8C914.1 158.8 920 169.8 925 180.7C930 191.6 934.7 204.9 938.6 216C942.5 227.1 945.5 238 948.2 247C950.9 256 952.7 261.9 955 270C957.3 278.1 959.1 286.9 962 295.4C964.9 303.9 968.7 312.8 972.4 320.9C976.1 329 979.8 336.3 984 344C988.2 351.7 992.8 359.8 997.8 367.1C1002.8 374.4 1008.2 381.8 1014 388C1019.8 394.2 1026.7 399.8 1032.5 404.2C1038.3 408.6 1043.7 412 1048.7 414.6C1053.7 417.2 1056.5 418.8 1062.6 419.9C1068.6 421 1071.4 421.2 1085 421.5C1098.6 421.8 1134.3 421.8 1144.2 421.8" fill="none" stroke="#f47b20" stroke-width="4" stroke-linecap="butt" stroke-linejoin="round"/>
<path d="M320.4 494.9C323.7 494 333.6 491.8 340 489.3C346.4 486.8 353.4 483.1 358.7 480C364 476.9 368 474 372 470.7C376 467.4 379.1 463.8 382.7 460C386.2 456.2 389.8 452.4 393.3 448C396.8 443.6 400.8 437.7 403.8 433.3C406.8 428.9 408.5 427 411.4 421.9C414.3 416.8 417.8 409.2 421 402.9C424.2 396.5 427.9 388.4 430.5 383.8C433.1 379.2 433.3 379.4 436.5 375.4C439.7 371.4 445.1 365.1 449.5 359.8C453.9 354.5 458.7 349.1 462.9 343.4C467.1 337.7 470.9 331.6 474.9 325.4C478.9 319.1 482.9 312.4 486.9 305.9C490.9 299.4 495.2 292.2 498.9 286.5C502.6 280.8 505.4 277.6 509 271.8C512.6 266 516.6 258.9 520.8 251.7C525 244.5 529.4 237.4 534.4 228.6C539.4 219.8 545.9 207.9 550.7 199C555.5 190.1 557.7 185.6 563.4 175.3C569.1 165 578.8 148.1 585.1 137.2C591.5 126.3 596.5 116.5 601.5 110C606.5 103.5 610.6 99 615.1 98.5C619.6 98 623.7 101.7 628.7 107.2C633.7 112.7 639.5 122.2 645 131.7C650.5 141.2 655.4 153.7 661.4 164.4C667.4 175.1 675.5 187.2 681 196C686.5 204.8 690.1 209.6 694.5 217C698.9 224.4 703.6 233.1 707.2 240.6C710.8 248.1 712.9 254.2 716 262C719.1 269.8 721.4 277.3 725.9 287.2C730.4 297.1 736.7 311.6 742.9 321.2C749.1 330.8 756.5 338.2 763.3 345C770.1 351.8 776.9 357.8 783.7 362C790.5 366.2 795 367.7 804 370.5C813 373.3 826.7 376.1 838 379C849.3 381.9 861.8 384.8 872 387.6C882.2 390.4 891.3 393.3 899.3 396C907.3 398.7 913.2 401.5 920 403.8C926.8 406.1 933.6 408 940 410C946.4 412 951.6 414.1 958.5 415.7C965.4 417.3 973.1 418.9 981.6 419.9C990.1 420.9 997 421.3 1009.4 421.8C1021.8 422.3 1033.2 422.7 1055.7 422.9C1078.2 423.1 1129.5 423.1 1144.2 423.2" fill="none" stroke="#27a9e1" stroke-width="4" stroke-linecap="butt" stroke-linejoin="round"/>
<path d="M177.7 391C188.1 391 219.6 391 240 391C260.4 391 286.6 391.1 300 390.8C313.4 390.5 313 390.4 320.4 389.3C327.8 388.2 336.3 387 344.2 384.1C352.1 381.2 360.1 377.6 368 372.2C375.9 366.8 383.9 359.7 391.8 351.8C399.7 343.9 408.5 333.4 415.6 324.6C422.7 315.8 428.9 306.9 434.5 299C440.1 291.1 445.3 283.3 449.3 277.2C453.3 271.1 455.6 267.5 458.3 262.5C461.1 257.5 463.2 253.1 465.8 247C468.4 240.9 470.8 234.3 474.2 226C477.6 217.7 482 206.5 486 197.3C490 188.1 494.3 179 498.4 170.7C502.5 162.4 507.4 153.7 510.8 147.7C514.2 141.7 516.1 138.7 519 134.5C521.9 130.3 524.2 126.4 528 122.8C531.8 119.2 535.7 115.1 541.6 112.7C547.5 110.3 550.7 109.5 563.4 108.6C576.1 107.7 595.1 107.5 617.8 107.2C640.5 106.9 671 107 699.5 107C728 107 764.9 106.7 788.9 107.2C812.9 107.7 831.5 109.4 843.4 110C855.2 110.6 854.8 110.4 860 111C865.2 111.6 869.8 112.4 874.7 113.8C879.6 115.2 884.9 117.2 889.4 119.6C893.9 122 897.5 124.7 901.6 128.2C905.7 131.7 909.8 135.7 913.9 140.4C918 145.1 922 150.8 926.1 156.3C930.2 161.8 934.3 167 938.4 173.5C942.5 180 946.9 188.6 950.6 195.5C954.3 202.4 957.1 207.8 960.4 215.1C963.7 222.4 967.3 232.2 970.2 239.6C973.1 246.9 975.4 253.3 977.6 259.2C979.8 265.1 981.2 268.6 983.2 275C985.2 281.4 987.3 289.8 989.7 297.8C992.1 305.8 994.9 314.7 997.8 323.2C1000.7 331.7 1003.6 340.9 1007.1 348.6C1010.6 356.3 1014.4 363.3 1018.6 369.5C1022.8 375.7 1027.5 380.7 1032.5 385.7C1037.5 390.7 1042.5 395.3 1048.7 399.5C1054.9 403.7 1062.5 408.2 1069.5 411.1C1076.5 414 1082.7 415.5 1090.4 416.9C1098.1 418.2 1106.8 418.8 1115.8 419.2C1124.8 419.6 1139.5 419.5 1144.2 419.6" fill="none" stroke="#8cc243" stroke-width="4" stroke-linecap="butt" stroke-linejoin="round"/>
</g>
<g id="texts">
<text x="108" y="122.8" font-size="33" font-weight="bold" fill="#7b9b48" textLength="238" lengthAdjust="spacingAndGlyphs">Disponibilité de</text>
<text x="108" y="161.6" font-size="33" font-weight="bold" fill="#7b9b48" textLength="292" lengthAdjust="spacingAndGlyphs">l’azote pour le maïs</text>
<rect x="107.6" y="220.4" width="25.3" height="24.3" rx="2.5" fill="#8cc63f"/>
<text x="145.5" y="243.2" font-size="21" font-weight="normal" fill="#000" textLength="192" lengthAdjust="spacingAndGlyphs">Besoin (absorption)</text>
<text x="146" y="270.7" font-size="21" font-weight="normal" fill="#000" textLength="198" lengthAdjust="spacingAndGlyphs">d’azote par la plante</text>
<text x="146" y="298.2" font-size="21" font-weight="normal" fill="#000" textLength="74.5" lengthAdjust="spacingAndGlyphs">de maïs</text>
<text x="328.6" y="536.1" font-size="14.8" font-weight="normal" fill="#fbf7ef" textLength="173" lengthAdjust="spacingAndGlyphs">Dernier apport d’azote</text>
<text x="107.3" y="586.7" font-size="20" font-weight="bold" fill="#000" textLength="253.5" lengthAdjust="spacingAndGlyphs">Disponibilité et effet de :</text>
<rect x="107.8" y="603.7" width="22.9" height="22.9" rx="1.2" fill="#9e8b80"/>
<text x="150" y="623.8" font-size="21" font-weight="normal" fill="#000" textLength="417.5" lengthAdjust="spacingAndGlyphs">Azote nitrique (NS) Nitrate de chaux 15,5%</text>
<rect x="107.8" y="632.1" width="22.9" height="22.9" rx="1.2" fill="#f47b20"/>
<text x="150" y="651.6" font-size="21" font-weight="normal" fill="#000" textLength="718.2" lengthAdjust="spacingAndGlyphs">Azote uréique et ammoniacal (NU/NA) Landor sulfamid 30% + 3 Mg + 10 S</text>
<rect x="107.8" y="660.6" width="22.9" height="22.9" rx="1.2" fill="#2aa7df"/>
<text x="150" y="679.4" font-size="21" font-weight="normal" fill="#000" textLength="655.5" lengthAdjust="spacingAndGlyphs">Azote nitrique et ammoniacal (NS/NA) Nitrate d’ammoniaque 27 %</text>
<rect x="107.8" y="689" width="22.9" height="22.9" rx="1.2" fill="#a01f6b"/>
<text x="150" y="707.2" font-size="21" font-weight="normal" fill="#000" textLength="334.2" lengthAdjust="spacingAndGlyphs">Azote uréique (NU) Urée granulée</text>
</g>
</svg>
</body></html>
